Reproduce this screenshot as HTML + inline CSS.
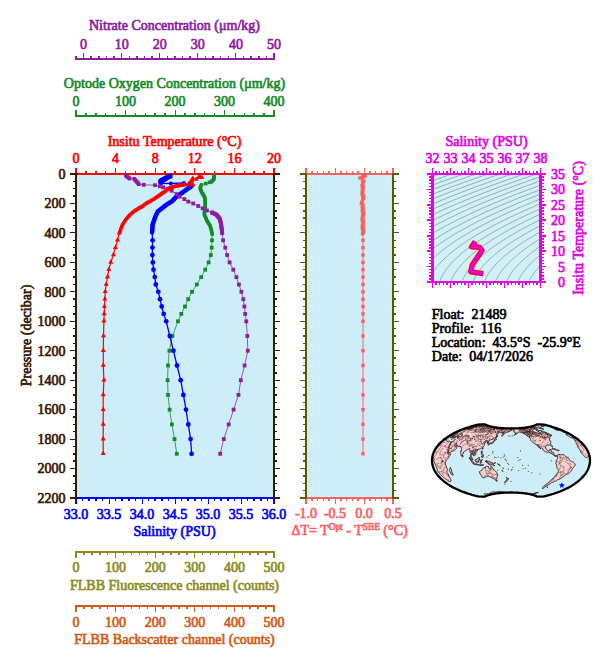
<!DOCTYPE html>
<html><head><meta charset="utf-8"><style>
html,body{margin:0;padding:0;background:#fff;width:609px;height:663px;overflow:hidden}
svg{display:block}
text{font-family:"Liberation Serif",serif;font-size:15px;stroke-width:0.7px}
</style></head><body>
<svg width="609" height="663" viewBox="0 0 609 663">
<g shape-rendering="crispEdges">
<rect x="75.00" y="58.00" width="200.00" height="2.00" fill="#901CA0"/>
<rect x="75.00" y="56.00" width="2.00" height="2.00" fill="#901CA0"/>
<rect x="83.12" y="53.00" width="1.00" height="5.00" fill="#901CA0"/>
<rect x="90.48" y="56.00" width="1.50" height="2.00" fill="#901CA0"/>
<rect x="98.10" y="56.00" width="1.50" height="2.00" fill="#901CA0"/>
<rect x="105.71" y="56.00" width="1.50" height="2.00" fill="#901CA0"/>
<rect x="113.33" y="56.00" width="1.50" height="2.00" fill="#901CA0"/>
<rect x="121.19" y="53.00" width="1.00" height="5.00" fill="#901CA0"/>
<rect x="128.56" y="56.00" width="1.50" height="2.00" fill="#901CA0"/>
<rect x="136.17" y="56.00" width="1.50" height="2.00" fill="#901CA0"/>
<rect x="143.79" y="56.00" width="1.50" height="2.00" fill="#901CA0"/>
<rect x="151.40" y="56.00" width="1.50" height="2.00" fill="#901CA0"/>
<rect x="159.27" y="53.00" width="1.00" height="5.00" fill="#901CA0"/>
<rect x="166.63" y="56.00" width="1.50" height="2.00" fill="#901CA0"/>
<rect x="174.25" y="56.00" width="1.50" height="2.00" fill="#901CA0"/>
<rect x="181.87" y="56.00" width="1.50" height="2.00" fill="#901CA0"/>
<rect x="189.48" y="56.00" width="1.50" height="2.00" fill="#901CA0"/>
<rect x="197.35" y="53.00" width="1.00" height="5.00" fill="#901CA0"/>
<rect x="204.71" y="56.00" width="1.50" height="2.00" fill="#901CA0"/>
<rect x="212.33" y="56.00" width="1.50" height="2.00" fill="#901CA0"/>
<rect x="219.94" y="56.00" width="1.50" height="2.00" fill="#901CA0"/>
<rect x="227.56" y="56.00" width="1.50" height="2.00" fill="#901CA0"/>
<rect x="235.42" y="53.00" width="1.00" height="5.00" fill="#901CA0"/>
<rect x="242.79" y="56.00" width="1.50" height="2.00" fill="#901CA0"/>
<rect x="250.40" y="56.00" width="1.50" height="2.00" fill="#901CA0"/>
<rect x="258.02" y="56.00" width="1.50" height="2.00" fill="#901CA0"/>
<rect x="265.63" y="56.00" width="1.50" height="2.00" fill="#901CA0"/>
<rect x="273.00" y="53.00" width="2.00" height="5.00" fill="#901CA0"/>
<text transform="translate(83.62,48.70) scale(0.935,1)" fill="#901CA0" stroke="#901CA0" text-anchor="middle" >0</text>
<text transform="translate(121.69,48.70) scale(0.935,1)" fill="#901CA0" stroke="#901CA0" text-anchor="middle" >10</text>
<text transform="translate(159.77,48.70) scale(0.935,1)" fill="#901CA0" stroke="#901CA0" text-anchor="middle" >20</text>
<text transform="translate(197.85,48.70) scale(0.935,1)" fill="#901CA0" stroke="#901CA0" text-anchor="middle" >30</text>
<text transform="translate(235.92,48.70) scale(0.935,1)" fill="#901CA0" stroke="#901CA0" text-anchor="middle" >40</text>
<text transform="translate(274.00,48.70) scale(0.935,1)" fill="#901CA0" stroke="#901CA0" text-anchor="middle" >50</text>
<rect x="75.00" y="115.00" width="200.00" height="2.00" fill="#148A28"/>
<rect x="75.00" y="110.00" width="2.00" height="5.00" fill="#148A28"/>
<rect x="85.15" y="113.00" width="1.50" height="2.00" fill="#148A28"/>
<rect x="95.05" y="113.00" width="1.50" height="2.00" fill="#148A28"/>
<rect x="104.95" y="113.00" width="1.50" height="2.00" fill="#148A28"/>
<rect x="114.85" y="113.00" width="1.50" height="2.00" fill="#148A28"/>
<rect x="125.00" y="110.00" width="1.00" height="5.00" fill="#148A28"/>
<rect x="134.65" y="113.00" width="1.50" height="2.00" fill="#148A28"/>
<rect x="144.55" y="113.00" width="1.50" height="2.00" fill="#148A28"/>
<rect x="154.45" y="113.00" width="1.50" height="2.00" fill="#148A28"/>
<rect x="164.35" y="113.00" width="1.50" height="2.00" fill="#148A28"/>
<rect x="174.50" y="110.00" width="1.00" height="5.00" fill="#148A28"/>
<rect x="184.15" y="113.00" width="1.50" height="2.00" fill="#148A28"/>
<rect x="194.05" y="113.00" width="1.50" height="2.00" fill="#148A28"/>
<rect x="203.95" y="113.00" width="1.50" height="2.00" fill="#148A28"/>
<rect x="213.85" y="113.00" width="1.50" height="2.00" fill="#148A28"/>
<rect x="224.00" y="110.00" width="1.00" height="5.00" fill="#148A28"/>
<rect x="233.65" y="113.00" width="1.50" height="2.00" fill="#148A28"/>
<rect x="243.55" y="113.00" width="1.50" height="2.00" fill="#148A28"/>
<rect x="253.45" y="113.00" width="1.50" height="2.00" fill="#148A28"/>
<rect x="263.35" y="113.00" width="1.50" height="2.00" fill="#148A28"/>
<rect x="273.00" y="110.00" width="2.00" height="5.00" fill="#148A28"/>
<text transform="translate(76.00,106.00) scale(0.935,1)" fill="#148A28" stroke="#148A28" text-anchor="middle" >0</text>
<text transform="translate(125.50,106.00) scale(0.935,1)" fill="#148A28" stroke="#148A28" text-anchor="middle" >100</text>
<text transform="translate(175.00,106.00) scale(0.935,1)" fill="#148A28" stroke="#148A28" text-anchor="middle" >200</text>
<text transform="translate(224.50,106.00) scale(0.935,1)" fill="#148A28" stroke="#148A28" text-anchor="middle" >300</text>
<text transform="translate(274.00,106.00) scale(0.935,1)" fill="#148A28" stroke="#148A28" text-anchor="middle" >400</text>
</g>
<text transform="translate(174.50,30.00) scale(0.935,1)" fill="#901CA0" stroke="#901CA0" text-anchor="middle" >Nitrate Concentration (&#956;m/kg)</text>
<text transform="translate(174.50,87.50) scale(0.935,1)" fill="#148A28" stroke="#148A28" text-anchor="middle" >Optode Oxygen Concentration (&#956;m/kg)</text>
<text transform="translate(174.50,146.00) scale(0.935,1)" fill="#FF0000" stroke="#FF0000" text-anchor="middle" >Insitu Temperature (&#176;C)</text>
<rect x="77.00" y="175.00" width="196.00" height="322.00" fill="#CDEEF8"/>
<g shape-rendering="crispEdges">
<rect x="75.00" y="173.00" width="200.00" height="2.00" fill="#FF0000"/>
<rect x="75.00" y="168.00" width="2.00" height="5.00" fill="#FF0000"/>
<rect x="85.15" y="171.00" width="1.50" height="2.00" fill="#FF0000"/>
<rect x="95.05" y="171.00" width="1.50" height="2.00" fill="#FF0000"/>
<rect x="104.95" y="171.00" width="1.50" height="2.00" fill="#FF0000"/>
<rect x="115.10" y="168.00" width="1.00" height="5.00" fill="#FF0000"/>
<rect x="124.75" y="171.00" width="1.50" height="2.00" fill="#FF0000"/>
<rect x="134.65" y="171.00" width="1.50" height="2.00" fill="#FF0000"/>
<rect x="144.55" y="171.00" width="1.50" height="2.00" fill="#FF0000"/>
<rect x="154.70" y="168.00" width="1.00" height="5.00" fill="#FF0000"/>
<rect x="164.35" y="171.00" width="1.50" height="2.00" fill="#FF0000"/>
<rect x="174.25" y="171.00" width="1.50" height="2.00" fill="#FF0000"/>
<rect x="184.15" y="171.00" width="1.50" height="2.00" fill="#FF0000"/>
<rect x="194.30" y="168.00" width="1.00" height="5.00" fill="#FF0000"/>
<rect x="203.95" y="171.00" width="1.50" height="2.00" fill="#FF0000"/>
<rect x="213.85" y="171.00" width="1.50" height="2.00" fill="#FF0000"/>
<rect x="223.75" y="171.00" width="1.50" height="2.00" fill="#FF0000"/>
<rect x="233.90" y="168.00" width="1.00" height="5.00" fill="#FF0000"/>
<rect x="243.55" y="171.00" width="1.50" height="2.00" fill="#FF0000"/>
<rect x="253.45" y="171.00" width="1.50" height="2.00" fill="#FF0000"/>
<rect x="263.35" y="171.00" width="1.50" height="2.00" fill="#FF0000"/>
<rect x="273.00" y="168.00" width="2.00" height="5.00" fill="#FF0000"/>
<text transform="translate(76.00,162.50) scale(0.935,1)" fill="#FF0000" stroke="#FF0000" text-anchor="middle" >0</text>
<text transform="translate(115.60,162.50) scale(0.935,1)" fill="#FF0000" stroke="#FF0000" text-anchor="middle" >4</text>
<text transform="translate(155.20,162.50) scale(0.935,1)" fill="#FF0000" stroke="#FF0000" text-anchor="middle" >8</text>
<text transform="translate(194.80,162.50) scale(0.935,1)" fill="#FF0000" stroke="#FF0000" text-anchor="middle" >12</text>
<text transform="translate(234.40,162.50) scale(0.935,1)" fill="#FF0000" stroke="#FF0000" text-anchor="middle" >16</text>
<text transform="translate(274.00,162.50) scale(0.935,1)" fill="#FF0000" stroke="#FF0000" text-anchor="middle" >20</text>
<rect x="75.00" y="497.00" width="200.00" height="2.00" fill="#0000FF"/>
<rect x="75.00" y="499.00" width="2.00" height="5.00" fill="#0000FF"/>
<rect x="81.85" y="499.00" width="1.50" height="2.00" fill="#0000FF"/>
<rect x="88.45" y="499.00" width="1.50" height="2.00" fill="#0000FF"/>
<rect x="95.05" y="499.00" width="1.50" height="2.00" fill="#0000FF"/>
<rect x="101.65" y="499.00" width="1.50" height="2.00" fill="#0000FF"/>
<rect x="108.50" y="499.00" width="1.00" height="5.00" fill="#0000FF"/>
<rect x="114.85" y="499.00" width="1.50" height="2.00" fill="#0000FF"/>
<rect x="121.45" y="499.00" width="1.50" height="2.00" fill="#0000FF"/>
<rect x="128.05" y="499.00" width="1.50" height="2.00" fill="#0000FF"/>
<rect x="134.65" y="499.00" width="1.50" height="2.00" fill="#0000FF"/>
<rect x="141.50" y="499.00" width="1.00" height="5.00" fill="#0000FF"/>
<rect x="147.85" y="499.00" width="1.50" height="2.00" fill="#0000FF"/>
<rect x="154.45" y="499.00" width="1.50" height="2.00" fill="#0000FF"/>
<rect x="161.05" y="499.00" width="1.50" height="2.00" fill="#0000FF"/>
<rect x="167.65" y="499.00" width="1.50" height="2.00" fill="#0000FF"/>
<rect x="174.50" y="499.00" width="1.00" height="5.00" fill="#0000FF"/>
<rect x="180.85" y="499.00" width="1.50" height="2.00" fill="#0000FF"/>
<rect x="187.45" y="499.00" width="1.50" height="2.00" fill="#0000FF"/>
<rect x="194.05" y="499.00" width="1.50" height="2.00" fill="#0000FF"/>
<rect x="200.65" y="499.00" width="1.50" height="2.00" fill="#0000FF"/>
<rect x="207.50" y="499.00" width="1.00" height="5.00" fill="#0000FF"/>
<rect x="213.85" y="499.00" width="1.50" height="2.00" fill="#0000FF"/>
<rect x="220.45" y="499.00" width="1.50" height="2.00" fill="#0000FF"/>
<rect x="227.05" y="499.00" width="1.50" height="2.00" fill="#0000FF"/>
<rect x="233.65" y="499.00" width="1.50" height="2.00" fill="#0000FF"/>
<rect x="240.50" y="499.00" width="1.00" height="5.00" fill="#0000FF"/>
<rect x="246.85" y="499.00" width="1.50" height="2.00" fill="#0000FF"/>
<rect x="253.45" y="499.00" width="1.50" height="2.00" fill="#0000FF"/>
<rect x="260.05" y="499.00" width="1.50" height="2.00" fill="#0000FF"/>
<rect x="266.65" y="499.00" width="1.50" height="2.00" fill="#0000FF"/>
<rect x="273.00" y="499.00" width="2.00" height="5.00" fill="#0000FF"/>
<text transform="translate(76.00,518.50) scale(0.935,1)" fill="#0000FF" stroke="#0000FF" text-anchor="middle" >33.0</text>
<text transform="translate(109.00,518.50) scale(0.935,1)" fill="#0000FF" stroke="#0000FF" text-anchor="middle" >33.5</text>
<text transform="translate(142.00,518.50) scale(0.935,1)" fill="#0000FF" stroke="#0000FF" text-anchor="middle" >34.0</text>
<text transform="translate(175.00,518.50) scale(0.935,1)" fill="#0000FF" stroke="#0000FF" text-anchor="middle" >34.5</text>
<text transform="translate(208.00,518.50) scale(0.935,1)" fill="#0000FF" stroke="#0000FF" text-anchor="middle" >35.0</text>
<text transform="translate(241.00,518.50) scale(0.935,1)" fill="#0000FF" stroke="#0000FF" text-anchor="middle" >35.5</text>
<text transform="translate(274.00,518.50) scale(0.935,1)" fill="#0000FF" stroke="#0000FF" text-anchor="middle" >36.0</text>
<rect x="75.00" y="173.00" width="2.00" height="326.00" fill="#3A1800"/>
<rect x="273.00" y="173.00" width="2.00" height="326.00" fill="#3A1800"/>
<rect x="70.00" y="173.00" width="5.00" height="2.00" fill="#3A1800"/>
<rect x="275.00" y="173.00" width="5.00" height="2.00" fill="#3A1800"/>
<rect x="73.00" y="180.61" width="2.00" height="1.50" fill="#3A1800"/>
<rect x="275.00" y="180.61" width="2.00" height="1.50" fill="#3A1800"/>
<rect x="73.00" y="187.98" width="2.00" height="1.50" fill="#3A1800"/>
<rect x="275.00" y="187.98" width="2.00" height="1.50" fill="#3A1800"/>
<rect x="73.00" y="195.34" width="2.00" height="1.50" fill="#3A1800"/>
<rect x="275.00" y="195.34" width="2.00" height="1.50" fill="#3A1800"/>
<rect x="70.00" y="202.95" width="5.00" height="1.00" fill="#3A1800"/>
<rect x="275.00" y="202.95" width="5.00" height="1.00" fill="#3A1800"/>
<rect x="73.00" y="210.07" width="2.00" height="1.50" fill="#3A1800"/>
<rect x="275.00" y="210.07" width="2.00" height="1.50" fill="#3A1800"/>
<rect x="73.00" y="217.43" width="2.00" height="1.50" fill="#3A1800"/>
<rect x="275.00" y="217.43" width="2.00" height="1.50" fill="#3A1800"/>
<rect x="73.00" y="224.80" width="2.00" height="1.50" fill="#3A1800"/>
<rect x="275.00" y="224.80" width="2.00" height="1.50" fill="#3A1800"/>
<rect x="70.00" y="232.41" width="5.00" height="1.00" fill="#3A1800"/>
<rect x="275.00" y="232.41" width="5.00" height="1.00" fill="#3A1800"/>
<rect x="73.00" y="239.52" width="2.00" height="1.50" fill="#3A1800"/>
<rect x="275.00" y="239.52" width="2.00" height="1.50" fill="#3A1800"/>
<rect x="73.00" y="246.89" width="2.00" height="1.50" fill="#3A1800"/>
<rect x="275.00" y="246.89" width="2.00" height="1.50" fill="#3A1800"/>
<rect x="73.00" y="254.25" width="2.00" height="1.50" fill="#3A1800"/>
<rect x="275.00" y="254.25" width="2.00" height="1.50" fill="#3A1800"/>
<rect x="70.00" y="261.86" width="5.00" height="1.00" fill="#3A1800"/>
<rect x="275.00" y="261.86" width="5.00" height="1.00" fill="#3A1800"/>
<rect x="73.00" y="268.98" width="2.00" height="1.50" fill="#3A1800"/>
<rect x="275.00" y="268.98" width="2.00" height="1.50" fill="#3A1800"/>
<rect x="73.00" y="276.34" width="2.00" height="1.50" fill="#3A1800"/>
<rect x="275.00" y="276.34" width="2.00" height="1.50" fill="#3A1800"/>
<rect x="73.00" y="283.70" width="2.00" height="1.50" fill="#3A1800"/>
<rect x="275.00" y="283.70" width="2.00" height="1.50" fill="#3A1800"/>
<rect x="70.00" y="291.32" width="5.00" height="1.00" fill="#3A1800"/>
<rect x="275.00" y="291.32" width="5.00" height="1.00" fill="#3A1800"/>
<rect x="73.00" y="298.43" width="2.00" height="1.50" fill="#3A1800"/>
<rect x="275.00" y="298.43" width="2.00" height="1.50" fill="#3A1800"/>
<rect x="73.00" y="305.80" width="2.00" height="1.50" fill="#3A1800"/>
<rect x="275.00" y="305.80" width="2.00" height="1.50" fill="#3A1800"/>
<rect x="73.00" y="313.16" width="2.00" height="1.50" fill="#3A1800"/>
<rect x="275.00" y="313.16" width="2.00" height="1.50" fill="#3A1800"/>
<rect x="70.00" y="320.77" width="5.00" height="1.00" fill="#3A1800"/>
<rect x="275.00" y="320.77" width="5.00" height="1.00" fill="#3A1800"/>
<rect x="73.00" y="327.89" width="2.00" height="1.50" fill="#3A1800"/>
<rect x="275.00" y="327.89" width="2.00" height="1.50" fill="#3A1800"/>
<rect x="73.00" y="335.25" width="2.00" height="1.50" fill="#3A1800"/>
<rect x="275.00" y="335.25" width="2.00" height="1.50" fill="#3A1800"/>
<rect x="73.00" y="342.61" width="2.00" height="1.50" fill="#3A1800"/>
<rect x="275.00" y="342.61" width="2.00" height="1.50" fill="#3A1800"/>
<rect x="70.00" y="350.23" width="5.00" height="1.00" fill="#3A1800"/>
<rect x="275.00" y="350.23" width="5.00" height="1.00" fill="#3A1800"/>
<rect x="73.00" y="357.34" width="2.00" height="1.50" fill="#3A1800"/>
<rect x="275.00" y="357.34" width="2.00" height="1.50" fill="#3A1800"/>
<rect x="73.00" y="364.70" width="2.00" height="1.50" fill="#3A1800"/>
<rect x="275.00" y="364.70" width="2.00" height="1.50" fill="#3A1800"/>
<rect x="73.00" y="372.07" width="2.00" height="1.50" fill="#3A1800"/>
<rect x="275.00" y="372.07" width="2.00" height="1.50" fill="#3A1800"/>
<rect x="70.00" y="379.68" width="5.00" height="1.00" fill="#3A1800"/>
<rect x="275.00" y="379.68" width="5.00" height="1.00" fill="#3A1800"/>
<rect x="73.00" y="386.80" width="2.00" height="1.50" fill="#3A1800"/>
<rect x="275.00" y="386.80" width="2.00" height="1.50" fill="#3A1800"/>
<rect x="73.00" y="394.16" width="2.00" height="1.50" fill="#3A1800"/>
<rect x="275.00" y="394.16" width="2.00" height="1.50" fill="#3A1800"/>
<rect x="73.00" y="401.52" width="2.00" height="1.50" fill="#3A1800"/>
<rect x="275.00" y="401.52" width="2.00" height="1.50" fill="#3A1800"/>
<rect x="70.00" y="409.14" width="5.00" height="1.00" fill="#3A1800"/>
<rect x="275.00" y="409.14" width="5.00" height="1.00" fill="#3A1800"/>
<rect x="73.00" y="416.25" width="2.00" height="1.50" fill="#3A1800"/>
<rect x="275.00" y="416.25" width="2.00" height="1.50" fill="#3A1800"/>
<rect x="73.00" y="423.61" width="2.00" height="1.50" fill="#3A1800"/>
<rect x="275.00" y="423.61" width="2.00" height="1.50" fill="#3A1800"/>
<rect x="73.00" y="430.98" width="2.00" height="1.50" fill="#3A1800"/>
<rect x="275.00" y="430.98" width="2.00" height="1.50" fill="#3A1800"/>
<rect x="70.00" y="438.59" width="5.00" height="1.00" fill="#3A1800"/>
<rect x="275.00" y="438.59" width="5.00" height="1.00" fill="#3A1800"/>
<rect x="73.00" y="445.70" width="2.00" height="1.50" fill="#3A1800"/>
<rect x="275.00" y="445.70" width="2.00" height="1.50" fill="#3A1800"/>
<rect x="73.00" y="453.07" width="2.00" height="1.50" fill="#3A1800"/>
<rect x="275.00" y="453.07" width="2.00" height="1.50" fill="#3A1800"/>
<rect x="73.00" y="460.43" width="2.00" height="1.50" fill="#3A1800"/>
<rect x="275.00" y="460.43" width="2.00" height="1.50" fill="#3A1800"/>
<rect x="70.00" y="468.05" width="5.00" height="1.00" fill="#3A1800"/>
<rect x="275.00" y="468.05" width="5.00" height="1.00" fill="#3A1800"/>
<rect x="73.00" y="475.16" width="2.00" height="1.50" fill="#3A1800"/>
<rect x="275.00" y="475.16" width="2.00" height="1.50" fill="#3A1800"/>
<rect x="73.00" y="482.52" width="2.00" height="1.50" fill="#3A1800"/>
<rect x="275.00" y="482.52" width="2.00" height="1.50" fill="#3A1800"/>
<rect x="73.00" y="489.89" width="2.00" height="1.50" fill="#3A1800"/>
<rect x="275.00" y="489.89" width="2.00" height="1.50" fill="#3A1800"/>
<rect x="70.00" y="497.00" width="5.00" height="2.00" fill="#3A1800"/>
<rect x="275.00" y="497.00" width="5.00" height="2.00" fill="#3A1800"/>
</g>
<text transform="translate(65.50,178.80) scale(0.935,1)" fill="#3A1800" stroke="#3A1800" text-anchor="end" >0</text>
<text transform="translate(65.50,208.25) scale(0.935,1)" fill="#3A1800" stroke="#3A1800" text-anchor="end" >200</text>
<text transform="translate(65.50,237.71) scale(0.935,1)" fill="#3A1800" stroke="#3A1800" text-anchor="end" >400</text>
<text transform="translate(65.50,267.16) scale(0.935,1)" fill="#3A1800" stroke="#3A1800" text-anchor="end" >600</text>
<text transform="translate(65.50,296.62) scale(0.935,1)" fill="#3A1800" stroke="#3A1800" text-anchor="end" >800</text>
<text transform="translate(65.50,326.07) scale(0.935,1)" fill="#3A1800" stroke="#3A1800" text-anchor="end" >1000</text>
<text transform="translate(65.50,355.53) scale(0.935,1)" fill="#3A1800" stroke="#3A1800" text-anchor="end" >1200</text>
<text transform="translate(65.50,384.98) scale(0.935,1)" fill="#3A1800" stroke="#3A1800" text-anchor="end" >1400</text>
<text transform="translate(65.50,414.44) scale(0.935,1)" fill="#3A1800" stroke="#3A1800" text-anchor="end" >1600</text>
<text transform="translate(65.50,443.89) scale(0.935,1)" fill="#3A1800" stroke="#3A1800" text-anchor="end" >1800</text>
<text transform="translate(65.50,473.35) scale(0.935,1)" fill="#3A1800" stroke="#3A1800" text-anchor="end" >2000</text>
<text transform="translate(65.50,502.80) scale(0.935,1)" fill="#3A1800" stroke="#3A1800" text-anchor="end" >2200</text>
<text transform="translate(30.5,335.5) rotate(-90) scale(0.935,1)" fill="#3A1800" stroke="#3A1800" text-anchor="middle">Pressure (decibar)</text>
<text transform="translate(174.50,536.40) scale(0.935,1)" fill="#0000FF" stroke="#0000FF" text-anchor="middle" >Salinity (PSU)</text>
<g shape-rendering="crispEdges">
<rect x="75.00" y="551.00" width="200.00" height="2.00" fill="#8C8C22"/>
<rect x="75.00" y="553.00" width="2.00" height="5.00" fill="#8C8C22"/>
<rect x="83.17" y="553.00" width="1.50" height="2.00" fill="#8C8C22"/>
<rect x="91.09" y="553.00" width="1.50" height="2.00" fill="#8C8C22"/>
<rect x="99.01" y="553.00" width="1.50" height="2.00" fill="#8C8C22"/>
<rect x="106.93" y="553.00" width="1.50" height="2.00" fill="#8C8C22"/>
<rect x="115.10" y="553.00" width="1.00" height="5.00" fill="#8C8C22"/>
<rect x="122.77" y="553.00" width="1.50" height="2.00" fill="#8C8C22"/>
<rect x="130.69" y="553.00" width="1.50" height="2.00" fill="#8C8C22"/>
<rect x="138.61" y="553.00" width="1.50" height="2.00" fill="#8C8C22"/>
<rect x="146.53" y="553.00" width="1.50" height="2.00" fill="#8C8C22"/>
<rect x="154.70" y="553.00" width="1.00" height="5.00" fill="#8C8C22"/>
<rect x="162.37" y="553.00" width="1.50" height="2.00" fill="#8C8C22"/>
<rect x="170.29" y="553.00" width="1.50" height="2.00" fill="#8C8C22"/>
<rect x="178.21" y="553.00" width="1.50" height="2.00" fill="#8C8C22"/>
<rect x="186.13" y="553.00" width="1.50" height="2.00" fill="#8C8C22"/>
<rect x="194.30" y="553.00" width="1.00" height="5.00" fill="#8C8C22"/>
<rect x="201.97" y="553.00" width="1.50" height="2.00" fill="#8C8C22"/>
<rect x="209.89" y="553.00" width="1.50" height="2.00" fill="#8C8C22"/>
<rect x="217.81" y="553.00" width="1.50" height="2.00" fill="#8C8C22"/>
<rect x="225.73" y="553.00" width="1.50" height="2.00" fill="#8C8C22"/>
<rect x="233.90" y="553.00" width="1.00" height="5.00" fill="#8C8C22"/>
<rect x="241.57" y="553.00" width="1.50" height="2.00" fill="#8C8C22"/>
<rect x="249.49" y="553.00" width="1.50" height="2.00" fill="#8C8C22"/>
<rect x="257.41" y="553.00" width="1.50" height="2.00" fill="#8C8C22"/>
<rect x="265.33" y="553.00" width="1.50" height="2.00" fill="#8C8C22"/>
<rect x="273.00" y="553.00" width="2.00" height="5.00" fill="#8C8C22"/>
<text transform="translate(76.00,572.00) scale(0.935,1)" fill="#8C8C22" stroke="#8C8C22" text-anchor="middle" >0</text>
<text transform="translate(115.60,572.00) scale(0.935,1)" fill="#8C8C22" stroke="#8C8C22" text-anchor="middle" >100</text>
<text transform="translate(155.20,572.00) scale(0.935,1)" fill="#8C8C22" stroke="#8C8C22" text-anchor="middle" >200</text>
<text transform="translate(194.80,572.00) scale(0.935,1)" fill="#8C8C22" stroke="#8C8C22" text-anchor="middle" >300</text>
<text transform="translate(234.40,572.00) scale(0.935,1)" fill="#8C8C22" stroke="#8C8C22" text-anchor="middle" >400</text>
<text transform="translate(274.00,572.00) scale(0.935,1)" fill="#8C8C22" stroke="#8C8C22" text-anchor="middle" >500</text>
<rect x="75.00" y="605.00" width="200.00" height="2.00" fill="#D25A14"/>
<rect x="75.00" y="607.00" width="2.00" height="5.00" fill="#D25A14"/>
<rect x="83.17" y="607.00" width="1.50" height="2.00" fill="#D25A14"/>
<rect x="91.09" y="607.00" width="1.50" height="2.00" fill="#D25A14"/>
<rect x="99.01" y="607.00" width="1.50" height="2.00" fill="#D25A14"/>
<rect x="106.93" y="607.00" width="1.50" height="2.00" fill="#D25A14"/>
<rect x="115.10" y="607.00" width="1.00" height="5.00" fill="#D25A14"/>
<rect x="122.77" y="607.00" width="1.50" height="2.00" fill="#D25A14"/>
<rect x="130.69" y="607.00" width="1.50" height="2.00" fill="#D25A14"/>
<rect x="138.61" y="607.00" width="1.50" height="2.00" fill="#D25A14"/>
<rect x="146.53" y="607.00" width="1.50" height="2.00" fill="#D25A14"/>
<rect x="154.70" y="607.00" width="1.00" height="5.00" fill="#D25A14"/>
<rect x="162.37" y="607.00" width="1.50" height="2.00" fill="#D25A14"/>
<rect x="170.29" y="607.00" width="1.50" height="2.00" fill="#D25A14"/>
<rect x="178.21" y="607.00" width="1.50" height="2.00" fill="#D25A14"/>
<rect x="186.13" y="607.00" width="1.50" height="2.00" fill="#D25A14"/>
<rect x="194.30" y="607.00" width="1.00" height="5.00" fill="#D25A14"/>
<rect x="201.97" y="607.00" width="1.50" height="2.00" fill="#D25A14"/>
<rect x="209.89" y="607.00" width="1.50" height="2.00" fill="#D25A14"/>
<rect x="217.81" y="607.00" width="1.50" height="2.00" fill="#D25A14"/>
<rect x="225.73" y="607.00" width="1.50" height="2.00" fill="#D25A14"/>
<rect x="233.90" y="607.00" width="1.00" height="5.00" fill="#D25A14"/>
<rect x="241.57" y="607.00" width="1.50" height="2.00" fill="#D25A14"/>
<rect x="249.49" y="607.00" width="1.50" height="2.00" fill="#D25A14"/>
<rect x="257.41" y="607.00" width="1.50" height="2.00" fill="#D25A14"/>
<rect x="265.33" y="607.00" width="1.50" height="2.00" fill="#D25A14"/>
<rect x="273.00" y="607.00" width="2.00" height="5.00" fill="#D25A14"/>
<text transform="translate(76.00,626.50) scale(0.935,1)" fill="#D25A14" stroke="#D25A14" text-anchor="middle" >0</text>
<text transform="translate(115.60,626.50) scale(0.935,1)" fill="#D25A14" stroke="#D25A14" text-anchor="middle" >100</text>
<text transform="translate(155.20,626.50) scale(0.935,1)" fill="#D25A14" stroke="#D25A14" text-anchor="middle" >200</text>
<text transform="translate(194.80,626.50) scale(0.935,1)" fill="#D25A14" stroke="#D25A14" text-anchor="middle" >300</text>
<text transform="translate(234.40,626.50) scale(0.935,1)" fill="#D25A14" stroke="#D25A14" text-anchor="middle" >400</text>
<text transform="translate(274.00,626.50) scale(0.935,1)" fill="#D25A14" stroke="#D25A14" text-anchor="middle" >500</text>
</g>
<text transform="translate(174.50,590.00) scale(0.935,1)" fill="#8C8C22" stroke="#8C8C22" text-anchor="middle" >FLBB Fluorescence channel (counts)</text>
<text transform="translate(174.50,644.00) scale(0.935,1)" fill="#D25A14" stroke="#D25A14" text-anchor="middle" >FLBB Backscatter channel (counts)</text>
<path d="M214.3,175.2 L213.7,179.4 L211.1,182.0 L206.9,183.1 L201.6,184.7 L200.0,187.8 L201.6,192.1 L204.8,197.3 L205.3,203.7 L204.8,210.0 L204.2,214.2 L206.9,220.5 L210.1,225.8 L211.6,231.1 L212.2,234.3 L212.0,240.3 L211.7,247.6 L210.8,255.0 L208.6,262.4 L205.2,269.7 L201.2,277.1 L196.8,284.5 L192.0,291.8 L188.2,299.2 L185.0,306.5 L181.3,313.9 L178.0,321.3 L172.4,336.0 L169.4,350.7 L168.0,365.5 L167.6,380.2 L168.0,394.9 L169.6,409.6 L171.9,424.4 L174.5,439.1 L176.8,453.8" fill="none" stroke="#40A050" stroke-width="1" />
<rect x="212.6" y="173.5" width="3.4" height="3.4" fill="#148A28"/>
<rect x="212.5" y="174.6" width="3.4" height="3.4" fill="#148A28"/>
<rect x="212.3" y="175.6" width="3.4" height="3.4" fill="#148A28"/>
<rect x="212.2" y="176.7" width="3.4" height="3.4" fill="#148A28"/>
<rect x="212.0" y="177.7" width="3.4" height="3.4" fill="#148A28"/>
<rect x="211.1" y="178.6" width="3.4" height="3.4" fill="#148A28"/>
<rect x="210.3" y="179.4" width="3.4" height="3.4" fill="#148A28"/>
<rect x="209.4" y="180.3" width="3.4" height="3.4" fill="#148A28"/>
<rect x="207.8" y="180.5" width="3.6" height="3.6" fill="#148A28"/>
<rect x="204.0" y="181.8" width="3.6" height="3.6" fill="#148A28"/>
<rect x="200.0" y="183.1" width="3.2" height="3.2" fill="#148A28"/>
<rect x="199.5" y="184.1" width="3.2" height="3.2" fill="#148A28"/>
<rect x="198.9" y="185.2" width="3.2" height="3.2" fill="#148A28"/>
<rect x="198.4" y="186.2" width="3.2" height="3.2" fill="#148A28"/>
<rect x="198.8" y="187.3" width="3.2" height="3.2" fill="#148A28"/>
<rect x="199.2" y="188.3" width="3.2" height="3.2" fill="#148A28"/>
<rect x="199.6" y="189.4" width="3.2" height="3.2" fill="#148A28"/>
<rect x="200.0" y="190.5" width="3.2" height="3.2" fill="#148A28"/>
<rect x="200.5" y="191.4" width="3.2" height="3.2" fill="#148A28"/>
<rect x="201.1" y="192.2" width="3.2" height="3.2" fill="#148A28"/>
<rect x="201.6" y="193.1" width="3.2" height="3.2" fill="#148A28"/>
<rect x="202.1" y="194.0" width="3.2" height="3.2" fill="#148A28"/>
<rect x="202.7" y="194.8" width="3.2" height="3.2" fill="#148A28"/>
<rect x="203.2" y="195.7" width="3.2" height="3.2" fill="#148A28"/>
<rect x="203.3" y="196.8" width="3.2" height="3.2" fill="#148A28"/>
<rect x="203.4" y="197.8" width="3.2" height="3.2" fill="#148A28"/>
<rect x="203.5" y="198.9" width="3.2" height="3.2" fill="#148A28"/>
<rect x="203.5" y="200.0" width="3.2" height="3.2" fill="#148A28"/>
<rect x="203.6" y="201.0" width="3.2" height="3.2" fill="#148A28"/>
<rect x="203.7" y="202.1" width="3.2" height="3.2" fill="#148A28"/>
<rect x="203.6" y="203.2" width="3.2" height="3.2" fill="#148A28"/>
<rect x="203.5" y="204.2" width="3.2" height="3.2" fill="#148A28"/>
<rect x="203.5" y="205.2" width="3.2" height="3.2" fill="#148A28"/>
<rect x="203.4" y="206.3" width="3.2" height="3.2" fill="#148A28"/>
<rect x="203.3" y="207.3" width="3.2" height="3.2" fill="#148A28"/>
<rect x="203.2" y="208.4" width="3.2" height="3.2" fill="#148A28"/>
<rect x="203.1" y="209.5" width="3.2" height="3.2" fill="#148A28"/>
<rect x="202.9" y="210.5" width="3.2" height="3.2" fill="#148A28"/>
<rect x="202.8" y="211.5" width="3.2" height="3.2" fill="#148A28"/>
<rect x="202.6" y="212.6" width="3.2" height="3.2" fill="#148A28"/>
<rect x="203.0" y="213.7" width="3.2" height="3.2" fill="#148A28"/>
<rect x="203.5" y="214.7" width="3.2" height="3.2" fill="#148A28"/>
<rect x="204.0" y="215.8" width="3.2" height="3.2" fill="#148A28"/>
<rect x="204.4" y="216.8" width="3.2" height="3.2" fill="#148A28"/>
<rect x="204.8" y="217.8" width="3.2" height="3.2" fill="#148A28"/>
<rect x="205.3" y="218.9" width="3.2" height="3.2" fill="#148A28"/>
<rect x="205.8" y="219.8" width="3.2" height="3.2" fill="#148A28"/>
<rect x="206.4" y="220.7" width="3.2" height="3.2" fill="#148A28"/>
<rect x="206.9" y="221.6" width="3.2" height="3.2" fill="#148A28"/>
<rect x="207.4" y="222.4" width="3.2" height="3.2" fill="#148A28"/>
<rect x="208.0" y="223.3" width="3.2" height="3.2" fill="#148A28"/>
<rect x="208.5" y="224.2" width="3.2" height="3.2" fill="#148A28"/>
<rect x="208.8" y="225.3" width="3.2" height="3.2" fill="#148A28"/>
<rect x="209.1" y="226.3" width="3.2" height="3.2" fill="#148A28"/>
<rect x="209.4" y="227.4" width="3.2" height="3.2" fill="#148A28"/>
<rect x="209.7" y="228.4" width="3.2" height="3.2" fill="#148A28"/>
<rect x="210.0" y="229.5" width="3.2" height="3.2" fill="#148A28"/>
<rect x="210.2" y="230.6" width="3.2" height="3.2" fill="#148A28"/>
<rect x="210.4" y="231.6" width="3.2" height="3.2" fill="#148A28"/>
<rect x="210.6" y="232.7" width="3.2" height="3.2" fill="#148A28"/>
<rect x="210.1" y="238.4" width="3.8" height="3.8" fill="#148A28"/>
<rect x="209.8" y="245.7" width="3.8" height="3.8" fill="#148A28"/>
<rect x="208.9" y="253.1" width="3.8" height="3.8" fill="#148A28"/>
<rect x="206.7" y="260.5" width="3.8" height="3.8" fill="#148A28"/>
<rect x="203.3" y="267.8" width="3.8" height="3.8" fill="#148A28"/>
<rect x="199.3" y="275.2" width="3.8" height="3.8" fill="#148A28"/>
<rect x="194.9" y="282.6" width="3.8" height="3.8" fill="#148A28"/>
<rect x="190.1" y="289.9" width="3.8" height="3.8" fill="#148A28"/>
<rect x="186.3" y="297.3" width="3.8" height="3.8" fill="#148A28"/>
<rect x="183.1" y="304.6" width="3.8" height="3.8" fill="#148A28"/>
<rect x="179.4" y="312.0" width="3.8" height="3.8" fill="#148A28"/>
<rect x="176.1" y="319.4" width="3.8" height="3.8" fill="#148A28"/>
<rect x="170.5" y="334.1" width="3.8" height="3.8" fill="#148A28"/>
<rect x="167.5" y="348.8" width="3.8" height="3.8" fill="#148A28"/>
<rect x="166.1" y="363.6" width="3.8" height="3.8" fill="#148A28"/>
<rect x="165.7" y="378.3" width="3.8" height="3.8" fill="#148A28"/>
<rect x="166.1" y="393.0" width="3.8" height="3.8" fill="#148A28"/>
<rect x="167.7" y="407.7" width="3.8" height="3.8" fill="#148A28"/>
<rect x="170.0" y="422.5" width="3.8" height="3.8" fill="#148A28"/>
<rect x="172.6" y="437.2" width="3.8" height="3.8" fill="#148A28"/>
<rect x="174.9" y="451.9" width="3.8" height="3.8" fill="#148A28"/>
<path d="M170.1,176.0 L164.2,179.2 L160.9,181.5 L162.0,183.3 L170.8,183.5 L183.9,182.8 L191.3,186.3" fill="none" stroke="#0000FF" stroke-width="1.3" />
<path d="M191.3,186.3 L186.4,189.7 L181.5,193.2 L176.5,196.6 L171.6,201.6 L166.7,204.5 L161.7,208.5 L157.8,211.4 L155.3,216.8 L152.6,224.7 L152.1,232.6 L152.6,240.3 L152.4,247.6 L152.4,255.0 L152.8,262.4 L153.5,269.7 L154.8,277.1 L155.8,284.5 L158.3,291.8 L160.0,299.2 L161.7,306.5 L163.7,313.9 L166.2,321.3 L169.8,336.0 L173.4,350.7 L177.0,365.5 L180.7,380.2 L183.4,394.9 L186.0,409.6 L188.3,424.4 L190.6,439.1 L191.6,453.8" fill="none" stroke="#0000FF" stroke-width="1.3" />
<circle cx="170.1" cy="176.0" r="2.6" fill="#0000FF"/>
<circle cx="169.1" cy="176.5" r="2.6" fill="#0000FF"/>
<circle cx="168.0" cy="177.1" r="2.6" fill="#0000FF"/>
<circle cx="167.0" cy="177.6" r="2.6" fill="#0000FF"/>
<circle cx="166.1" cy="178.1" r="2.6" fill="#0000FF"/>
<circle cx="165.1" cy="178.7" r="2.6" fill="#0000FF"/>
<circle cx="164.2" cy="179.2" r="2.6" fill="#0000FF"/>
<circle cx="163.1" cy="179.7" r="2.6" fill="#0000FF"/>
<circle cx="162.0" cy="180.3" r="2.6" fill="#0000FF"/>
<circle cx="160.9" cy="180.8" r="2.6" fill="#0000FF"/>
<circle cx="160.9" cy="182.6" r="2.6" fill="#0000FF"/>
<circle cx="170.8" cy="183.5" r="2.0" fill="#0000FF"/>
<circle cx="183.9" cy="182.8" r="1.8" fill="#0000FF"/>
<circle cx="191.3" cy="186.3" r="2.2" fill="#0000FF"/>
<circle cx="190.3" cy="187.0" r="2.2" fill="#0000FF"/>
<circle cx="189.3" cy="187.7" r="2.2" fill="#0000FF"/>
<circle cx="188.4" cy="188.3" r="2.2" fill="#0000FF"/>
<circle cx="187.4" cy="189.0" r="2.2" fill="#0000FF"/>
<circle cx="186.4" cy="189.7" r="2.2" fill="#0000FF"/>
<circle cx="185.6" cy="190.3" r="2.2" fill="#0000FF"/>
<circle cx="184.8" cy="190.9" r="2.2" fill="#0000FF"/>
<circle cx="183.9" cy="191.4" r="2.2" fill="#0000FF"/>
<circle cx="183.1" cy="192.0" r="2.2" fill="#0000FF"/>
<circle cx="182.3" cy="192.6" r="2.2" fill="#0000FF"/>
<circle cx="181.5" cy="193.2" r="2.2" fill="#0000FF"/>
<circle cx="180.7" cy="193.8" r="2.2" fill="#0000FF"/>
<circle cx="179.8" cy="194.3" r="2.2" fill="#0000FF"/>
<circle cx="179.0" cy="194.9" r="2.2" fill="#0000FF"/>
<circle cx="178.2" cy="195.5" r="2.2" fill="#0000FF"/>
<circle cx="177.3" cy="196.0" r="2.2" fill="#0000FF"/>
<circle cx="176.5" cy="196.6" r="2.2" fill="#0000FF"/>
<circle cx="175.8" cy="197.3" r="2.2" fill="#0000FF"/>
<circle cx="175.1" cy="198.0" r="2.2" fill="#0000FF"/>
<circle cx="174.4" cy="198.7" r="2.2" fill="#0000FF"/>
<circle cx="173.7" cy="199.5" r="2.2" fill="#0000FF"/>
<circle cx="173.0" cy="200.2" r="2.2" fill="#0000FF"/>
<circle cx="172.3" cy="200.9" r="2.2" fill="#0000FF"/>
<circle cx="171.6" cy="201.6" r="2.2" fill="#0000FF"/>
<circle cx="170.6" cy="202.2" r="2.2" fill="#0000FF"/>
<circle cx="169.6" cy="202.8" r="2.2" fill="#0000FF"/>
<circle cx="168.7" cy="203.3" r="2.2" fill="#0000FF"/>
<circle cx="167.7" cy="203.9" r="2.2" fill="#0000FF"/>
<circle cx="166.7" cy="204.5" r="2.2" fill="#0000FF"/>
<circle cx="165.9" cy="205.2" r="2.2" fill="#0000FF"/>
<circle cx="165.0" cy="205.8" r="2.2" fill="#0000FF"/>
<circle cx="164.2" cy="206.5" r="2.2" fill="#0000FF"/>
<circle cx="163.4" cy="207.2" r="2.2" fill="#0000FF"/>
<circle cx="162.5" cy="207.8" r="2.2" fill="#0000FF"/>
<circle cx="161.7" cy="208.5" r="2.2" fill="#0000FF"/>
<circle cx="160.7" cy="209.2" r="2.2" fill="#0000FF"/>
<circle cx="159.8" cy="209.9" r="2.2" fill="#0000FF"/>
<circle cx="158.8" cy="210.7" r="2.2" fill="#0000FF"/>
<circle cx="157.8" cy="211.4" r="2.2" fill="#0000FF"/>
<circle cx="157.3" cy="212.5" r="2.2" fill="#0000FF"/>
<circle cx="156.8" cy="213.6" r="2.2" fill="#0000FF"/>
<circle cx="156.3" cy="214.6" r="2.2" fill="#0000FF"/>
<circle cx="155.8" cy="215.7" r="2.2" fill="#0000FF"/>
<circle cx="155.3" cy="216.8" r="2.2" fill="#0000FF"/>
<circle cx="155.0" cy="217.8" r="2.2" fill="#0000FF"/>
<circle cx="154.6" cy="218.8" r="2.2" fill="#0000FF"/>
<circle cx="154.3" cy="219.8" r="2.2" fill="#0000FF"/>
<circle cx="153.9" cy="220.8" r="2.2" fill="#0000FF"/>
<circle cx="153.6" cy="221.7" r="2.2" fill="#0000FF"/>
<circle cx="153.3" cy="222.7" r="2.2" fill="#0000FF"/>
<circle cx="152.9" cy="223.7" r="2.2" fill="#0000FF"/>
<circle cx="152.6" cy="224.7" r="2.2" fill="#0000FF"/>
<circle cx="152.5" cy="225.8" r="2.2" fill="#0000FF"/>
<circle cx="152.5" cy="227.0" r="2.2" fill="#0000FF"/>
<circle cx="152.4" cy="228.1" r="2.2" fill="#0000FF"/>
<circle cx="152.3" cy="229.2" r="2.2" fill="#0000FF"/>
<circle cx="152.2" cy="230.3" r="2.2" fill="#0000FF"/>
<circle cx="152.2" cy="231.5" r="2.2" fill="#0000FF"/>
<circle cx="152.1" cy="232.6" r="2.2" fill="#0000FF"/>
<circle cx="152.6" cy="240.3" r="2.4" fill="#0000FF"/>
<circle cx="152.4" cy="247.6" r="2.4" fill="#0000FF"/>
<circle cx="152.4" cy="255.0" r="2.4" fill="#0000FF"/>
<circle cx="152.8" cy="262.4" r="2.4" fill="#0000FF"/>
<circle cx="153.5" cy="269.7" r="2.4" fill="#0000FF"/>
<circle cx="154.8" cy="277.1" r="2.4" fill="#0000FF"/>
<circle cx="155.8" cy="284.5" r="2.4" fill="#0000FF"/>
<circle cx="158.3" cy="291.8" r="2.4" fill="#0000FF"/>
<circle cx="160.0" cy="299.2" r="2.4" fill="#0000FF"/>
<circle cx="161.7" cy="306.5" r="2.4" fill="#0000FF"/>
<circle cx="163.7" cy="313.9" r="2.4" fill="#0000FF"/>
<circle cx="166.2" cy="321.3" r="2.4" fill="#0000FF"/>
<circle cx="169.8" cy="336.0" r="2.4" fill="#0000FF"/>
<circle cx="173.4" cy="350.7" r="2.4" fill="#0000FF"/>
<circle cx="177.0" cy="365.5" r="2.4" fill="#0000FF"/>
<circle cx="180.7" cy="380.2" r="2.4" fill="#0000FF"/>
<circle cx="183.4" cy="394.9" r="2.4" fill="#0000FF"/>
<circle cx="186.0" cy="409.6" r="2.4" fill="#0000FF"/>
<circle cx="188.3" cy="424.4" r="2.4" fill="#0000FF"/>
<circle cx="190.6" cy="439.1" r="2.4" fill="#0000FF"/>
<circle cx="191.6" cy="453.8" r="2.4" fill="#0000FF"/>
<path d="M125.8,175.6 L129.6,178.6 L134.2,178.8 L138.8,184.2 L143.7,184.8 L155.0,185.2 L159.8,186.3 L163.2,187.3 L167.7,188.7 L171.6,190.7 L176.5,194.2 L179.5,196.6 L184.4,199.1 L188.3,201.6 L193.3,203.5 L198.2,206.0 L202.7,208.4 L206.9,210.5 L212.2,212.6 L216.4,214.7 L219.6,218.4 L221.1,223.7 L221.7,229.0 L222.2,233.2 L223.1,240.3 L225.3,247.6 L227.1,255.0 L229.6,262.4 L233.3,269.7 L236.4,277.1 L238.9,284.5 L241.4,291.8 L243.3,299.2 L244.4,306.5 L245.2,313.9 L246.3,321.3 L247.3,336.0 L247.8,350.7 L244.6,365.5 L240.8,380.2 L238.5,394.9 L233.6,409.6 L228.7,424.4 L223.8,439.1 L220.2,453.8" fill="none" stroke="#A050B0" stroke-width="1" />
<rect x="124.0" y="173.8" width="3.6" height="3.6" fill="#901CA0"/>
<rect x="125.0" y="174.5" width="3.6" height="3.6" fill="#901CA0"/>
<rect x="125.9" y="175.3" width="3.6" height="3.6" fill="#901CA0"/>
<rect x="126.9" y="176.0" width="3.6" height="3.6" fill="#901CA0"/>
<rect x="127.8" y="176.8" width="3.6" height="3.6" fill="#901CA0"/>
<rect x="132.4" y="177.0" width="3.6" height="3.6" fill="#901CA0"/>
<rect x="133.3" y="178.1" width="3.6" height="3.6" fill="#901CA0"/>
<rect x="134.2" y="179.2" width="3.6" height="3.6" fill="#901CA0"/>
<rect x="135.2" y="180.2" width="3.6" height="3.6" fill="#901CA0"/>
<rect x="136.1" y="181.3" width="3.6" height="3.6" fill="#901CA0"/>
<rect x="137.0" y="182.4" width="3.6" height="3.6" fill="#901CA0"/>
<rect x="141.8" y="182.9" width="3.8" height="3.8" fill="#901CA0"/>
<rect x="153.1" y="183.3" width="3.8" height="3.8" fill="#901CA0"/>
<rect x="157.9" y="184.4" width="3.8" height="3.8" fill="#901CA0"/>
<rect x="161.3" y="185.4" width="3.8" height="3.8" fill="#901CA0"/>
<rect x="165.8" y="186.8" width="3.8" height="3.8" fill="#901CA0"/>
<rect x="169.7" y="188.8" width="3.8" height="3.8" fill="#901CA0"/>
<rect x="174.6" y="192.3" width="3.8" height="3.8" fill="#901CA0"/>
<rect x="177.6" y="194.7" width="3.8" height="3.8" fill="#901CA0"/>
<rect x="182.5" y="197.2" width="3.8" height="3.8" fill="#901CA0"/>
<rect x="186.4" y="199.7" width="3.8" height="3.8" fill="#901CA0"/>
<rect x="191.4" y="201.6" width="3.8" height="3.8" fill="#901CA0"/>
<rect x="196.3" y="204.1" width="3.8" height="3.8" fill="#901CA0"/>
<rect x="200.8" y="206.5" width="3.8" height="3.8" fill="#901CA0"/>
<rect x="205.0" y="208.6" width="3.8" height="3.8" fill="#901CA0"/>
<rect x="210.3" y="210.7" width="3.8" height="3.8" fill="#901CA0"/>
<rect x="210.3" y="210.7" width="3.8" height="3.8" fill="#901CA0"/>
<rect x="211.7" y="211.4" width="3.8" height="3.8" fill="#901CA0"/>
<rect x="213.1" y="212.1" width="3.8" height="3.8" fill="#901CA0"/>
<rect x="214.5" y="212.8" width="3.8" height="3.8" fill="#901CA0"/>
<rect x="215.3" y="213.7" width="3.8" height="3.8" fill="#901CA0"/>
<rect x="216.1" y="214.7" width="3.8" height="3.8" fill="#901CA0"/>
<rect x="216.9" y="215.6" width="3.8" height="3.8" fill="#901CA0"/>
<rect x="217.7" y="216.5" width="3.8" height="3.8" fill="#901CA0"/>
<rect x="218.1" y="217.8" width="3.8" height="3.8" fill="#901CA0"/>
<rect x="218.4" y="219.2" width="3.8" height="3.8" fill="#901CA0"/>
<rect x="218.8" y="220.5" width="3.8" height="3.8" fill="#901CA0"/>
<rect x="219.2" y="221.8" width="3.8" height="3.8" fill="#901CA0"/>
<rect x="219.3" y="223.1" width="3.8" height="3.8" fill="#901CA0"/>
<rect x="219.5" y="224.4" width="3.8" height="3.8" fill="#901CA0"/>
<rect x="219.6" y="225.8" width="3.8" height="3.8" fill="#901CA0"/>
<rect x="219.8" y="227.1" width="3.8" height="3.8" fill="#901CA0"/>
<rect x="220.0" y="228.5" width="3.8" height="3.8" fill="#901CA0"/>
<rect x="220.1" y="229.9" width="3.8" height="3.8" fill="#901CA0"/>
<rect x="220.3" y="231.3" width="3.8" height="3.8" fill="#901CA0"/>
<rect x="221.2" y="238.4" width="3.8" height="3.8" fill="#901CA0"/>
<rect x="223.4" y="245.7" width="3.8" height="3.8" fill="#901CA0"/>
<rect x="225.2" y="253.1" width="3.8" height="3.8" fill="#901CA0"/>
<rect x="227.7" y="260.5" width="3.8" height="3.8" fill="#901CA0"/>
<rect x="231.4" y="267.8" width="3.8" height="3.8" fill="#901CA0"/>
<rect x="234.5" y="275.2" width="3.8" height="3.8" fill="#901CA0"/>
<rect x="237.0" y="282.6" width="3.8" height="3.8" fill="#901CA0"/>
<rect x="239.5" y="289.9" width="3.8" height="3.8" fill="#901CA0"/>
<rect x="241.4" y="297.3" width="3.8" height="3.8" fill="#901CA0"/>
<rect x="242.5" y="304.6" width="3.8" height="3.8" fill="#901CA0"/>
<rect x="243.3" y="312.0" width="3.8" height="3.8" fill="#901CA0"/>
<rect x="244.4" y="319.4" width="3.8" height="3.8" fill="#901CA0"/>
<rect x="245.4" y="334.1" width="3.8" height="3.8" fill="#901CA0"/>
<rect x="245.9" y="348.8" width="3.8" height="3.8" fill="#901CA0"/>
<rect x="242.7" y="363.6" width="3.8" height="3.8" fill="#901CA0"/>
<rect x="238.9" y="378.3" width="3.8" height="3.8" fill="#901CA0"/>
<rect x="236.6" y="393.0" width="3.8" height="3.8" fill="#901CA0"/>
<rect x="231.7" y="407.7" width="3.8" height="3.8" fill="#901CA0"/>
<rect x="226.8" y="422.5" width="3.8" height="3.8" fill="#901CA0"/>
<rect x="221.9" y="437.2" width="3.8" height="3.8" fill="#901CA0"/>
<rect x="218.3" y="451.9" width="3.8" height="3.8" fill="#901CA0"/>
<path d="M200.8,176.4 L196.3,178.1 L193.2,179.2 L191.2,182.0 L193.5,184.3 L187.4,184.6 L184.4,185.0 L179.5,185.9 L174.6,186.9 L169.6,188.3 L164.7,191.7 L159.8,195.2 L154.9,198.6 L149.9,201.6 L145.0,204.3 L142.8,206.2 L137.6,209.2 L133.0,212.2 L129.0,215.8 L125.1,220.4 L122.2,225.0 L120.5,229.6 L119.2,233.5 L117.5,240.3 L115.4,247.6 L113.4,255.0 L110.8,262.4 L108.8,269.7 L107.5,277.1 L106.2,284.5 L105.2,291.8 L104.9,299.2 L104.5,306.5 L104.2,313.9 L103.9,321.3 L103.5,336.0 L103.3,350.7 L103.3,365.5 L103.9,380.2 L103.2,394.9 L103.2,409.6 L103.2,424.4 L103.2,439.1 L103.2,453.8" fill="none" stroke="#FF0000" stroke-width="1.2" />
<path d="M198.5,174.4 L200.9,178.7 L196.1,178.7Z" fill="#FF0000"/>
<path d="M199.7,174.4 L202.1,178.7 L197.3,178.7Z" fill="#FF0000"/>
<path d="M200.8,174.4 L203.2,178.7 L198.4,178.7Z" fill="#FF0000"/>
<path d="M202.0,174.4 L204.4,178.7 L199.6,178.7Z" fill="#FF0000"/>
<path d="M196.5,176.9 L198.6,180.7 L194.4,180.7Z" fill="#FF0000"/>
<path d="M193.0,175.4 L195.4,179.7 L190.6,179.7Z" fill="#FF0000"/>
<path d="M192.5,176.2 L194.9,180.5 L190.1,180.5Z" fill="#FF0000"/>
<path d="M192.0,177.0 L194.4,181.3 L189.6,181.3Z" fill="#FF0000"/>
<path d="M191.5,177.8 L193.9,182.1 L189.1,182.1Z" fill="#FF0000"/>
<path d="M191.0,178.6 L193.4,182.9 L188.6,182.9Z" fill="#FF0000"/>
<path d="M190.5,179.4 L192.9,183.7 L188.1,183.7Z" fill="#FF0000"/>
<path d="M189.9,180.0 L192.3,184.4 L187.5,184.4Z" fill="#FF0000"/>
<path d="M189.2,180.6 L191.6,185.0 L186.9,185.0Z" fill="#FF0000"/>
<path d="M188.6,181.2 L191.0,185.6 L186.2,185.6Z" fill="#FF0000"/>
<path d="M188.0,181.9 L190.4,186.2 L185.6,186.2Z" fill="#FF0000"/>
<path d="M193.5,182.6 L195.5,186.2 L191.5,186.2Z" fill="#FF0000"/>
<path d="M184.4,182.1 L186.6,186.2 L182.2,186.2Z" fill="#FF0000"/>
<path d="M183.2,182.3 L185.4,186.4 L180.9,186.4Z" fill="#FF0000"/>
<path d="M181.9,182.5 L184.2,186.6 L179.7,186.6Z" fill="#FF0000"/>
<path d="M180.7,182.8 L183.0,186.8 L178.5,186.8Z" fill="#FF0000"/>
<path d="M179.5,183.0 L181.7,187.1 L177.3,187.1Z" fill="#FF0000"/>
<path d="M178.5,183.2 L180.8,187.3 L176.3,187.3Z" fill="#FF0000"/>
<path d="M177.5,183.4 L179.8,187.5 L175.3,187.5Z" fill="#FF0000"/>
<path d="M176.6,183.6 L178.8,187.7 L174.3,187.7Z" fill="#FF0000"/>
<path d="M175.6,183.8 L177.8,187.9 L173.3,187.9Z" fill="#FF0000"/>
<path d="M174.6,184.0 L176.8,188.1 L172.4,188.1Z" fill="#FF0000"/>
<path d="M173.6,184.3 L175.8,188.3 L171.4,188.3Z" fill="#FF0000"/>
<path d="M172.6,184.5 L174.8,188.6 L170.4,188.6Z" fill="#FF0000"/>
<path d="M171.6,184.8 L173.8,188.9 L169.4,188.9Z" fill="#FF0000"/>
<path d="M170.6,185.1 L172.8,189.2 L168.4,189.2Z" fill="#FF0000"/>
<path d="M169.6,185.4 L171.8,189.5 L167.4,189.5Z" fill="#FF0000"/>
<path d="M168.6,186.1 L170.9,190.1 L166.4,190.1Z" fill="#FF0000"/>
<path d="M167.6,186.7 L169.9,190.8 L165.4,190.8Z" fill="#FF0000"/>
<path d="M166.7,187.4 L168.9,191.5 L164.4,191.5Z" fill="#FF0000"/>
<path d="M165.7,188.1 L167.9,192.2 L163.4,192.2Z" fill="#FF0000"/>
<path d="M164.7,188.8 L166.9,192.9 L162.5,192.9Z" fill="#FF0000"/>
<path d="M163.9,189.4 L166.1,193.4 L161.6,193.4Z" fill="#FF0000"/>
<path d="M163.1,189.9 L165.3,194.0 L160.8,194.0Z" fill="#FF0000"/>
<path d="M162.2,190.5 L164.5,194.6 L160.0,194.6Z" fill="#FF0000"/>
<path d="M161.4,191.1 L163.7,195.2 L159.2,195.2Z" fill="#FF0000"/>
<path d="M160.6,191.7 L162.9,195.8 L158.4,195.8Z" fill="#FF0000"/>
<path d="M159.8,192.3 L162.0,196.4 L157.6,196.4Z" fill="#FF0000"/>
<path d="M158.8,193.0 L161.1,197.0 L156.6,197.0Z" fill="#FF0000"/>
<path d="M157.8,193.6 L160.1,197.7 L155.6,197.7Z" fill="#FF0000"/>
<path d="M156.9,194.3 L159.1,198.4 L154.6,198.4Z" fill="#FF0000"/>
<path d="M155.9,195.0 L158.1,199.1 L153.6,199.1Z" fill="#FF0000"/>
<path d="M154.9,195.7 L157.1,199.8 L152.7,199.8Z" fill="#FF0000"/>
<path d="M153.9,196.3 L156.1,200.4 L151.7,200.4Z" fill="#FF0000"/>
<path d="M152.9,196.9 L155.1,201.0 L150.7,201.0Z" fill="#FF0000"/>
<path d="M151.9,197.5 L154.1,201.6 L149.7,201.6Z" fill="#FF0000"/>
<path d="M150.9,198.1 L153.1,202.2 L148.7,202.2Z" fill="#FF0000"/>
<path d="M149.9,198.7 L152.1,202.8 L147.7,202.8Z" fill="#FF0000"/>
<path d="M148.9,199.2 L151.2,203.3 L146.7,203.3Z" fill="#FF0000"/>
<path d="M147.9,199.8 L150.2,203.8 L145.7,203.8Z" fill="#FF0000"/>
<path d="M147.0,200.3 L149.2,204.4 L144.7,204.4Z" fill="#FF0000"/>
<path d="M146.0,200.8 L148.2,204.9 L143.7,204.9Z" fill="#FF0000"/>
<path d="M145.0,201.4 L147.2,205.5 L142.8,205.5Z" fill="#FF0000"/>
<path d="M143.9,202.3 L146.1,206.4 L141.7,206.4Z" fill="#FF0000"/>
<path d="M142.8,203.3 L145.0,207.4 L140.6,207.4Z" fill="#FF0000"/>
<path d="M141.9,203.8 L144.2,207.9 L139.7,207.9Z" fill="#FF0000"/>
<path d="M141.1,204.3 L143.3,208.4 L138.8,208.4Z" fill="#FF0000"/>
<path d="M140.2,204.8 L142.4,208.9 L138.0,208.9Z" fill="#FF0000"/>
<path d="M139.3,205.3 L141.6,209.4 L137.1,209.4Z" fill="#FF0000"/>
<path d="M138.5,205.8 L140.7,209.9 L136.2,209.9Z" fill="#FF0000"/>
<path d="M137.6,206.3 L139.8,210.4 L135.4,210.4Z" fill="#FF0000"/>
<path d="M136.7,206.9 L138.9,211.0 L134.4,211.0Z" fill="#FF0000"/>
<path d="M135.8,207.5 L138.0,211.6 L133.5,211.6Z" fill="#FF0000"/>
<path d="M134.8,208.1 L137.1,212.2 L132.6,212.2Z" fill="#FF0000"/>
<path d="M133.9,208.7 L136.2,212.8 L131.7,212.8Z" fill="#FF0000"/>
<path d="M133.0,209.3 L135.2,213.4 L130.8,213.4Z" fill="#FF0000"/>
<path d="M132.2,210.0 L134.4,214.1 L130.0,214.1Z" fill="#FF0000"/>
<path d="M131.4,210.7 L133.6,214.8 L129.2,214.8Z" fill="#FF0000"/>
<path d="M130.6,211.4 L132.8,215.5 L128.4,215.5Z" fill="#FF0000"/>
<path d="M129.8,212.2 L132.0,216.2 L127.6,216.2Z" fill="#FF0000"/>
<path d="M129.0,212.9 L131.2,217.0 L126.8,217.0Z" fill="#FF0000"/>
<path d="M128.3,213.6 L130.6,217.7 L126.1,217.7Z" fill="#FF0000"/>
<path d="M127.7,214.4 L129.9,218.5 L125.5,218.5Z" fill="#FF0000"/>
<path d="M127.0,215.2 L129.3,219.3 L124.8,219.3Z" fill="#FF0000"/>
<path d="M126.4,215.9 L128.6,220.0 L124.2,220.0Z" fill="#FF0000"/>
<path d="M125.8,216.7 L128.0,220.8 L123.5,220.8Z" fill="#FF0000"/>
<path d="M125.1,217.5 L127.3,221.6 L122.9,221.6Z" fill="#FF0000"/>
<path d="M124.5,218.4 L126.8,222.5 L122.3,222.5Z" fill="#FF0000"/>
<path d="M123.9,219.3 L126.2,223.4 L121.7,223.4Z" fill="#FF0000"/>
<path d="M123.4,220.2 L125.6,224.3 L121.1,224.3Z" fill="#FF0000"/>
<path d="M122.8,221.2 L125.0,225.2 L120.5,225.2Z" fill="#FF0000"/>
<path d="M122.2,222.1 L124.4,226.2 L120.0,226.2Z" fill="#FF0000"/>
<path d="M121.8,223.2 L124.0,227.3 L119.5,227.3Z" fill="#FF0000"/>
<path d="M121.3,224.4 L123.6,228.5 L119.1,228.5Z" fill="#FF0000"/>
<path d="M120.9,225.5 L123.2,229.6 L118.7,229.6Z" fill="#FF0000"/>
<path d="M120.5,226.7 L122.7,230.8 L118.3,230.8Z" fill="#FF0000"/>
<path d="M120.2,227.7 L122.4,231.7 L117.9,231.7Z" fill="#FF0000"/>
<path d="M119.8,228.6 L122.1,232.7 L117.6,232.7Z" fill="#FF0000"/>
<path d="M119.5,229.6 L121.8,233.7 L117.3,233.7Z" fill="#FF0000"/>
<path d="M119.2,230.6 L121.4,234.7 L117.0,234.7Z" fill="#FF0000"/>
<path d="M117.5,237.0 L120.0,241.6 L115.0,241.6Z" fill="#FF0000"/>
<path d="M115.4,244.4 L117.9,248.9 L112.9,248.9Z" fill="#FF0000"/>
<path d="M113.4,251.7 L115.9,256.3 L110.9,256.3Z" fill="#FF0000"/>
<path d="M110.8,259.1 L113.3,263.7 L108.3,263.7Z" fill="#FF0000"/>
<path d="M108.8,266.5 L111.3,271.0 L106.3,271.0Z" fill="#FF0000"/>
<path d="M107.5,273.8 L110.0,278.4 L105.0,278.4Z" fill="#FF0000"/>
<path d="M106.2,281.2 L108.7,285.8 L103.7,285.8Z" fill="#FF0000"/>
<path d="M105.2,288.6 L107.7,293.1 L102.7,293.1Z" fill="#FF0000"/>
<path d="M104.9,295.9 L107.4,300.5 L102.4,300.5Z" fill="#FF0000"/>
<path d="M104.5,303.3 L107.0,307.8 L102.0,307.8Z" fill="#FF0000"/>
<path d="M104.2,310.6 L106.7,315.2 L101.7,315.2Z" fill="#FF0000"/>
<path d="M103.9,318.0 L106.4,322.6 L101.4,322.6Z" fill="#FF0000"/>
<path d="M103.5,332.7 L106.0,337.3 L101.0,337.3Z" fill="#FF0000"/>
<path d="M103.3,347.5 L105.8,352.0 L100.8,352.0Z" fill="#FF0000"/>
<path d="M103.3,362.2 L105.8,366.8 L100.8,366.8Z" fill="#FF0000"/>
<path d="M103.9,376.9 L106.4,381.5 L101.4,381.5Z" fill="#FF0000"/>
<path d="M103.2,391.6 L105.7,396.2 L100.7,396.2Z" fill="#FF0000"/>
<path d="M103.2,406.4 L105.7,410.9 L100.7,410.9Z" fill="#FF0000"/>
<path d="M103.2,421.1 L105.7,425.7 L100.7,425.7Z" fill="#FF0000"/>
<path d="M103.2,435.8 L105.7,440.4 L100.7,440.4Z" fill="#FF0000"/>
<path d="M103.2,450.6 L105.7,455.1 L100.7,455.1Z" fill="#FF0000"/>
<rect x="307.00" y="175.00" width="85.00" height="322.00" fill="#CDEEF8"/>
<rect x="363.7" y="175" width="0.6" height="322" fill="#EAE4EC"/>
<g shape-rendering="crispEdges">
<rect x="305.00" y="173.00" width="89.00" height="2.00" fill="#FF5E5E"/>
<rect x="305.00" y="168.00" width="2.00" height="5.00" fill="#FF5E5E"/>
<rect x="311.05" y="171.00" width="1.50" height="2.00" fill="#FF5E5E"/>
<rect x="316.85" y="171.00" width="1.50" height="2.00" fill="#FF5E5E"/>
<rect x="322.65" y="171.00" width="1.50" height="2.00" fill="#FF5E5E"/>
<rect x="328.45" y="171.00" width="1.50" height="2.00" fill="#FF5E5E"/>
<rect x="334.50" y="168.00" width="1.00" height="5.00" fill="#FF5E5E"/>
<rect x="340.05" y="171.00" width="1.50" height="2.00" fill="#FF5E5E"/>
<rect x="345.85" y="171.00" width="1.50" height="2.00" fill="#FF5E5E"/>
<rect x="351.65" y="171.00" width="1.50" height="2.00" fill="#FF5E5E"/>
<rect x="357.45" y="171.00" width="1.50" height="2.00" fill="#FF5E5E"/>
<rect x="363.50" y="168.00" width="1.00" height="5.00" fill="#FF5E5E"/>
<rect x="369.05" y="171.00" width="1.50" height="2.00" fill="#FF5E5E"/>
<rect x="374.85" y="171.00" width="1.50" height="2.00" fill="#FF5E5E"/>
<rect x="380.65" y="171.00" width="1.50" height="2.00" fill="#FF5E5E"/>
<rect x="386.45" y="171.00" width="1.50" height="2.00" fill="#FF5E5E"/>
<rect x="392.00" y="168.00" width="2.00" height="5.00" fill="#FF5E5E"/>
<rect x="305.00" y="497.00" width="89.00" height="2.00" fill="#FF5E5E"/>
<rect x="305.00" y="499.00" width="2.00" height="5.00" fill="#FF5E5E"/>
<rect x="311.05" y="499.00" width="1.50" height="2.00" fill="#FF5E5E"/>
<rect x="316.85" y="499.00" width="1.50" height="2.00" fill="#FF5E5E"/>
<rect x="322.65" y="499.00" width="1.50" height="2.00" fill="#FF5E5E"/>
<rect x="328.45" y="499.00" width="1.50" height="2.00" fill="#FF5E5E"/>
<rect x="334.50" y="499.00" width="1.00" height="5.00" fill="#FF5E5E"/>
<rect x="340.05" y="499.00" width="1.50" height="2.00" fill="#FF5E5E"/>
<rect x="345.85" y="499.00" width="1.50" height="2.00" fill="#FF5E5E"/>
<rect x="351.65" y="499.00" width="1.50" height="2.00" fill="#FF5E5E"/>
<rect x="357.45" y="499.00" width="1.50" height="2.00" fill="#FF5E5E"/>
<rect x="363.50" y="499.00" width="1.00" height="5.00" fill="#FF5E5E"/>
<rect x="369.05" y="499.00" width="1.50" height="2.00" fill="#FF5E5E"/>
<rect x="374.85" y="499.00" width="1.50" height="2.00" fill="#FF5E5E"/>
<rect x="380.65" y="499.00" width="1.50" height="2.00" fill="#FF5E5E"/>
<rect x="386.45" y="499.00" width="1.50" height="2.00" fill="#FF5E5E"/>
<rect x="392.00" y="499.00" width="2.00" height="5.00" fill="#FF5E5E"/>
<rect x="305.00" y="173.00" width="2.00" height="326.00" fill="#5A5A00"/>
<rect x="392.00" y="173.00" width="2.00" height="326.00" fill="#5A5A00"/>
<rect x="300.00" y="173.00" width="5.00" height="2.00" fill="#5A5A00"/>
<rect x="394.00" y="173.00" width="5.00" height="2.00" fill="#5A5A00"/>
<rect x="303.00" y="180.61" width="2.00" height="1.50" fill="#5A5A00"/>
<rect x="394.00" y="180.61" width="2.00" height="1.50" fill="#5A5A00"/>
<rect x="303.00" y="187.98" width="2.00" height="1.50" fill="#5A5A00"/>
<rect x="394.00" y="187.98" width="2.00" height="1.50" fill="#5A5A00"/>
<rect x="303.00" y="195.34" width="2.00" height="1.50" fill="#5A5A00"/>
<rect x="394.00" y="195.34" width="2.00" height="1.50" fill="#5A5A00"/>
<rect x="300.00" y="202.95" width="5.00" height="1.00" fill="#5A5A00"/>
<rect x="394.00" y="202.95" width="5.00" height="1.00" fill="#5A5A00"/>
<rect x="303.00" y="210.07" width="2.00" height="1.50" fill="#5A5A00"/>
<rect x="394.00" y="210.07" width="2.00" height="1.50" fill="#5A5A00"/>
<rect x="303.00" y="217.43" width="2.00" height="1.50" fill="#5A5A00"/>
<rect x="394.00" y="217.43" width="2.00" height="1.50" fill="#5A5A00"/>
<rect x="303.00" y="224.80" width="2.00" height="1.50" fill="#5A5A00"/>
<rect x="394.00" y="224.80" width="2.00" height="1.50" fill="#5A5A00"/>
<rect x="300.00" y="232.41" width="5.00" height="1.00" fill="#5A5A00"/>
<rect x="394.00" y="232.41" width="5.00" height="1.00" fill="#5A5A00"/>
<rect x="303.00" y="239.52" width="2.00" height="1.50" fill="#5A5A00"/>
<rect x="394.00" y="239.52" width="2.00" height="1.50" fill="#5A5A00"/>
<rect x="303.00" y="246.89" width="2.00" height="1.50" fill="#5A5A00"/>
<rect x="394.00" y="246.89" width="2.00" height="1.50" fill="#5A5A00"/>
<rect x="303.00" y="254.25" width="2.00" height="1.50" fill="#5A5A00"/>
<rect x="394.00" y="254.25" width="2.00" height="1.50" fill="#5A5A00"/>
<rect x="300.00" y="261.86" width="5.00" height="1.00" fill="#5A5A00"/>
<rect x="394.00" y="261.86" width="5.00" height="1.00" fill="#5A5A00"/>
<rect x="303.00" y="268.98" width="2.00" height="1.50" fill="#5A5A00"/>
<rect x="394.00" y="268.98" width="2.00" height="1.50" fill="#5A5A00"/>
<rect x="303.00" y="276.34" width="2.00" height="1.50" fill="#5A5A00"/>
<rect x="394.00" y="276.34" width="2.00" height="1.50" fill="#5A5A00"/>
<rect x="303.00" y="283.70" width="2.00" height="1.50" fill="#5A5A00"/>
<rect x="394.00" y="283.70" width="2.00" height="1.50" fill="#5A5A00"/>
<rect x="300.00" y="291.32" width="5.00" height="1.00" fill="#5A5A00"/>
<rect x="394.00" y="291.32" width="5.00" height="1.00" fill="#5A5A00"/>
<rect x="303.00" y="298.43" width="2.00" height="1.50" fill="#5A5A00"/>
<rect x="394.00" y="298.43" width="2.00" height="1.50" fill="#5A5A00"/>
<rect x="303.00" y="305.80" width="2.00" height="1.50" fill="#5A5A00"/>
<rect x="394.00" y="305.80" width="2.00" height="1.50" fill="#5A5A00"/>
<rect x="303.00" y="313.16" width="2.00" height="1.50" fill="#5A5A00"/>
<rect x="394.00" y="313.16" width="2.00" height="1.50" fill="#5A5A00"/>
<rect x="300.00" y="320.77" width="5.00" height="1.00" fill="#5A5A00"/>
<rect x="394.00" y="320.77" width="5.00" height="1.00" fill="#5A5A00"/>
<rect x="303.00" y="327.89" width="2.00" height="1.50" fill="#5A5A00"/>
<rect x="394.00" y="327.89" width="2.00" height="1.50" fill="#5A5A00"/>
<rect x="303.00" y="335.25" width="2.00" height="1.50" fill="#5A5A00"/>
<rect x="394.00" y="335.25" width="2.00" height="1.50" fill="#5A5A00"/>
<rect x="303.00" y="342.61" width="2.00" height="1.50" fill="#5A5A00"/>
<rect x="394.00" y="342.61" width="2.00" height="1.50" fill="#5A5A00"/>
<rect x="300.00" y="350.23" width="5.00" height="1.00" fill="#5A5A00"/>
<rect x="394.00" y="350.23" width="5.00" height="1.00" fill="#5A5A00"/>
<rect x="303.00" y="357.34" width="2.00" height="1.50" fill="#5A5A00"/>
<rect x="394.00" y="357.34" width="2.00" height="1.50" fill="#5A5A00"/>
<rect x="303.00" y="364.70" width="2.00" height="1.50" fill="#5A5A00"/>
<rect x="394.00" y="364.70" width="2.00" height="1.50" fill="#5A5A00"/>
<rect x="303.00" y="372.07" width="2.00" height="1.50" fill="#5A5A00"/>
<rect x="394.00" y="372.07" width="2.00" height="1.50" fill="#5A5A00"/>
<rect x="300.00" y="379.68" width="5.00" height="1.00" fill="#5A5A00"/>
<rect x="394.00" y="379.68" width="5.00" height="1.00" fill="#5A5A00"/>
<rect x="303.00" y="386.80" width="2.00" height="1.50" fill="#5A5A00"/>
<rect x="394.00" y="386.80" width="2.00" height="1.50" fill="#5A5A00"/>
<rect x="303.00" y="394.16" width="2.00" height="1.50" fill="#5A5A00"/>
<rect x="394.00" y="394.16" width="2.00" height="1.50" fill="#5A5A00"/>
<rect x="303.00" y="401.52" width="2.00" height="1.50" fill="#5A5A00"/>
<rect x="394.00" y="401.52" width="2.00" height="1.50" fill="#5A5A00"/>
<rect x="300.00" y="409.14" width="5.00" height="1.00" fill="#5A5A00"/>
<rect x="394.00" y="409.14" width="5.00" height="1.00" fill="#5A5A00"/>
<rect x="303.00" y="416.25" width="2.00" height="1.50" fill="#5A5A00"/>
<rect x="394.00" y="416.25" width="2.00" height="1.50" fill="#5A5A00"/>
<rect x="303.00" y="423.61" width="2.00" height="1.50" fill="#5A5A00"/>
<rect x="394.00" y="423.61" width="2.00" height="1.50" fill="#5A5A00"/>
<rect x="303.00" y="430.98" width="2.00" height="1.50" fill="#5A5A00"/>
<rect x="394.00" y="430.98" width="2.00" height="1.50" fill="#5A5A00"/>
<rect x="300.00" y="438.59" width="5.00" height="1.00" fill="#5A5A00"/>
<rect x="394.00" y="438.59" width="5.00" height="1.00" fill="#5A5A00"/>
<rect x="303.00" y="445.70" width="2.00" height="1.50" fill="#5A5A00"/>
<rect x="394.00" y="445.70" width="2.00" height="1.50" fill="#5A5A00"/>
<rect x="303.00" y="453.07" width="2.00" height="1.50" fill="#5A5A00"/>
<rect x="394.00" y="453.07" width="2.00" height="1.50" fill="#5A5A00"/>
<rect x="303.00" y="460.43" width="2.00" height="1.50" fill="#5A5A00"/>
<rect x="394.00" y="460.43" width="2.00" height="1.50" fill="#5A5A00"/>
<rect x="300.00" y="468.05" width="5.00" height="1.00" fill="#5A5A00"/>
<rect x="394.00" y="468.05" width="5.00" height="1.00" fill="#5A5A00"/>
<rect x="303.00" y="475.16" width="2.00" height="1.50" fill="#5A5A00"/>
<rect x="394.00" y="475.16" width="2.00" height="1.50" fill="#5A5A00"/>
<rect x="303.00" y="482.52" width="2.00" height="1.50" fill="#5A5A00"/>
<rect x="394.00" y="482.52" width="2.00" height="1.50" fill="#5A5A00"/>
<rect x="303.00" y="489.89" width="2.00" height="1.50" fill="#5A5A00"/>
<rect x="394.00" y="489.89" width="2.00" height="1.50" fill="#5A5A00"/>
<rect x="300.00" y="497.00" width="5.00" height="2.00" fill="#5A5A00"/>
<rect x="394.00" y="497.00" width="5.00" height="2.00" fill="#5A5A00"/>
</g>
<text transform="translate(306.00,518.00) scale(0.935,1)" fill="#FF5E5E" stroke="#FF5E5E" text-anchor="middle" >-1.0</text>
<text transform="translate(335.00,518.00) scale(0.935,1)" fill="#FF5E5E" stroke="#FF5E5E" text-anchor="middle" >-0.5</text>
<text transform="translate(364.00,518.00) scale(0.935,1)" fill="#FF5E5E" stroke="#FF5E5E" text-anchor="middle" >0.0</text>
<text transform="translate(393.00,518.00) scale(0.935,1)" fill="#FF5E5E" stroke="#FF5E5E" text-anchor="middle" >0.5</text>
<text transform="translate(291.4,535) scale(0.935,1)" fill="#FF5E5E" stroke="#FF5E5E">&#916;T= T<tspan font-size="10" dy="-5">Opt</tspan><tspan dy="5"> - T</tspan><tspan font-size="10" dy="-5">SBE</tspan><tspan dy="5"> (&#176;C)</tspan></text>
<path d="M364.9,176.0 L360.5,178.0 L363.0,180.0 L362.5,190.0 L363.0,200.0 L361.8,202.0 L363.0,210.0 L362.7,220.0 L363.0,234.0 L363.0,240.3 L363.0,247.6 L363.0,255.0 L363.0,262.4 L363.0,269.7 L363.0,277.1 L363.0,284.5 L363.0,291.8 L363.0,299.2 L363.0,306.5 L363.0,313.9 L363.0,321.3 L363.0,336.0 L363.0,350.7 L363.0,365.5 L363.0,380.2 L363.0,394.9 L363.0,409.6 L363.0,424.4 L363.0,439.1 L363.0,453.8" fill="none" stroke="#FF5E5E" stroke-width="1" />
<rect x="363.9" y="174.4" width="3.2" height="3.2" fill="#FF5E5E"/>
<rect x="361.3" y="175.1" width="3.2" height="3.2" fill="#FF5E5E"/>
<rect x="360.6" y="175.7" width="3.2" height="3.2" fill="#FF5E5E"/>
<rect x="358.2" y="176.4" width="3.2" height="3.2" fill="#FF5E5E"/>
<rect x="360.9" y="177.4" width="3.2" height="3.2" fill="#FF5E5E"/>
<rect x="361.2" y="178.4" width="3.2" height="3.2" fill="#FF5E5E"/>
<rect x="361.9" y="179.8" width="3.2" height="3.2" fill="#FF5E5E"/>
<rect x="360.8" y="181.3" width="3.2" height="3.2" fill="#FF5E5E"/>
<rect x="361.4" y="182.7" width="3.2" height="3.2" fill="#FF5E5E"/>
<rect x="360.4" y="184.1" width="3.2" height="3.2" fill="#FF5E5E"/>
<rect x="361.8" y="185.5" width="3.2" height="3.2" fill="#FF5E5E"/>
<rect x="360.8" y="187.0" width="3.2" height="3.2" fill="#FF5E5E"/>
<rect x="361.5" y="188.4" width="3.2" height="3.2" fill="#FF5E5E"/>
<rect x="360.5" y="189.8" width="3.2" height="3.2" fill="#FF5E5E"/>
<rect x="361.2" y="191.3" width="3.2" height="3.2" fill="#FF5E5E"/>
<rect x="360.4" y="192.7" width="3.2" height="3.2" fill="#FF5E5E"/>
<rect x="362.0" y="194.1" width="3.2" height="3.2" fill="#FF5E5E"/>
<rect x="361.1" y="195.5" width="3.2" height="3.2" fill="#FF5E5E"/>
<rect x="361.9" y="197.0" width="3.2" height="3.2" fill="#FF5E5E"/>
<rect x="360.9" y="198.4" width="3.2" height="3.2" fill="#FF5E5E"/>
<rect x="360.4" y="200.4" width="3.2" height="3.2" fill="#FF5E5E"/>
<rect x="359.7" y="201.7" width="3.2" height="3.2" fill="#FF5E5E"/>
<rect x="361.4" y="203.1" width="3.2" height="3.2" fill="#FF5E5E"/>
<rect x="360.6" y="204.4" width="3.2" height="3.2" fill="#FF5E5E"/>
<rect x="361.6" y="205.7" width="3.2" height="3.2" fill="#FF5E5E"/>
<rect x="360.7" y="207.1" width="3.2" height="3.2" fill="#FF5E5E"/>
<rect x="361.6" y="208.4" width="3.2" height="3.2" fill="#FF5E5E"/>
<rect x="360.7" y="209.8" width="3.2" height="3.2" fill="#FF5E5E"/>
<rect x="362.1" y="211.3" width="3.2" height="3.2" fill="#FF5E5E"/>
<rect x="361.1" y="212.7" width="3.2" height="3.2" fill="#FF5E5E"/>
<rect x="361.8" y="214.1" width="3.2" height="3.2" fill="#FF5E5E"/>
<rect x="360.7" y="215.5" width="3.2" height="3.2" fill="#FF5E5E"/>
<rect x="361.3" y="217.0" width="3.2" height="3.2" fill="#FF5E5E"/>
<rect x="360.4" y="218.4" width="3.2" height="3.2" fill="#FF5E5E"/>
<rect x="361.9" y="219.8" width="3.2" height="3.2" fill="#FF5E5E"/>
<rect x="361.0" y="221.2" width="3.2" height="3.2" fill="#FF5E5E"/>
<rect x="361.8" y="222.6" width="3.2" height="3.2" fill="#FF5E5E"/>
<rect x="360.7" y="224.0" width="3.2" height="3.2" fill="#FF5E5E"/>
<rect x="361.4" y="225.4" width="3.2" height="3.2" fill="#FF5E5E"/>
<rect x="360.6" y="226.8" width="3.2" height="3.2" fill="#FF5E5E"/>
<rect x="362.1" y="228.2" width="3.2" height="3.2" fill="#FF5E5E"/>
<rect x="361.1" y="229.6" width="3.2" height="3.2" fill="#FF5E5E"/>
<rect x="362.0" y="231.0" width="3.2" height="3.2" fill="#FF5E5E"/>
<rect x="360.9" y="232.4" width="3.2" height="3.2" fill="#FF5E5E"/>
<rect x="361.3" y="238.6" width="3.4" height="3.4" fill="#FF5E5E"/>
<rect x="361.3" y="245.9" width="3.4" height="3.4" fill="#FF5E5E"/>
<rect x="361.3" y="253.3" width="3.4" height="3.4" fill="#FF5E5E"/>
<rect x="361.3" y="260.7" width="3.4" height="3.4" fill="#FF5E5E"/>
<rect x="361.3" y="268.0" width="3.4" height="3.4" fill="#FF5E5E"/>
<rect x="361.3" y="275.4" width="3.4" height="3.4" fill="#FF5E5E"/>
<rect x="361.3" y="282.8" width="3.4" height="3.4" fill="#FF5E5E"/>
<rect x="361.3" y="290.1" width="3.4" height="3.4" fill="#FF5E5E"/>
<rect x="361.3" y="297.5" width="3.4" height="3.4" fill="#FF5E5E"/>
<rect x="361.3" y="304.8" width="3.4" height="3.4" fill="#FF5E5E"/>
<rect x="361.3" y="312.2" width="3.4" height="3.4" fill="#FF5E5E"/>
<rect x="361.3" y="319.6" width="3.4" height="3.4" fill="#FF5E5E"/>
<rect x="361.3" y="334.3" width="3.4" height="3.4" fill="#FF5E5E"/>
<rect x="361.3" y="349.0" width="3.4" height="3.4" fill="#FF5E5E"/>
<rect x="361.3" y="363.8" width="3.4" height="3.4" fill="#FF5E5E"/>
<rect x="361.3" y="378.5" width="3.4" height="3.4" fill="#FF5E5E"/>
<rect x="361.3" y="393.2" width="3.4" height="3.4" fill="#FF5E5E"/>
<rect x="361.3" y="407.9" width="3.4" height="3.4" fill="#FF5E5E"/>
<rect x="361.3" y="422.7" width="3.4" height="3.4" fill="#FF5E5E"/>
<rect x="361.3" y="437.4" width="3.4" height="3.4" fill="#FF5E5E"/>
<rect x="361.3" y="452.1" width="3.4" height="3.4" fill="#FF5E5E"/>
<rect x="434.00" y="175.00" width="105.50" height="106.00" fill="#D2F0F8"/>
<clipPath id="stc"><rect x="433" y="175" width="107" height="106"/></clipPath>
<g clip-path="url(#stc)" fill="none" stroke="#7A9292" stroke-width="0.7">
<path d="M249.6,285.1 L249.6,283.5 L249.7,282.0 L249.9,280.5 L250.1,278.9 L250.5,277.4 L250.9,275.8 L251.4,274.3 L252.0,272.7 L252.6,271.2 L253.4,269.7 L254.2,268.1 L255.1,266.6 L256.0,265.0 L257.1,263.5 L258.2,261.9 L259.4,260.4 L260.7,258.9 L262.0,257.3 L263.5,255.8 L265.0,254.2 L266.5,252.7 L268.2,251.1 L269.9,249.6 L271.6,248.1 L273.5,246.5 L275.4,245.0 L277.4,243.4 L279.4,241.9 L281.5,240.3 L283.7,238.8 L285.9,237.3 L288.2,235.7 L290.6,234.2 L293.0,232.6 L295.5,231.1 L298.1,229.5 L300.7,228.0 L303.4,226.5 L306.1,224.9 L308.9,223.4 L311.8,221.8 L314.7,220.3 L317.7,218.7 L320.7,217.2 L323.8,215.7 L327.0,214.1 L330.2,212.6 L333.4,211.0 L336.8,209.5 L340.1,207.9 L343.6,206.4 L347.0,204.9 L350.6,203.3 L354.2,201.8 L357.8,200.2 L361.5,198.7 L365.3,197.1 L369.1,195.6 L372.9,194.1 L376.8,192.5 L380.8,191.0 L384.8,189.4 L388.9,187.9 L393.0,186.3 L397.1,184.8 L401.3,183.3 L405.6,181.7 L409.9,180.2 L414.3,178.6 L418.7,177.1 L423.1,175.5 L427.6,174.0 L432.1,172.5 L436.7,170.9"/>
<path d="M260.8,285.1 L260.8,283.5 L260.9,282.0 L261.1,280.5 L261.4,278.9 L261.7,277.4 L262.1,275.8 L262.7,274.3 L263.3,272.7 L263.9,271.2 L264.7,269.7 L265.5,268.1 L266.5,266.6 L267.5,265.0 L268.5,263.5 L269.7,261.9 L270.9,260.4 L272.2,258.9 L273.5,257.3 L275.0,255.8 L276.5,254.2 L278.1,252.7 L279.7,251.1 L281.4,249.6 L283.2,248.1 L285.1,246.5 L287.0,245.0 L289.0,243.4 L291.1,241.9 L293.2,240.3 L295.4,238.8 L297.6,237.3 L300.0,235.7 L302.3,234.2 L304.8,232.6 L307.3,231.1 L309.9,229.5 L312.5,228.0 L315.2,226.5 L317.9,224.9 L320.8,223.4 L323.6,221.8 L326.6,220.3 L329.5,218.7 L332.6,217.2 L335.7,215.7 L338.9,214.1 L342.1,212.6 L345.3,211.0 L348.7,209.5 L352.1,207.9 L355.5,206.4 L359.0,204.9 L362.5,203.3 L366.1,201.8 L369.8,200.2 L373.5,198.7 L377.3,197.1 L381.1,195.6 L385.0,194.1 L388.9,192.5 L392.8,191.0 L396.9,189.4 L400.9,187.9 L405.0,186.3 L409.2,184.8 L413.4,183.3 L417.7,181.7 L422.0,180.2 L426.4,178.6 L430.8,177.1 L435.2,175.5 L439.7,174.0 L444.3,172.5 L448.8,170.9"/>
<path d="M271.9,285.1 L271.9,283.5 L272.1,282.0 L272.3,280.5 L272.6,278.9 L272.9,277.4 L273.4,275.8 L273.9,274.3 L274.6,272.7 L275.3,271.2 L276.1,269.7 L276.9,268.1 L277.8,266.6 L278.9,265.0 L279.9,263.5 L281.1,261.9 L282.3,260.4 L283.7,258.9 L285.0,257.3 L286.5,255.8 L288.0,254.2 L289.6,252.7 L291.3,251.1 L293.0,249.6 L294.8,248.1 L296.7,246.5 L298.7,245.0 L300.7,243.4 L302.7,241.9 L304.9,240.3 L307.1,238.8 L309.3,237.3 L311.7,235.7 L314.1,234.2 L316.5,232.6 L319.1,231.1 L321.6,229.5 L324.3,228.0 L327.0,226.5 L329.8,224.9 L332.6,223.4 L335.5,221.8 L338.4,220.3 L341.4,218.7 L344.5,217.2 L347.6,215.7 L350.7,214.1 L354.0,212.6 L357.3,211.0 L360.6,209.5 L364.0,207.9 L367.4,206.4 L370.9,204.9 L374.5,203.3 L378.1,201.8 L381.8,200.2 L385.5,198.7 L389.3,197.1 L393.1,195.6 L397.0,194.1 L400.9,192.5 L404.9,191.0 L408.9,189.4 L413.0,187.9 L417.1,186.3 L421.3,184.8 L425.5,183.3 L429.8,181.7 L434.1,180.2 L438.4,178.6 L442.9,177.1 L447.3,175.5 L451.8,174.0 L456.4,172.5 L461.0,170.9"/>
<path d="M283.0,285.1 L283.1,283.5 L283.2,282.0 L283.5,280.5 L283.8,278.9 L284.2,277.4 L284.7,275.8 L285.2,274.3 L285.9,272.7 L286.6,271.2 L287.4,269.7 L288.3,268.1 L289.2,266.6 L290.3,265.0 L291.4,263.5 L292.6,261.9 L293.8,260.4 L295.1,258.9 L296.5,257.3 L298.0,255.8 L299.6,254.2 L301.2,252.7 L302.9,251.1 L304.6,249.6 L306.4,248.1 L308.3,246.5 L310.3,245.0 L312.3,243.4 L314.4,241.9 L316.6,240.3 L318.8,238.8 L321.1,237.3 L323.4,235.7 L325.8,234.2 L328.3,232.6 L330.8,231.1 L333.4,229.5 L336.1,228.0 L338.8,226.5 L341.6,224.9 L344.4,223.4 L347.3,221.8 L350.2,220.3 L353.3,218.7 L356.3,217.2 L359.5,215.7 L362.6,214.1 L365.9,212.6 L369.2,211.0 L372.5,209.5 L375.9,207.9 L379.4,206.4 L382.9,204.9 L386.5,203.3 L390.1,201.8 L393.8,200.2 L397.5,198.7 L401.3,197.1 L405.1,195.6 L409.0,194.1 L412.9,192.5 L416.9,191.0 L420.9,189.4 L425.0,187.9 L429.1,186.3 L433.3,184.8 L437.5,183.3 L441.8,181.7 L446.1,180.2 L450.5,178.6 L454.9,177.1 L459.4,175.5 L463.9,174.0 L468.5,172.5 L473.1,170.9"/>
<path d="M294.1,285.1 L294.2,283.5 L294.4,282.0 L294.7,280.5 L295.0,278.9 L295.4,277.4 L295.9,275.8 L296.5,274.3 L297.2,272.7 L297.9,271.2 L298.7,269.7 L299.6,268.1 L300.6,266.6 L301.7,265.0 L302.8,263.5 L304.0,261.9 L305.3,260.4 L306.6,258.9 L308.0,257.3 L309.5,255.8 L311.1,254.2 L312.7,252.7 L314.4,251.1 L316.2,249.6 L318.0,248.1 L319.9,246.5 L321.9,245.0 L324.0,243.4 L326.1,241.9 L328.2,240.3 L330.5,238.8 L332.8,237.3 L335.1,235.7 L337.5,234.2 L340.0,232.6 L342.6,231.1 L345.2,229.5 L347.9,228.0 L350.6,226.5 L353.4,224.9 L356.2,223.4 L359.1,221.8 L362.1,220.3 L365.1,218.7 L368.2,217.2 L371.3,215.7 L374.5,214.1 L377.8,212.6 L381.1,211.0 L384.4,209.5 L387.8,207.9 L391.3,206.4 L394.8,204.9 L398.4,203.3 L402.0,201.8 L405.7,200.2 L409.5,198.7 L413.2,197.1 L417.1,195.6 L421.0,194.1 L424.9,192.5 L428.9,191.0 L432.9,189.4 L437.0,187.9 L441.2,186.3 L445.4,184.8 L449.6,183.3 L453.9,181.7 L458.2,180.2 L462.6,178.6 L467.0,177.1 L471.5,175.5 L476.0,174.0 L480.6,172.5 L485.2,170.9"/>
<path d="M305.3,285.1 L305.4,283.5 L305.6,282.0 L305.9,280.5 L306.2,278.9 L306.7,277.4 L307.2,275.8 L307.8,274.3 L308.5,272.7 L309.2,271.2 L310.1,269.7 L311.0,268.1 L312.0,266.6 L313.1,265.0 L314.2,263.5 L315.4,261.9 L316.7,260.4 L318.1,258.9 L319.5,257.3 L321.0,255.8 L322.6,254.2 L324.3,252.7 L326.0,251.1 L327.8,249.6 L329.6,248.1 L331.6,246.5 L333.5,245.0 L335.6,243.4 L337.7,241.9 L339.9,240.3 L342.1,238.8 L344.5,237.3 L346.8,235.7 L349.3,234.2 L351.8,232.6 L354.3,231.1 L356.9,229.5 L359.6,228.0 L362.4,226.5 L365.2,224.9 L368.0,223.4 L371.0,221.8 L373.9,220.3 L377.0,218.7 L380.1,217.2 L383.2,215.7 L386.4,214.1 L389.7,212.6 L393.0,211.0 L396.3,209.5 L399.8,207.9 L403.2,206.4 L406.8,204.9 L410.4,203.3 L414.0,201.8 L417.7,200.2 L421.4,198.7 L425.2,197.1 L429.1,195.6 L433.0,194.1 L436.9,192.5 L440.9,191.0 L445.0,189.4 L449.1,187.9 L453.2,186.3 L457.4,184.8 L461.7,183.3 L465.9,181.7 L470.3,180.2 L474.7,178.6 L479.1,177.1 L483.6,175.5 L488.1,174.0 L492.7,172.5 L497.3,170.9"/>
<path d="M316.4,285.1 L316.5,283.5 L316.7,282.0 L317.1,280.5 L317.4,278.9 L317.9,277.4 L318.5,275.8 L319.1,274.3 L319.8,272.7 L320.6,271.2 L321.4,269.7 L322.4,268.1 L323.4,266.6 L324.5,265.0 L325.6,263.5 L326.9,261.9 L328.2,260.4 L329.6,258.9 L331.0,257.3 L332.6,255.8 L334.2,254.2 L335.8,252.7 L337.6,251.1 L339.4,249.6 L341.2,248.1 L343.2,246.5 L345.2,245.0 L347.2,243.4 L349.4,241.9 L351.6,240.3 L353.8,238.8 L356.2,237.3 L358.5,235.7 L361.0,234.2 L363.5,232.6 L366.1,231.1 L368.7,229.5 L371.4,228.0 L374.2,226.5 L377.0,224.9 L379.8,223.4 L382.8,221.8 L385.8,220.3 L388.8,218.7 L391.9,217.2 L395.1,215.7 L398.3,214.1 L401.5,212.6 L404.9,211.0 L408.3,209.5 L411.7,207.9 L415.2,206.4 L418.7,204.9 L422.3,203.3 L426.0,201.8 L429.7,200.2 L433.4,198.7 L437.2,197.1 L441.1,195.6 L445.0,194.1 L448.9,192.5 L452.9,191.0 L457.0,189.4 L461.1,187.9 L465.2,186.3 L469.4,184.8 L473.7,183.3 L478.0,181.7 L482.3,180.2 L486.7,178.6 L491.2,177.1 L495.7,175.5 L500.2,174.0 L504.8,172.5 L509.4,170.9"/>
<path d="M327.5,285.1 L327.7,283.5 L327.9,282.0 L328.2,280.5 L328.6,278.9 L329.1,277.4 L329.7,275.8 L330.4,274.3 L331.1,272.7 L331.9,271.2 L332.8,269.7 L333.7,268.1 L334.8,266.6 L335.9,265.0 L337.1,263.5 L338.3,261.9 L339.6,260.4 L341.0,258.9 L342.5,257.3 L344.1,255.8 L345.7,254.2 L347.4,252.7 L349.1,251.1 L350.9,249.6 L352.8,248.1 L354.8,246.5 L356.8,245.0 L358.9,243.4 L361.0,241.9 L363.2,240.3 L365.5,238.8 L367.8,237.3 L370.2,235.7 L372.7,234.2 L375.2,232.6 L377.8,231.1 L380.5,229.5 L383.2,228.0 L385.9,226.5 L388.8,224.9 L391.7,223.4 L394.6,221.8 L397.6,220.3 L400.6,218.7 L403.8,217.2 L406.9,215.7 L410.2,214.1 L413.4,212.6 L416.8,211.0 L420.2,209.5 L423.6,207.9 L427.1,206.4 L430.6,204.9 L434.3,203.3 L437.9,201.8 L441.6,200.2 L445.4,198.7 L449.2,197.1 L453.0,195.6 L457.0,194.1 L460.9,192.5 L464.9,191.0 L469.0,189.4 L473.1,187.9 L477.3,186.3 L481.5,184.8 L485.7,183.3 L490.0,181.7 L494.4,180.2 L498.8,178.6 L503.2,177.1 L507.7,175.5 L512.3,174.0 L516.8,172.5 L521.5,170.9"/>
<path d="M338.6,285.1 L338.8,283.5 L339.1,282.0 L339.4,280.5 L339.9,278.9 L340.4,277.4 L341.0,275.8 L341.6,274.3 L342.4,272.7 L343.2,271.2 L344.1,269.7 L345.1,268.1 L346.1,266.6 L347.3,265.0 L348.5,263.5 L349.8,261.9 L351.1,260.4 L352.5,258.9 L354.0,257.3 L355.6,255.8 L357.2,254.2 L358.9,252.7 L360.7,251.1 L362.5,249.6 L364.4,248.1 L366.4,246.5 L368.4,245.0 L370.5,243.4 L372.7,241.9 L374.9,240.3 L377.2,238.8 L379.5,237.3 L382.0,235.7 L384.4,234.2 L387.0,232.6 L389.6,231.1 L392.2,229.5 L394.9,228.0 L397.7,226.5 L400.6,224.9 L403.5,223.4 L406.4,221.8 L409.4,220.3 L412.5,218.7 L415.6,217.2 L418.8,215.7 L422.0,214.1 L425.3,212.6 L428.7,211.0 L432.1,209.5 L435.5,207.9 L439.0,206.4 L442.6,204.9 L446.2,203.3 L449.9,201.8 L453.6,200.2 L457.3,198.7 L461.2,197.1 L465.0,195.6 L468.9,194.1 L472.9,192.5 L476.9,191.0 L481.0,189.4 L485.1,187.9 L489.3,186.3 L493.5,184.8 L497.8,183.3 L502.1,181.7 L506.4,180.2 L510.9,178.6 L515.3,177.1 L519.8,175.5 L524.3,174.0 L528.9,172.5 L533.6,170.9"/>
<path d="M349.8,285.1 L350.0,283.5 L350.3,282.0 L350.6,280.5 L351.1,278.9 L351.6,277.4 L352.2,275.8 L352.9,274.3 L353.7,272.7 L354.5,271.2 L355.4,269.7 L356.4,268.1 L357.5,266.6 L358.7,265.0 L359.9,263.5 L361.2,261.9 L362.6,260.4 L364.0,258.9 L365.5,257.3 L367.1,255.8 L368.7,254.2 L370.4,252.7 L372.2,251.1 L374.1,249.6 L376.0,248.1 L378.0,246.5 L380.0,245.0 L382.1,243.4 L384.3,241.9 L386.6,240.3 L388.9,238.8 L391.2,237.3 L393.7,235.7 L396.1,234.2 L398.7,232.6 L401.3,231.1 L404.0,229.5 L406.7,228.0 L409.5,226.5 L412.3,224.9 L415.3,223.4 L418.2,221.8 L421.2,220.3 L424.3,218.7 L427.5,217.2 L430.6,215.7 L433.9,214.1 L437.2,212.6 L440.5,211.0 L443.9,209.5 L447.4,207.9 L450.9,206.4 L454.5,204.9 L458.1,203.3 L461.8,201.8 L465.5,200.2 L469.3,198.7 L473.1,197.1 L477.0,195.6 L480.9,194.1 L484.9,192.5 L488.9,191.0 L493.0,189.4 L497.1,187.9 L501.3,186.3 L505.5,184.8 L509.8,183.3 L514.1,181.7 L518.5,180.2 L522.9,178.6 L527.4,177.1 L531.9,175.5 L536.4,174.0 L541.0,172.5 L545.6,170.9"/>
<path d="M360.9,285.1 L361.1,283.5 L361.4,282.0 L361.8,280.5 L362.3,278.9 L362.8,277.4 L363.5,275.8 L364.2,274.3 L365.0,272.7 L365.8,271.2 L366.8,269.7 L367.8,268.1 L368.9,266.6 L370.1,265.0 L371.3,263.5 L372.6,261.9 L374.0,260.4 L375.5,258.9 L377.0,257.3 L378.6,255.8 L380.2,254.2 L382.0,252.7 L383.8,251.1 L385.6,249.6 L387.6,248.1 L389.6,246.5 L391.6,245.0 L393.8,243.4 L396.0,241.9 L398.2,240.3 L400.5,238.8 L402.9,237.3 L405.4,235.7 L407.9,234.2 L410.4,232.6 L413.0,231.1 L415.7,229.5 L418.5,228.0 L421.3,226.5 L424.1,224.9 L427.1,223.4 L430.0,221.8 L433.1,220.3 L436.1,218.7 L439.3,217.2 L442.5,215.7 L445.7,214.1 L449.1,212.6 L452.4,211.0 L455.8,209.5 L459.3,207.9 L462.8,206.4 L466.4,204.9 L470.0,203.3 L473.7,201.8 L477.5,200.2 L481.2,198.7 L485.1,197.1 L489.0,195.6 L492.9,194.1 L496.9,192.5 L500.9,191.0 L505.0,189.4 L509.1,187.9 L513.3,186.3 L517.6,184.8 L521.8,183.3 L526.2,181.7 L530.5,180.2 L535.0,178.6 L539.4,177.1 L543.9,175.5 L548.5,174.0 L553.1,172.5 L557.7,170.9"/>
<path d="M372.0,285.1 L372.2,283.5 L372.6,282.0 L373.0,280.5 L373.5,278.9 L374.1,277.4 L374.7,275.8 L375.5,274.3 L376.3,272.7 L377.2,271.2 L378.1,269.7 L379.2,268.1 L380.3,266.6 L381.5,265.0 L382.7,263.5 L384.0,261.9 L385.4,260.4 L386.9,258.9 L388.5,257.3 L390.1,255.8 L391.8,254.2 L393.5,252.7 L395.3,251.1 L397.2,249.6 L399.2,248.1 L401.2,246.5 L403.2,245.0 L405.4,243.4 L407.6,241.9 L409.9,240.3 L412.2,238.8 L414.6,237.3 L417.0,235.7 L419.6,234.2 L422.1,232.6 L424.8,231.1 L427.5,229.5 L430.2,228.0 L433.0,226.5 L435.9,224.9 L438.8,223.4 L441.8,221.8 L444.9,220.3 L448.0,218.7 L451.1,217.2 L454.3,215.7 L457.6,214.1 L460.9,212.6 L464.3,211.0 L467.7,209.5 L471.2,207.9 L474.7,206.4 L478.3,204.9 L482.0,203.3 L485.7,201.8 L489.4,200.2 L493.2,198.7 L497.0,197.1 L500.9,195.6 L504.9,194.1 L508.9,192.5 L512.9,191.0 L517.0,189.4 L521.1,187.9 L525.3,186.3 L529.6,184.8 L533.9,183.3 L538.2,181.7 L542.6,180.2 L547.0,178.6 L551.5,177.1 L556.0,175.5 L560.5,174.0 L565.1,172.5 L569.8,170.9"/>
<path d="M383.1,285.1 L383.4,283.5 L383.7,282.0 L384.2,280.5 L384.7,278.9 L385.3,277.4 L386.0,275.8 L386.7,274.3 L387.6,272.7 L388.5,271.2 L389.4,269.7 L390.5,268.1 L391.6,266.6 L392.8,265.0 L394.1,263.5 L395.5,261.9 L396.9,260.4 L398.4,258.9 L399.9,257.3 L401.6,255.8 L403.3,254.2 L405.0,252.7 L406.9,251.1 L408.8,249.6 L410.7,248.1 L412.8,246.5 L414.9,245.0 L417.0,243.4 L419.2,241.9 L421.5,240.3 L423.9,238.8 L426.3,237.3 L428.7,235.7 L431.3,234.2 L433.9,232.6 L436.5,231.1 L439.2,229.5 L442.0,228.0 L444.8,226.5 L447.7,224.9 L450.6,223.4 L453.6,221.8 L456.7,220.3 L459.8,218.7 L463.0,217.2 L466.2,215.7 L469.5,214.1 L472.8,212.6 L476.2,211.0 L479.6,209.5 L483.1,207.9 L486.6,206.4 L490.2,204.9 L493.9,203.3 L497.6,201.8 L501.3,200.2 L505.1,198.7 L509.0,197.1 L512.9,195.6 L516.8,194.1 L520.8,192.5 L524.9,191.0 L529.0,189.4 L533.1,187.9 L537.3,186.3 L541.6,184.8 L545.9,183.3 L550.2,181.7 L554.6,180.2 L559.0,178.6 L563.5,177.1 L568.0,175.5 L572.6,174.0 L577.2,172.5 L581.9,170.9"/>
<path d="M394.2,285.1 L394.5,283.5 L394.9,282.0 L395.4,280.5 L395.9,278.9 L396.5,277.4 L397.2,275.8 L398.0,274.3 L398.8,272.7 L399.8,271.2 L400.8,269.7 L401.9,268.1 L403.0,266.6 L404.2,265.0 L405.5,263.5 L406.9,261.9 L408.3,260.4 L409.8,258.9 L411.4,257.3 L413.1,255.8 L414.8,254.2 L416.6,252.7 L418.4,251.1 L420.3,249.6 L422.3,248.1 L424.3,246.5 L426.5,245.0 L428.6,243.4 L430.9,241.9 L433.2,240.3 L435.5,238.8 L437.9,237.3 L440.4,235.7 L443.0,234.2 L445.6,232.6 L448.2,231.1 L451.0,229.5 L453.7,228.0 L456.6,226.5 L459.5,224.9 L462.4,223.4 L465.4,221.8 L468.5,220.3 L471.6,218.7 L474.8,217.2 L478.0,215.7 L481.3,214.1 L484.6,212.6 L488.0,211.0 L491.5,209.5 L495.0,207.9 L498.5,206.4 L502.1,204.9 L505.8,203.3 L509.5,201.8 L513.3,200.2 L517.1,198.7 L520.9,197.1 L524.8,195.6 L528.8,194.1 L532.8,192.5 L536.9,191.0 L541.0,189.4 L545.1,187.9 L549.3,186.3 L553.6,184.8 L557.9,183.3 L562.2,181.7 L566.6,180.2 L571.1,178.6 L575.5,177.1 L580.1,175.5 L584.6,174.0 L589.3,172.5 L593.9,170.9"/>
<path d="M405.3,285.1 L405.7,283.5 L406.1,282.0 L406.5,280.5 L407.1,278.9 L407.7,277.4 L408.5,275.8 L409.3,274.3 L410.1,272.7 L411.1,271.2 L412.1,269.7 L413.2,268.1 L414.4,266.6 L415.6,265.0 L416.9,263.5 L418.3,261.9 L419.8,260.4 L421.3,258.9 L422.9,257.3 L424.6,255.8 L426.3,254.2 L428.1,252.7 L429.9,251.1 L431.9,249.6 L433.9,248.1 L435.9,246.5 L438.1,245.0 L440.2,243.4 L442.5,241.9 L444.8,240.3 L447.2,238.8 L449.6,237.3 L452.1,235.7 L454.7,234.2 L457.3,232.6 L460.0,231.1 L462.7,229.5 L465.5,228.0 L468.3,226.5 L471.2,224.9 L474.2,223.4 L477.2,221.8 L480.3,220.3 L483.4,218.7 L486.6,217.2 L489.9,215.7 L493.1,214.1 L496.5,212.6 L499.9,211.0 L503.4,209.5 L506.9,207.9 L510.4,206.4 L514.0,204.9 L517.7,203.3 L521.4,201.8 L525.2,200.2 L529.0,198.7 L532.9,197.1 L536.8,195.6 L540.8,194.1 L544.8,192.5 L548.8,191.0 L553.0,189.4 L557.1,187.9 L561.3,186.3 L565.6,184.8 L569.9,183.3 L574.3,181.7 L578.6,180.2 L583.1,178.6 L587.6,177.1 L592.1,175.5 L596.7,174.0 L601.3,172.5 L606.0,170.9"/>
<path d="M416.5,285.1 L416.8,283.5 L417.2,282.0 L417.7,280.5 L418.3,278.9 L419.0,277.4 L419.7,275.8 L420.5,274.3 L421.4,272.7 L422.4,271.2 L423.4,269.7 L424.5,268.1 L425.7,266.6 L427.0,265.0 L428.3,263.5 L429.7,261.9 L431.2,260.4 L432.8,258.9 L434.4,257.3 L436.0,255.8 L437.8,254.2 L439.6,252.7 L441.5,251.1 L443.4,249.6 L445.4,248.1 L447.5,246.5 L449.7,245.0 L451.9,243.4 L454.1,241.9 L456.4,240.3 L458.8,238.8 L461.3,237.3 L463.8,235.7 L466.4,234.2 L469.0,232.6 L471.7,231.1 L474.4,229.5 L477.2,228.0 L480.1,226.5 L483.0,224.9 L486.0,223.4 L489.0,221.8 L492.1,220.3 L495.2,218.7 L498.4,217.2 L501.7,215.7 L505.0,214.1 L508.3,212.6 L511.8,211.0 L515.2,209.5 L518.7,207.9 L522.3,206.4 L525.9,204.9 L529.6,203.3 L533.3,201.8 L537.1,200.2 L540.9,198.7 L544.8,197.1 L548.7,195.6 L552.7,194.1 L556.7,192.5 L560.8,191.0 L564.9,189.4 L569.1,187.9 L573.3,186.3 L577.6,184.8 L581.9,183.3 L586.3,181.7 L590.7,180.2 L595.1,178.6 L599.6,177.1 L604.1,175.5 L608.7,174.0 L613.4,172.5 L618.0,170.9"/>
<path d="M427.6,285.1 L427.9,283.5 L428.4,282.0 L428.9,280.5 L429.5,278.9 L430.2,277.4 L431.0,275.8 L431.8,274.3 L432.7,272.7 L433.7,271.2 L434.8,269.7 L435.9,268.1 L437.1,266.6 L438.4,265.0 L439.7,263.5 L441.2,261.9 L442.6,260.4 L444.2,258.9 L445.8,257.3 L447.5,255.8 L449.3,254.2 L451.1,252.7 L453.0,251.1 L455.0,249.6 L457.0,248.1 L459.1,246.5 L461.2,245.0 L463.5,243.4 L465.7,241.9 L468.1,240.3 L470.5,238.8 L472.9,237.3 L475.5,235.7 L478.0,234.2 L480.7,232.6 L483.4,231.1 L486.1,229.5 L489.0,228.0 L491.8,226.5 L494.8,224.9 L497.7,223.4 L500.8,221.8 L503.9,220.3 L507.0,218.7 L510.2,217.2 L513.5,215.7 L516.8,214.1 L520.2,212.6 L523.6,211.0 L527.1,209.5 L530.6,207.9 L534.2,206.4 L537.8,204.9 L541.5,203.3 L545.2,201.8 L549.0,200.2 L552.9,198.7 L556.7,197.1 L560.7,195.6 L564.7,194.1 L568.7,192.5 L572.8,191.0 L576.9,189.4 L581.1,187.9 L585.3,186.3 L589.6,184.8 L593.9,183.3 L598.3,181.7 L602.7,180.2 L607.1,178.6 L611.6,177.1 L616.2,175.5 L620.8,174.0 L625.4,172.5 L630.1,170.9"/>
<path d="M438.7,285.1 L439.1,283.5 L439.5,282.0 L440.1,280.5 L440.7,278.9 L441.4,277.4 L442.2,275.8 L443.1,274.3 L444.0,272.7 L445.0,271.2 L446.1,269.7 L447.2,268.1 L448.5,266.6 L449.8,265.0 L451.1,263.5 L452.6,261.9 L454.1,260.4 L455.6,258.9 L457.3,257.3 L459.0,255.8 L460.8,254.2 L462.6,252.7 L464.5,251.1 L466.5,249.6 L468.6,248.1 L470.7,246.5 L472.8,245.0 L475.1,243.4 L477.4,241.9 L479.7,240.3 L482.1,238.8 L484.6,237.3 L487.1,235.7 L489.7,234.2 L492.4,232.6 L495.1,231.1 L497.9,229.5 L500.7,228.0 L503.6,226.5 L506.5,224.9 L509.5,223.4 L512.6,221.8 L515.7,220.3 L518.8,218.7 L522.1,217.2 L525.3,215.7 L528.7,214.1 L532.0,212.6 L535.5,211.0 L538.9,209.5 L542.5,207.9 L546.1,206.4 L549.7,204.9 L553.4,203.3 L557.1,201.8 L560.9,200.2 L564.8,198.7 L568.7,197.1 L572.6,195.6 L576.6,194.1 L580.7,192.5 L584.7,191.0 L588.9,189.4 L593.1,187.9 L597.3,186.3 L601.6,184.8 L605.9,183.3 L610.3,181.7 L614.7,180.2 L619.1,178.6 L623.7,177.1 L628.2,175.5 L632.8,174.0 L637.4,172.5 L642.1,170.9"/>
<path d="M449.8,285.1 L450.2,283.5 L450.7,282.0 L451.3,280.5 L451.9,278.9 L452.6,277.4 L453.4,275.8 L454.3,274.3 L455.3,272.7 L456.3,271.2 L457.4,269.7 L458.6,268.1 L459.8,266.6 L461.1,265.0 L462.5,263.5 L464.0,261.9 L465.5,260.4 L467.1,258.9 L468.8,257.3 L470.5,255.8 L472.3,254.2 L474.1,252.7 L476.1,251.1 L478.1,249.6 L480.1,248.1 L482.2,246.5 L484.4,245.0 L486.7,243.4 L489.0,241.9 L491.3,240.3 L493.8,238.8 L496.3,237.3 L498.8,235.7 L501.4,234.2 L504.1,232.6 L506.8,231.1 L509.6,229.5 L512.4,228.0 L515.3,226.5 L518.3,224.9 L521.3,223.4 L524.3,221.8 L527.5,220.3 L530.6,218.7 L533.9,217.2 L537.1,215.7 L540.5,214.1 L543.9,212.6 L547.3,211.0 L550.8,209.5 L554.3,207.9 L557.9,206.4 L561.6,204.9 L565.3,203.3 L569.0,201.8 L572.8,200.2 L576.7,198.7 L580.6,197.1 L584.5,195.6 L588.5,194.1 L592.6,192.5 L596.7,191.0 L600.8,189.4 L605.0,187.9 L609.3,186.3 L613.5,184.8 L617.9,183.3 L622.3,181.7 L626.7,180.2 L631.2,178.6 L635.7,177.1 L640.2,175.5 L644.8,174.0 L649.5,172.5 L654.2,170.9"/>
<path d="M460.9,285.1 L461.3,283.5 L461.8,282.0 L462.4,280.5 L463.1,278.9 L463.8,277.4 L464.7,275.8 L465.6,274.3 L466.5,272.7 L467.6,271.2 L468.7,269.7 L469.9,268.1 L471.2,266.6 L472.5,265.0 L473.9,263.5 L475.4,261.9 L476.9,260.4 L478.5,258.9 L480.2,257.3 L482.0,255.8 L483.8,254.2 L485.7,252.7 L487.6,251.1 L489.6,249.6 L491.7,248.1 L493.8,246.5 L496.0,245.0 L498.3,243.4 L500.6,241.9 L503.0,240.3 L505.4,238.8 L507.9,237.3 L510.5,235.7 L513.1,234.2 L515.8,232.6 L518.5,231.1 L521.3,229.5 L524.1,228.0 L527.1,226.5 L530.0,224.9 L533.0,223.4 L536.1,221.8 L539.2,220.3 L542.4,218.7 L545.7,217.2 L549.0,215.7 L552.3,214.1 L555.7,212.6 L559.2,211.0 L562.7,209.5 L566.2,207.9 L569.8,206.4 L573.5,204.9 L577.2,203.3 L580.9,201.8 L584.7,200.2 L588.6,198.7 L592.5,197.1 L596.5,195.6 L600.5,194.1 L604.5,192.5 L608.6,191.0 L612.8,189.4 L617.0,187.9 L621.2,186.3 L625.5,184.8 L629.9,183.3 L634.2,181.7 L638.7,180.2 L643.2,178.6 L647.7,177.1 L652.2,175.5 L656.8,174.0 L661.5,172.5 L666.2,170.9"/>
<path d="M472.0,285.1 L472.4,283.5 L473.0,282.0 L473.6,280.5 L474.3,278.9 L475.1,277.4 L475.9,275.8 L476.8,274.3 L477.8,272.7 L478.9,271.2 L480.0,269.7 L481.2,268.1 L482.5,266.6 L483.9,265.0 L485.3,263.5 L486.8,261.9 L488.3,260.4 L490.0,258.9 L491.7,257.3 L493.4,255.8 L495.3,254.2 L497.2,252.7 L499.1,251.1 L501.1,249.6 L503.2,248.1 L505.4,246.5 L507.6,245.0 L509.9,243.4 L512.2,241.9 L514.6,240.3 L517.0,238.8 L519.6,237.3 L522.1,235.7 L524.8,234.2 L527.5,232.6 L530.2,231.1 L533.0,229.5 L535.9,228.0 L538.8,226.5 L541.8,224.9 L544.8,223.4 L547.9,221.8 L551.0,220.3 L554.2,218.7 L557.5,217.2 L560.8,215.7 L564.1,214.1 L567.5,212.6 L571.0,211.0 L574.5,209.5 L578.1,207.9 L581.7,206.4 L585.3,204.9 L589.1,203.3 L592.8,201.8 L596.6,200.2 L600.5,198.7 L604.4,197.1 L608.4,195.6 L612.4,194.1 L616.5,192.5 L620.6,191.0 L624.7,189.4 L628.9,187.9 L633.2,186.3 L637.5,184.8 L641.8,183.3 L646.2,181.7 L650.7,180.2 L655.1,178.6 L659.7,177.1 L664.2,175.5"/>
<path d="M483.1,285.1 L483.6,283.5 L484.1,282.0 L484.8,280.5 L485.5,278.9 L486.3,277.4 L487.1,275.8 L488.1,274.3 L489.1,272.7 L490.2,271.2 L491.3,269.7 L492.6,268.1 L493.9,266.6 L495.2,265.0 L496.7,263.5 L498.2,261.9 L499.8,260.4 L501.4,258.9 L503.1,257.3 L504.9,255.8 L506.8,254.2 L508.7,252.7 L510.6,251.1 L512.7,249.6 L514.8,248.1 L516.9,246.5 L519.2,245.0 L521.4,243.4 L523.8,241.9 L526.2,240.3 L528.7,238.8 L531.2,237.3 L533.8,235.7 L536.4,234.2 L539.1,232.6 L541.9,231.1 L544.7,229.5 L547.6,228.0 L550.5,226.5 L553.5,224.9 L556.5,223.4 L559.6,221.8 L562.8,220.3 L566.0,218.7 L569.3,217.2 L572.6,215.7 L575.9,214.1 L579.3,212.6 L582.8,211.0 L586.3,209.5 L589.9,207.9 L593.5,206.4 L597.2,204.9 L600.9,203.3 L604.7,201.8 L608.5,200.2 L612.4,198.7 L616.3,197.1 L620.3,195.6 L624.3,194.1 L628.4,192.5 L632.5,191.0 L636.7,189.4 L640.9,187.9 L645.2,186.3 L649.5,184.8 L653.8,183.3 L658.2,181.7 L662.7,180.2"/>
<path d="M494.2,285.1 L494.7,283.5 L495.3,282.0 L495.9,280.5 L496.7,278.9 L497.5,277.4 L498.4,275.8 L499.3,274.3 L500.4,272.7 L501.5,271.2 L502.6,269.7 L503.9,268.1 L505.2,266.6 L506.6,265.0 L508.1,263.5 L509.6,261.9 L511.2,260.4 L512.8,258.9 L514.6,257.3 L516.4,255.8 L518.2,254.2 L520.2,252.7 L522.1,251.1 L524.2,249.6 L526.3,248.1 L528.5,246.5 L530.7,245.0 L533.0,243.4 L535.4,241.9 L537.8,240.3 L540.3,238.8 L542.8,237.3 L545.4,235.7 L548.1,234.2 L550.8,232.6 L553.6,231.1 L556.4,229.5 L559.3,228.0 L562.2,226.5 L565.2,224.9 L568.3,223.4 L571.4,221.8 L574.6,220.3 L577.8,218.7 L581.0,217.2 L584.4,215.7 L587.7,214.1 L591.2,212.6 L594.6,211.0 L598.2,209.5 L601.8,207.9 L605.4,206.4 L609.1,204.9 L612.8,203.3 L616.6,201.8 L620.4,200.2 L624.3,198.7 L628.2,197.1 L632.2,195.6 L636.3,194.1 L640.3,192.5 L644.5,191.0 L648.6,189.4 L652.8,187.9 L657.1,186.3 L661.4,184.8 L665.8,183.3"/>
<path d="M505.3,285.1 L505.8,283.5 L506.4,282.0 L507.1,280.5 L507.9,278.9 L508.7,277.4 L509.6,275.8 L510.6,274.3 L511.6,272.7 L512.7,271.2 L513.9,269.7 L515.2,268.1 L516.6,266.6 L518.0,265.0 L519.4,263.5 L521.0,261.9 L522.6,260.4 L524.3,258.9 L526.0,257.3 L527.8,255.8 L529.7,254.2 L531.7,252.7 L533.7,251.1 L535.7,249.6 L537.9,248.1 L540.0,246.5 L542.3,245.0 L544.6,243.4 L547.0,241.9 L549.4,240.3 L551.9,238.8 L554.5,237.3 L557.1,235.7 L559.8,234.2 L562.5,232.6 L565.3,231.1 L568.1,229.5 L571.0,228.0 L574.0,226.5 L577.0,224.9 L580.0,223.4 L583.1,221.8 L586.3,220.3 L589.5,218.7 L592.8,217.2 L596.2,215.7 L599.5,214.1 L603.0,212.6 L606.5,211.0 L610.0,209.5 L613.6,207.9 L617.2,206.4 L620.9,204.9 L624.7,203.3 L628.5,201.8 L632.3,200.2 L636.2,198.7 L640.1,197.1 L644.1,195.6 L648.2,194.1 L652.2,192.5 L656.4,191.0 L660.6,189.4 L664.8,187.9"/>
<path d="M516.4,285.1 L516.9,283.5 L517.6,282.0 L518.3,280.5 L519.0,278.9 L519.9,277.4 L520.8,275.8 L521.8,274.3 L522.9,272.7 L524.0,271.2 L525.2,269.7 L526.5,268.1 L527.9,266.6 L529.3,265.0 L530.8,263.5 L532.4,261.9 L534.0,260.4 L535.7,258.9 L537.5,257.3 L539.3,255.8 L541.2,254.2 L543.1,252.7 L545.2,251.1 L547.2,249.6 L549.4,248.1 L551.6,246.5 L553.9,245.0 L556.2,243.4 L558.6,241.9 L561.0,240.3 L563.5,238.8 L566.1,237.3 L568.7,235.7 L571.4,234.2 L574.2,232.6 L577.0,231.1 L579.8,229.5 L582.7,228.0 L585.7,226.5 L588.7,224.9 L591.8,223.4 L594.9,221.8 L598.1,220.3 L601.3,218.7 L604.6,217.2 L607.9,215.7 L611.3,214.1 L614.8,212.6 L618.3,211.0 L621.8,209.5 L625.4,207.9 L629.1,206.4 L632.8,204.9 L636.5,203.3 L640.3,201.8 L644.2,200.2 L648.1,198.7 L652.0,197.1 L656.0,195.6 L660.1,194.1 L664.2,192.5"/>
<path d="M527.5,285.1 L528.0,283.5 L528.7,282.0 L529.4,280.5 L530.2,278.9 L531.1,277.4 L532.0,275.8 L533.1,274.3 L534.1,272.7 L535.3,271.2 L536.5,269.7 L537.9,268.1 L539.2,266.6 L540.7,265.0 L542.2,263.5 L543.8,261.9 L545.4,260.4 L547.1,258.9 L548.9,257.3 L550.8,255.8 L552.7,254.2 L554.6,252.7 L556.7,251.1 L558.8,249.6 L560.9,248.1 L563.1,246.5 L565.4,245.0 L567.8,243.4 L570.2,241.9 L572.6,240.3 L575.2,238.8 L577.7,237.3 L580.4,235.7 L583.1,234.2 L585.8,232.6 L588.6,231.1 L591.5,229.5 L594.4,228.0 L597.4,226.5 L600.4,224.9 L603.5,223.4 L606.6,221.8 L609.8,220.3 L613.1,218.7 L616.4,217.2 L619.7,215.7 L623.1,214.1 L626.6,212.6 L630.1,211.0 L633.7,209.5 L637.3,207.9 L640.9,206.4 L644.6,204.9 L648.4,203.3 L652.2,201.8 L656.1,200.2 L660.0,198.7 L663.9,197.1"/>
<path d="M538.6,285.1 L539.2,283.5 L539.8,282.0 L540.6,280.5 L541.4,278.9 L542.3,277.4 L543.3,275.8 L544.3,274.3 L545.4,272.7 L546.6,271.2 L547.8,269.7 L549.2,268.1 L550.6,266.6 L552.0,265.0 L553.6,263.5 L555.2,261.9 L556.8,260.4 L558.5,258.9 L560.3,257.3 L562.2,255.8 L564.1,254.2 L566.1,252.7 L568.2,251.1 L570.3,249.6 L572.5,248.1 L574.7,246.5 L577.0,245.0 L579.3,243.4 L581.8,241.9 L584.2,240.3 L586.8,238.8 L589.4,237.3 L592.0,235.7 L594.7,234.2 L597.5,232.6 L600.3,231.1 L603.2,229.5 L606.1,228.0 L609.1,226.5 L612.1,224.9 L615.2,223.4 L618.4,221.8 L621.6,220.3 L624.8,218.7 L628.1,217.2 L631.5,215.7 L634.9,214.1 L638.4,212.6 L641.9,211.0 L645.5,209.5 L649.1,207.9 L652.8,206.4 L656.5,204.9 L660.2,203.3 L664.1,201.8"/>
</g>
<g shape-rendering="crispEdges">
<rect x="431.00" y="173.00" width="3.00" height="110.00" fill="#E600E6"/>
<rect x="539.00" y="173.00" width="3.00" height="110.00" fill="#E600E6"/>
<rect x="427.50" y="173.00" width="118.00" height="2.00" fill="#E600E6"/>
<rect x="427.50" y="281.00" width="118.00" height="2.00" fill="#E600E6"/>
<rect x="431.70" y="168.00" width="1.60" height="5.00" fill="#E600E6"/>
<rect x="431.70" y="283.00" width="1.60" height="5.00" fill="#E600E6"/>
<rect x="435.40" y="171.00" width="1.40" height="2.00" fill="#E600E6"/>
<rect x="435.40" y="283.00" width="1.40" height="2.00" fill="#E600E6"/>
<rect x="439.00" y="171.00" width="1.40" height="2.00" fill="#E600E6"/>
<rect x="439.00" y="283.00" width="1.40" height="2.00" fill="#E600E6"/>
<rect x="442.60" y="171.00" width="1.40" height="2.00" fill="#E600E6"/>
<rect x="442.60" y="283.00" width="1.40" height="2.00" fill="#E600E6"/>
<rect x="446.20" y="171.00" width="1.40" height="2.00" fill="#E600E6"/>
<rect x="446.20" y="283.00" width="1.40" height="2.00" fill="#E600E6"/>
<rect x="449.70" y="168.00" width="1.60" height="5.00" fill="#E600E6"/>
<rect x="449.70" y="283.00" width="1.60" height="5.00" fill="#E600E6"/>
<rect x="453.40" y="171.00" width="1.40" height="2.00" fill="#E600E6"/>
<rect x="453.40" y="283.00" width="1.40" height="2.00" fill="#E600E6"/>
<rect x="457.00" y="171.00" width="1.40" height="2.00" fill="#E600E6"/>
<rect x="457.00" y="283.00" width="1.40" height="2.00" fill="#E600E6"/>
<rect x="460.60" y="171.00" width="1.40" height="2.00" fill="#E600E6"/>
<rect x="460.60" y="283.00" width="1.40" height="2.00" fill="#E600E6"/>
<rect x="464.20" y="171.00" width="1.40" height="2.00" fill="#E600E6"/>
<rect x="464.20" y="283.00" width="1.40" height="2.00" fill="#E600E6"/>
<rect x="467.70" y="168.00" width="1.60" height="5.00" fill="#E600E6"/>
<rect x="467.70" y="283.00" width="1.60" height="5.00" fill="#E600E6"/>
<rect x="471.40" y="171.00" width="1.40" height="2.00" fill="#E600E6"/>
<rect x="471.40" y="283.00" width="1.40" height="2.00" fill="#E600E6"/>
<rect x="475.00" y="171.00" width="1.40" height="2.00" fill="#E600E6"/>
<rect x="475.00" y="283.00" width="1.40" height="2.00" fill="#E600E6"/>
<rect x="478.60" y="171.00" width="1.40" height="2.00" fill="#E600E6"/>
<rect x="478.60" y="283.00" width="1.40" height="2.00" fill="#E600E6"/>
<rect x="482.20" y="171.00" width="1.40" height="2.00" fill="#E600E6"/>
<rect x="482.20" y="283.00" width="1.40" height="2.00" fill="#E600E6"/>
<rect x="485.70" y="168.00" width="1.60" height="5.00" fill="#E600E6"/>
<rect x="485.70" y="283.00" width="1.60" height="5.00" fill="#E600E6"/>
<rect x="489.40" y="171.00" width="1.40" height="2.00" fill="#E600E6"/>
<rect x="489.40" y="283.00" width="1.40" height="2.00" fill="#E600E6"/>
<rect x="493.00" y="171.00" width="1.40" height="2.00" fill="#E600E6"/>
<rect x="493.00" y="283.00" width="1.40" height="2.00" fill="#E600E6"/>
<rect x="496.60" y="171.00" width="1.40" height="2.00" fill="#E600E6"/>
<rect x="496.60" y="283.00" width="1.40" height="2.00" fill="#E600E6"/>
<rect x="500.20" y="171.00" width="1.40" height="2.00" fill="#E600E6"/>
<rect x="500.20" y="283.00" width="1.40" height="2.00" fill="#E600E6"/>
<rect x="503.70" y="168.00" width="1.60" height="5.00" fill="#E600E6"/>
<rect x="503.70" y="283.00" width="1.60" height="5.00" fill="#E600E6"/>
<rect x="507.40" y="171.00" width="1.40" height="2.00" fill="#E600E6"/>
<rect x="507.40" y="283.00" width="1.40" height="2.00" fill="#E600E6"/>
<rect x="511.00" y="171.00" width="1.40" height="2.00" fill="#E600E6"/>
<rect x="511.00" y="283.00" width="1.40" height="2.00" fill="#E600E6"/>
<rect x="514.60" y="171.00" width="1.40" height="2.00" fill="#E600E6"/>
<rect x="514.60" y="283.00" width="1.40" height="2.00" fill="#E600E6"/>
<rect x="518.20" y="171.00" width="1.40" height="2.00" fill="#E600E6"/>
<rect x="518.20" y="283.00" width="1.40" height="2.00" fill="#E600E6"/>
<rect x="521.70" y="168.00" width="1.60" height="5.00" fill="#E600E6"/>
<rect x="521.70" y="283.00" width="1.60" height="5.00" fill="#E600E6"/>
<rect x="525.40" y="171.00" width="1.40" height="2.00" fill="#E600E6"/>
<rect x="525.40" y="283.00" width="1.40" height="2.00" fill="#E600E6"/>
<rect x="529.00" y="171.00" width="1.40" height="2.00" fill="#E600E6"/>
<rect x="529.00" y="283.00" width="1.40" height="2.00" fill="#E600E6"/>
<rect x="532.60" y="171.00" width="1.40" height="2.00" fill="#E600E6"/>
<rect x="532.60" y="283.00" width="1.40" height="2.00" fill="#E600E6"/>
<rect x="536.20" y="171.00" width="1.40" height="2.00" fill="#E600E6"/>
<rect x="536.20" y="283.00" width="1.40" height="2.00" fill="#E600E6"/>
<rect x="539.70" y="168.00" width="1.60" height="5.00" fill="#E600E6"/>
<rect x="539.70" y="283.00" width="1.60" height="5.00" fill="#E600E6"/>
<rect x="427.00" y="281.20" width="4.00" height="1.60" fill="#E600E6"/>
<rect x="542.00" y="281.20" width="4.00" height="1.60" fill="#E600E6"/>
<rect x="429.00" y="278.21" width="2.00" height="1.40" fill="#E600E6"/>
<rect x="542.00" y="278.21" width="2.00" height="1.40" fill="#E600E6"/>
<rect x="429.00" y="275.13" width="2.00" height="1.40" fill="#E600E6"/>
<rect x="542.00" y="275.13" width="2.00" height="1.40" fill="#E600E6"/>
<rect x="429.00" y="272.04" width="2.00" height="1.40" fill="#E600E6"/>
<rect x="542.00" y="272.04" width="2.00" height="1.40" fill="#E600E6"/>
<rect x="429.00" y="268.96" width="2.00" height="1.40" fill="#E600E6"/>
<rect x="542.00" y="268.96" width="2.00" height="1.40" fill="#E600E6"/>
<rect x="427.00" y="265.77" width="4.00" height="1.60" fill="#E600E6"/>
<rect x="542.00" y="265.77" width="4.00" height="1.60" fill="#E600E6"/>
<rect x="429.00" y="262.79" width="2.00" height="1.40" fill="#E600E6"/>
<rect x="542.00" y="262.79" width="2.00" height="1.40" fill="#E600E6"/>
<rect x="429.00" y="259.70" width="2.00" height="1.40" fill="#E600E6"/>
<rect x="542.00" y="259.70" width="2.00" height="1.40" fill="#E600E6"/>
<rect x="429.00" y="256.61" width="2.00" height="1.40" fill="#E600E6"/>
<rect x="542.00" y="256.61" width="2.00" height="1.40" fill="#E600E6"/>
<rect x="429.00" y="253.53" width="2.00" height="1.40" fill="#E600E6"/>
<rect x="542.00" y="253.53" width="2.00" height="1.40" fill="#E600E6"/>
<rect x="427.00" y="250.34" width="4.00" height="1.60" fill="#E600E6"/>
<rect x="542.00" y="250.34" width="4.00" height="1.60" fill="#E600E6"/>
<rect x="429.00" y="247.36" width="2.00" height="1.40" fill="#E600E6"/>
<rect x="542.00" y="247.36" width="2.00" height="1.40" fill="#E600E6"/>
<rect x="429.00" y="244.27" width="2.00" height="1.40" fill="#E600E6"/>
<rect x="542.00" y="244.27" width="2.00" height="1.40" fill="#E600E6"/>
<rect x="429.00" y="241.19" width="2.00" height="1.40" fill="#E600E6"/>
<rect x="542.00" y="241.19" width="2.00" height="1.40" fill="#E600E6"/>
<rect x="429.00" y="238.10" width="2.00" height="1.40" fill="#E600E6"/>
<rect x="542.00" y="238.10" width="2.00" height="1.40" fill="#E600E6"/>
<rect x="427.00" y="234.91" width="4.00" height="1.60" fill="#E600E6"/>
<rect x="542.00" y="234.91" width="4.00" height="1.60" fill="#E600E6"/>
<rect x="429.00" y="231.93" width="2.00" height="1.40" fill="#E600E6"/>
<rect x="542.00" y="231.93" width="2.00" height="1.40" fill="#E600E6"/>
<rect x="429.00" y="228.84" width="2.00" height="1.40" fill="#E600E6"/>
<rect x="542.00" y="228.84" width="2.00" height="1.40" fill="#E600E6"/>
<rect x="429.00" y="225.76" width="2.00" height="1.40" fill="#E600E6"/>
<rect x="542.00" y="225.76" width="2.00" height="1.40" fill="#E600E6"/>
<rect x="429.00" y="222.67" width="2.00" height="1.40" fill="#E600E6"/>
<rect x="542.00" y="222.67" width="2.00" height="1.40" fill="#E600E6"/>
<rect x="427.00" y="219.49" width="4.00" height="1.60" fill="#E600E6"/>
<rect x="542.00" y="219.49" width="4.00" height="1.60" fill="#E600E6"/>
<rect x="429.00" y="216.50" width="2.00" height="1.40" fill="#E600E6"/>
<rect x="542.00" y="216.50" width="2.00" height="1.40" fill="#E600E6"/>
<rect x="429.00" y="213.41" width="2.00" height="1.40" fill="#E600E6"/>
<rect x="542.00" y="213.41" width="2.00" height="1.40" fill="#E600E6"/>
<rect x="429.00" y="210.33" width="2.00" height="1.40" fill="#E600E6"/>
<rect x="542.00" y="210.33" width="2.00" height="1.40" fill="#E600E6"/>
<rect x="429.00" y="207.24" width="2.00" height="1.40" fill="#E600E6"/>
<rect x="542.00" y="207.24" width="2.00" height="1.40" fill="#E600E6"/>
<rect x="427.00" y="204.06" width="4.00" height="1.60" fill="#E600E6"/>
<rect x="542.00" y="204.06" width="4.00" height="1.60" fill="#E600E6"/>
<rect x="429.00" y="201.07" width="2.00" height="1.40" fill="#E600E6"/>
<rect x="542.00" y="201.07" width="2.00" height="1.40" fill="#E600E6"/>
<rect x="429.00" y="197.99" width="2.00" height="1.40" fill="#E600E6"/>
<rect x="542.00" y="197.99" width="2.00" height="1.40" fill="#E600E6"/>
<rect x="429.00" y="194.90" width="2.00" height="1.40" fill="#E600E6"/>
<rect x="542.00" y="194.90" width="2.00" height="1.40" fill="#E600E6"/>
<rect x="429.00" y="191.81" width="2.00" height="1.40" fill="#E600E6"/>
<rect x="542.00" y="191.81" width="2.00" height="1.40" fill="#E600E6"/>
<rect x="427.00" y="188.63" width="4.00" height="1.60" fill="#E600E6"/>
<rect x="542.00" y="188.63" width="4.00" height="1.60" fill="#E600E6"/>
<rect x="429.00" y="185.64" width="2.00" height="1.40" fill="#E600E6"/>
<rect x="542.00" y="185.64" width="2.00" height="1.40" fill="#E600E6"/>
<rect x="429.00" y="182.56" width="2.00" height="1.40" fill="#E600E6"/>
<rect x="542.00" y="182.56" width="2.00" height="1.40" fill="#E600E6"/>
<rect x="429.00" y="179.47" width="2.00" height="1.40" fill="#E600E6"/>
<rect x="542.00" y="179.47" width="2.00" height="1.40" fill="#E600E6"/>
<rect x="429.00" y="176.39" width="2.00" height="1.40" fill="#E600E6"/>
<rect x="542.00" y="176.39" width="2.00" height="1.40" fill="#E600E6"/>
<rect x="427.00" y="173.20" width="4.00" height="1.60" fill="#E600E6"/>
<rect x="542.00" y="173.20" width="4.00" height="1.60" fill="#E600E6"/>
</g>
<text transform="translate(432.50,163.30) scale(0.935,1)" fill="#E600E6" stroke="#E600E6" text-anchor="middle" >32</text>
<text transform="translate(450.50,163.30) scale(0.935,1)" fill="#E600E6" stroke="#E600E6" text-anchor="middle" >33</text>
<text transform="translate(468.50,163.30) scale(0.935,1)" fill="#E600E6" stroke="#E600E6" text-anchor="middle" >34</text>
<text transform="translate(486.50,163.30) scale(0.935,1)" fill="#E600E6" stroke="#E600E6" text-anchor="middle" >35</text>
<text transform="translate(504.50,163.30) scale(0.935,1)" fill="#E600E6" stroke="#E600E6" text-anchor="middle" >36</text>
<text transform="translate(522.50,163.30) scale(0.935,1)" fill="#E600E6" stroke="#E600E6" text-anchor="middle" >37</text>
<text transform="translate(540.50,163.30) scale(0.935,1)" fill="#E600E6" stroke="#E600E6" text-anchor="middle" >38</text>
<text transform="translate(486.50,145.50) scale(0.935,1)" fill="#E600E6" stroke="#E600E6" text-anchor="middle" >Salinity (PSU)</text>
<text transform="translate(565.00,287.00) scale(0.935,1)" fill="#E600E6" stroke="#E600E6" text-anchor="end" >0</text>
<text transform="translate(565.00,271.57) scale(0.935,1)" fill="#E600E6" stroke="#E600E6" text-anchor="end" >5</text>
<text transform="translate(565.00,256.14) scale(0.935,1)" fill="#E600E6" stroke="#E600E6" text-anchor="end" >10</text>
<text transform="translate(565.00,240.71) scale(0.935,1)" fill="#E600E6" stroke="#E600E6" text-anchor="end" >15</text>
<text transform="translate(565.00,225.29) scale(0.935,1)" fill="#E600E6" stroke="#E600E6" text-anchor="end" >20</text>
<text transform="translate(565.00,209.86) scale(0.935,1)" fill="#E600E6" stroke="#E600E6" text-anchor="end" >25</text>
<text transform="translate(565.00,194.43) scale(0.935,1)" fill="#E600E6" stroke="#E600E6" text-anchor="end" >30</text>
<text transform="translate(565.00,179.00) scale(0.935,1)" fill="#E600E6" stroke="#E600E6" text-anchor="end" >35</text>
<text transform="translate(582.5,228) rotate(-90) scale(0.935,1)" fill="#E600E6" stroke="#E600E6" text-anchor="middle">Insitu Temperature (&#176;C)</text>
<path d="M475.3,241.5 L471.6,246.8 L479.6,247.3 L482.0,250.5 L472.2,265.0 L470.8,271.8 L483.3,273.6" fill="none" stroke="#FF0000" stroke-width="5.4" stroke-linejoin="round"/>
<path d="M475.3,241.5 L471.6,246.8 L479.6,247.3 L482.0,250.5 L472.2,265.0 L470.8,271.8 L483.3,273.6" fill="none" stroke="#E600E6" stroke-width="3" stroke-linejoin="round"/>
<text transform="translate(431.80,318.60) scale(0.935,1)" fill="#000000" stroke="#000000" text-anchor="start" >Float:&#160; 21489</text>
<text transform="translate(431.80,332.70) scale(0.935,1)" fill="#000000" stroke="#000000" text-anchor="start" >Profile:&#160; 116</text>
<text transform="translate(431.80,346.80) scale(0.935,1)" fill="#000000" stroke="#000000" text-anchor="start" >Location:&#160; 43.5&#176;S&#160; -25.9&#176;E</text>
<text transform="translate(431.80,360.90) scale(0.935,1)" fill="#000000" stroke="#000000" text-anchor="start" >Date:&#160; 04/17/2026</text>
<path d="M484.0,424.4 L484.1,424.4 L484.3,424.4 L484.4,424.4 L484.6,424.4 L484.8,424.4 L485.0,424.4 L485.2,424.5 L485.5,424.6 L485.7,424.8 L486.0,424.9 L486.3,425.1 L486.6,425.2 L486.9,425.3 L487.2,425.5 L487.5,425.6 L487.9,425.7 L488.2,425.8 L488.6,426.0 L489.0,426.1 L489.4,426.2 L489.8,426.3 L490.2,426.4 L490.6,426.5 L491.1,426.6 L491.5,426.7 L492.0,426.8 L492.4,426.9 L492.9,427.0 L493.4,427.1 L493.9,427.2 L494.4,427.3 L494.9,427.4 L495.4,427.4 L495.9,427.5 L496.4,427.6 L496.9,427.7 L497.5,427.7 L498.0,427.8 L498.6,427.8 L499.1,427.9 L499.7,428.0 L500.3,428.0 L500.8,428.1 L501.4,428.1 L502.0,428.1 L502.6,428.2 L503.2,428.2 L503.7,428.3 L504.3,428.3 L504.9,428.3 L505.5,428.3 L506.1,428.4 L506.7,428.4 L507.3,428.4 L508.0,428.4 L508.6,428.4 L509.2,428.4 L509.8,428.5 L510.4,428.5 L511.0,428.5 L511.6,428.5 L512.2,428.5 L512.8,428.4 L513.4,428.4 L514.0,428.4 L514.7,428.4 L515.3,428.4 L515.9,428.4 L516.5,428.3 L517.1,428.3 L517.7,428.3 L518.3,428.3 L518.8,428.2 L519.4,428.2 L520.0,428.1 L520.6,428.1 L521.2,428.1 L521.7,428.0 L522.3,428.0 L522.9,427.9 L523.4,427.8 L524.0,427.8 L524.5,427.7 L525.1,427.7 L525.6,427.6 L526.1,427.5 L526.6,427.4 L527.1,427.4 L527.6,427.3 L528.1,427.2 L528.6,427.1 L529.1,427.0 L529.6,426.9 L530.0,426.8 L530.5,426.7 L530.9,426.6 L531.4,426.5 L531.8,426.4 L532.2,426.3 L532.6,426.2 L533.0,426.1 L533.4,426.0 L533.8,425.8 L534.1,425.7 L534.5,425.6 L534.8,425.5 L535.1,425.3 L535.4,425.2 L535.7,425.1 L536.0,424.9 L536.3,424.8 L536.5,424.6 L536.8,424.5 L537.0,424.4 L537.2,424.4 L537.4,424.4 L537.6,424.4 L537.7,424.4 L537.9,424.4 L538.0,424.4 L538.0,424.4 L541.1,424.4 L544.1,424.6 L547.0,425.3 L549.9,426.1 L552.7,427.0 L555.4,427.8 L558.1,428.8 L560.7,429.8 L563.2,430.9 L565.6,432.0 L567.9,433.1 L570.1,434.3 L572.3,435.6 L574.3,436.9 L576.2,438.2 L578.0,439.5 L579.6,441.0 L581.2,442.4 L582.6,443.9 L584.0,445.4 L585.2,446.9 L586.2,448.4 L587.2,450.0 L588.0,451.6 L588.6,453.2 L589.2,454.8 L589.6,456.4 L589.8,458.0 L590.0,459.7 L590.0,461.3 L589.8,463.0 L589.6,464.6 L589.2,466.2 L588.6,467.8 L588.0,469.4 L587.2,471.0 L586.2,472.6 L585.2,474.1 L584.0,475.6 L582.6,477.1 L581.2,478.6 L579.6,480.0 L578.0,481.5 L576.2,482.8 L574.3,484.1 L572.3,485.4 L570.1,486.7 L567.9,487.9 L565.6,489.0 L563.2,490.1 L560.7,491.2 L558.1,492.2 L555.4,493.2 L552.7,494.0 L549.9,494.9 L547.0,495.7 L544.1,496.4 L541.1,496.6 L538.0,496.6 L538.0,496.6 L537.9,496.6 L537.7,496.6 L537.6,496.6 L537.4,496.6 L537.2,496.6 L537.0,496.6 L536.8,496.5 L536.5,496.4 L536.3,496.2 L536.0,496.1 L535.7,495.9 L535.4,495.8 L535.1,495.7 L534.8,495.5 L534.5,495.4 L534.1,495.3 L533.8,495.2 L533.4,495.0 L533.0,494.9 L532.6,494.8 L532.2,494.7 L531.8,494.6 L531.4,494.5 L530.9,494.4 L530.5,494.3 L530.0,494.2 L529.6,494.1 L529.1,494.0 L528.6,493.9 L528.1,493.8 L527.6,493.7 L527.1,493.6 L526.6,493.6 L526.1,493.5 L525.6,493.4 L525.1,493.3 L524.5,493.3 L524.0,493.2 L523.4,493.2 L522.9,493.1 L522.3,493.0 L521.7,493.0 L521.2,492.9 L520.6,492.9 L520.0,492.9 L519.4,492.8 L518.8,492.8 L518.3,492.7 L517.7,492.7 L517.1,492.7 L516.5,492.7 L515.9,492.6 L515.3,492.6 L514.7,492.6 L514.0,492.6 L513.4,492.6 L512.8,492.6 L512.2,492.5 L511.6,492.5 L511.0,492.5 L510.4,492.5 L509.8,492.5 L509.2,492.6 L508.6,492.6 L508.0,492.6 L507.3,492.6 L506.7,492.6 L506.1,492.6 L505.5,492.7 L504.9,492.7 L504.3,492.7 L503.7,492.7 L503.2,492.8 L502.6,492.8 L502.0,492.9 L501.4,492.9 L500.8,492.9 L500.3,493.0 L499.7,493.0 L499.1,493.1 L498.6,493.2 L498.0,493.2 L497.5,493.3 L496.9,493.3 L496.4,493.4 L495.9,493.5 L495.4,493.6 L494.9,493.6 L494.4,493.7 L493.9,493.8 L493.4,493.9 L492.9,494.0 L492.4,494.1 L492.0,494.2 L491.5,494.3 L491.1,494.4 L490.6,494.5 L490.2,494.6 L489.8,494.7 L489.4,494.8 L489.0,494.9 L488.6,495.0 L488.2,495.2 L487.9,495.3 L487.5,495.4 L487.2,495.5 L486.9,495.7 L486.6,495.8 L486.3,495.9 L486.0,496.1 L485.7,496.2 L485.5,496.4 L485.2,496.5 L485.0,496.6 L484.8,496.6 L484.6,496.6 L484.4,496.6 L484.3,496.6 L484.1,496.6 L484.0,496.6 L484.0,496.6 L480.9,496.6 L477.9,496.4 L475.0,495.7 L472.1,494.9 L469.3,494.0 L466.6,493.2 L463.9,492.2 L461.3,491.2 L458.8,490.1 L456.4,489.0 L454.1,487.9 L451.9,486.7 L449.7,485.4 L447.7,484.1 L445.8,482.8 L444.0,481.5 L442.4,480.0 L440.8,478.6 L439.4,477.1 L438.0,475.6 L436.8,474.1 L435.8,472.6 L434.8,471.0 L434.0,469.4 L433.4,467.8 L432.8,466.2 L432.4,464.6 L432.2,463.0 L432.0,461.3 L432.0,459.7 L432.2,458.0 L432.4,456.4 L432.8,454.8 L433.4,453.2 L434.0,451.6 L434.8,450.0 L435.8,448.4 L436.8,446.9 L438.0,445.4 L439.4,443.9 L440.8,442.4 L442.4,441.0 L444.0,439.5 L445.8,438.2 L447.7,436.9 L449.7,435.6 L451.9,434.3 L454.1,433.1 L456.4,432.0 L458.8,430.9 L461.3,429.8 L463.9,428.8 L466.6,427.8 L469.3,427.0 L472.1,426.1 L475.0,425.3 L477.9,424.6 L480.9,424.4 L484.0,424.4Z" fill="#CDEEF8"/>
<path d="M448.8,437.1 L449.3,437.2 L448.1,438.1 L447.3,438.8 L446.5,439.5 L446.5,439.9 L446.6,440.3 L446.7,440.7 L446.8,441.0 L446.9,441.3 L447.0,441.6 L447.5,441.4 L448.2,441.3 L448.8,441.3 L449.5,441.2 L449.8,441.4 L450.0,441.6 L450.3,441.8 L450.9,441.8 L451.4,441.8 L450.8,442.6 L450.2,443.4 L449.7,444.3 L449.2,445.2 L448.8,446.1 L448.8,446.6 L448.7,447.0 L448.4,447.8 L448.1,448.5 L448.0,449.1 L447.8,449.7 L447.9,450.4 L448.0,451.0 L448.0,451.6 L448.0,452.2 L447.9,452.8 L447.9,453.4 L448.1,454.3 L448.8,454.1 L449.6,453.9 L450.2,453.9 L450.8,453.8 L450.3,454.7 L449.8,455.5 L449.3,456.4 L448.9,457.1 L448.4,457.8 L448.0,458.4 L447.5,459.0 L446.9,459.6 L446.5,460.2 L446.1,460.8 L445.8,461.4 L445.6,462.0 L445.4,462.8 L445.2,463.5 L445.4,464.1 L445.6,464.7 L446.0,465.8 L446.4,466.8 L446.7,467.7 L447.1,468.6 L447.5,469.5 L447.3,470.1 L447.1,470.7 L446.9,471.3 L447.0,472.0 L447.0,472.6 L447.6,473.4 L448.2,474.1 L448.8,474.9 L448.7,475.4 L448.7,475.9 L449.3,476.9 L450.1,477.9 L450.3,478.5 L450.6,479.1 L450.9,479.7 L451.1,480.4 L451.3,481.0 L450.8,481.1 L450.4,481.2 L450.3,481.5 L450.1,481.9 L449.3,481.4 L448.4,481.0 L447.4,480.2 L446.5,479.5 L445.5,478.8 L444.7,478.2 L443.8,477.7 L443.0,476.9 L442.2,476.1 L441.5,475.3 L440.5,474.4 L439.6,473.5 L438.8,472.6 L438.0,471.7 L437.6,470.6 L437.2,469.5 L436.9,468.4 L436.5,467.4 L436.1,466.5 L435.7,465.5 L435.4,464.5 L435.1,463.8 L434.8,463.2 L434.3,462.2 L433.8,461.2 L433.9,460.2 L434.1,459.2 L434.0,458.5 L433.9,457.8 L433.6,457.6 L433.3,457.4 L433.0,456.9 L432.8,456.4 L432.4,456.3 L432.8,455.0 L433.2,453.7 L433.7,452.4 L434.3,451.1 L434.9,449.8 L435.7,448.6 L436.5,447.3 L437.5,446.1 L438.5,444.8 L439.6,443.6 L440.8,442.4 L442.0,441.3 L443.3,440.1 L444.7,439.0 L446.2,437.9 L447.8,436.8 L448.1,436.9 L448.5,437.0 L448.8,437.1Z M577.4,445.5 L577.0,444.8 L576.6,444.1 L576.2,443.4 L576.2,442.8 L576.2,442.3 L575.7,441.7 L575.1,440.9 L574.5,440.0 L573.9,439.2 L573.4,438.7 L572.8,438.1 L573.3,438.1 L573.7,438.0 L574.1,438.0 L574.1,437.6 L574.1,437.3 L574.0,436.9 L574.2,436.8 L575.8,437.9 L577.3,439.0 L578.7,440.1 L580.0,441.3 L581.2,442.4 L582.4,443.6 L583.5,444.8 L584.5,446.1 L585.5,447.3 L586.3,448.6 L587.1,449.8 L587.7,451.1 L588.3,452.4 L588.8,453.7 L589.2,455.0 L589.6,456.3 L589.2,456.3 L588.9,456.3 L588.4,456.6 L588.0,456.9 L587.6,457.1 L587.0,457.3 L586.4,457.4 L585.7,457.5 L585.2,457.1 L584.7,456.7 L584.2,456.3 L583.7,455.5 L583.1,454.7 L582.4,454.1 L581.7,453.5 L581.0,452.9 L580.8,452.0 L580.5,451.0 L580.0,450.1 L579.4,449.2 L578.7,448.3 L578.0,447.4 L577.7,446.5 L577.4,445.5Z M463.6,429.0 L464.1,429.1 L464.6,429.1 L465.9,428.6 L467.3,428.1 L468.4,427.9 L469.5,427.6 L468.0,428.1 L466.5,428.7 L465.9,429.1 L465.9,429.2 L465.9,429.3 L466.3,429.3 L466.8,429.4 L467.3,429.4 L467.9,429.3 L468.5,429.2 L470.1,428.6 L471.4,428.3 L472.8,428.0 L473.1,428.0 L473.4,428.1 L473.7,428.1 L473.6,428.0 L473.6,427.8 L473.6,427.6 L474.5,427.2 L475.7,426.8 L476.9,426.4 L477.7,426.3 L478.6,426.1 L479.4,426.0 L480.2,425.7 L479.9,425.7 L479.6,425.7 L478.4,425.9 L477.1,426.2 L475.8,426.4 L473.6,427.0 L472.8,427.4 L471.1,427.9 L469.4,428.3 L468.4,428.6 L468.1,428.5 L467.9,428.4 L469.3,427.8 L470.8,427.2 L470.2,427.3 L469.5,427.3 L469.7,427.1 L469.9,426.9 L471.3,426.5 L472.8,426.0 L474.1,425.8 L475.4,425.5 L476.5,425.4 L477.7,425.2 L478.8,425.1 L480.1,424.8 L481.4,424.6 L482.1,424.5 L482.7,424.4 L483.8,424.3 L484.8,424.2 L484.9,424.3 L485.1,424.4 L485.2,424.5 L485.4,424.6 L485.5,424.7 L485.6,424.7 L485.8,424.8 L485.3,425.0 L485.0,425.2 L484.7,425.4 L484.4,425.6 L484.2,425.8 L483.9,426.0 L482.2,426.5 L482.2,426.3 L482.2,426.2 L482.1,426.1 L481.0,426.4 L479.8,426.7 L479.7,426.9 L479.5,427.1 L480.7,426.8 L481.4,426.8 L482.1,426.7 L482.7,426.7 L484.0,426.3 L485.3,425.8 L485.5,425.9 L485.7,426.0 L485.8,426.1 L486.0,426.2 L486.3,426.3 L486.6,426.4 L486.9,426.4 L487.2,426.4 L487.9,426.3 L488.7,426.1 L488.7,426.2 L488.8,426.3 L488.8,426.5 L488.9,426.6 L489.0,426.7 L489.3,426.5 L489.6,426.3 L489.9,426.3 L490.1,426.4 L490.4,426.5 L490.6,426.5 L490.9,426.6 L491.2,426.7 L491.4,426.7 L491.6,426.8 L492.0,426.8 L492.3,426.9 L492.6,427.0 L492.9,427.0 L493.2,427.1 L493.5,427.1 L493.9,427.2 L494.2,427.2 L494.5,427.3 L494.9,427.4 L495.2,427.4 L495.5,427.5 L495.9,427.5 L496.2,427.6 L496.6,427.6 L496.9,427.7 L497.3,427.7 L497.7,427.7 L498.0,427.8 L498.4,427.8 L498.8,427.9 L499.1,427.9 L499.5,427.9 L499.9,428.0 L500.3,428.0 L500.6,428.0 L501.0,428.1 L501.4,428.1 L501.8,428.1 L502.2,428.2 L502.6,428.2 L503.0,428.2 L503.4,428.2 L503.7,428.3 L504.1,428.3 L504.5,428.3 L504.9,428.3 L505.3,428.3 L505.7,428.4 L506.1,428.4 L506.5,428.4 L506.9,428.4 L507.3,428.4 L507.8,428.4 L508.2,428.4 L508.5,428.5 L508.8,428.6 L509.1,428.6 L509.5,428.7 L509.8,428.8 L510.2,428.9 L510.5,429.1 L510.9,429.4 L511.2,429.7 L511.6,429.9 L511.9,430.1 L511.6,430.4 L511.2,430.7 L510.9,430.6 L510.5,430.5 L510.1,431.0 L509.7,431.5 L509.2,431.6 L508.8,431.7 L508.3,431.8 L507.9,432.0 L507.5,432.3 L507.1,432.5 L506.6,432.5 L506.2,432.6 L505.8,432.6 L505.4,432.6 L505.1,433.0 L504.8,433.4 L504.5,433.8 L504.2,434.2 L503.8,434.6 L503.3,435.0 L502.8,435.5 L502.3,435.9 L501.7,436.3 L501.9,435.7 L502.1,435.0 L502.3,434.4 L502.6,433.7 L503.2,433.1 L503.7,432.4 L504.3,431.8 L503.7,432.1 L503.1,432.4 L502.5,432.7 L501.9,432.7 L501.3,432.7 L500.8,432.6 L500.3,432.6 L499.9,432.7 L499.5,432.7 L499.0,432.7 L498.3,433.1 L497.5,433.6 L496.7,434.0 L495.9,434.5 L496.2,434.6 L496.5,434.8 L496.7,435.2 L496.8,435.7 L496.3,436.4 L495.7,437.2 L495.0,437.8 L494.3,438.3 L493.4,438.9 L492.6,439.4 L491.9,439.5 L491.3,439.6 L490.9,439.7 L490.4,439.9 L489.6,440.6 L488.8,441.4 L488.7,442.1 L488.6,442.8 L487.9,443.1 L487.1,443.5 L487.4,442.9 L487.6,442.3 L487.7,441.7 L487.8,441.1 L487.1,441.2 L486.5,441.2 L486.8,440.4 L485.9,440.7 L485.0,441.1 L484.9,441.6 L484.8,442.1 L485.5,442.2 L486.2,442.2 L485.3,442.6 L484.5,443.1 L484.4,443.7 L484.4,444.3 L484.4,444.9 L484.3,445.5 L483.8,446.1 L483.3,446.7 L482.8,447.2 L482.1,447.7 L481.5,448.2 L480.9,448.6 L480.2,448.8 L479.6,449.0 L478.9,449.2 L478.2,449.4 L477.5,449.6 L477.0,449.6 L476.6,449.5 L476.1,450.0 L475.6,450.5 L475.7,451.2 L475.9,451.9 L476.0,452.6 L475.9,453.2 L475.8,453.9 L475.7,454.6 L475.0,455.2 L474.3,455.9 L473.6,455.9 L473.3,455.5 L472.9,455.1 L472.5,454.5 L472.2,454.0 L471.8,453.5 L471.4,454.5 L471.0,455.5 L471.2,456.2 L471.4,456.9 L471.8,457.4 L472.2,457.9 L472.6,458.4 L472.8,459.1 L472.9,459.8 L472.3,459.7 L471.8,459.1 L471.3,458.5 L471.0,457.8 L470.8,457.1 L470.6,456.3 L470.7,455.6 L470.8,454.9 L470.9,454.2 L471.0,453.5 L471.0,452.7 L471.1,452.0 L470.6,452.1 L470.0,452.2 L470.0,451.5 L470.1,450.8 L469.9,450.2 L469.7,449.6 L469.8,448.7 L469.2,448.8 L468.6,449.0 L468.1,449.2 L467.5,449.4 L467.0,449.7 L466.4,450.1 L465.5,450.7 L464.6,451.4 L463.7,452.0 L463.3,453.0 L462.9,454.0 L462.4,454.7 L461.8,455.4 L461.3,456.1 L461.0,455.3 L460.9,454.5 L460.8,453.7 L460.8,452.8 L460.7,452.0 L461.0,451.1 L461.2,450.1 L461.5,449.5 L461.8,448.9 L461.4,448.5 L461.1,448.2 L460.9,447.6 L460.8,447.1 L460.7,446.6 L460.0,446.5 L459.4,446.5 L458.7,446.5 L458.2,446.3 L457.8,446.1 L457.3,446.0 L457.5,445.3 L456.9,445.1 L456.3,444.9 L456.4,444.2 L456.6,443.4 L455.9,443.3 L455.6,444.0 L455.3,444.7 L455.1,445.3 L454.9,445.9 L454.7,446.5 L455.1,446.6 L455.5,446.7 L456.2,446.3 L456.9,445.8 L456.5,446.8 L456.8,447.3 L457.1,447.9 L456.5,448.5 L455.8,449.1 L455.2,449.7 L454.4,450.3 L453.6,450.8 L452.9,451.0 L452.2,451.3 L451.5,451.6 L450.8,452.0 L450.1,452.3 L449.5,452.5 L448.8,452.7 L448.1,453.0 L448.2,452.3 L448.3,451.6 L448.5,450.7 L448.8,449.8 L449.0,448.9 L449.1,448.2 L449.1,447.5 L449.4,446.8 L449.6,446.1 L449.9,445.4 L450.2,444.6 L450.5,443.8 L450.4,443.8 L450.5,443.3 L450.7,442.8 L451.4,442.4 L452.1,441.9 L453.0,441.3 L453.9,440.7 L454.6,440.1 L455.4,439.5 L455.3,439.3 L455.2,439.1 L454.7,439.0 L454.2,438.9 L454.0,438.8 L453.7,438.6 L454.4,437.9 L455.1,437.2 L456.0,436.6 L456.6,436.5 L457.2,436.4 L457.5,436.4 L457.7,436.5 L458.5,436.4 L459.3,436.4 L459.4,436.6 L459.5,436.9 L459.7,437.1 L460.2,437.1 L460.7,437.0 L461.2,436.5 L461.7,435.9 L461.9,435.6 L462.0,435.2 L461.8,435.0 L461.6,434.9 L460.9,435.0 L461.4,434.5 L462.2,433.8 L460.9,434.3 L459.3,435.0 L458.4,435.4 L457.6,435.9 L456.9,436.0 L456.3,436.1 L455.6,436.2 L454.7,436.8 L453.7,437.4 L452.9,437.8 L452.0,438.2 L453.0,437.2 L454.2,436.3 L455.4,435.3 L455.8,434.9 L456.2,434.4 L456.6,433.9 L457.0,433.5 L457.5,433.1 L456.9,433.1 L455.8,433.8 L455.0,434.5 L454.2,435.3 L454.0,435.7 L453.9,436.1 L452.9,436.5 L452.0,436.9 L451.6,437.0 L453.0,436.0 L453.2,435.6 L453.5,435.2 L453.7,434.8 L454.3,434.4 L454.8,433.9 L455.4,433.3 L454.6,433.5 L453.8,433.7 L453.6,433.6 L453.5,433.4 L455.0,432.6 L456.6,431.8 L458.3,431.1 L460.0,430.3 L461.7,429.6 L463.6,429.0Z M569.5,436.7 L568.4,436.0 L567.2,435.3 L566.1,434.6 L565.8,434.2 L566.2,434.1 L566.6,434.1 L567.0,434.0 L567.4,433.9 L566.2,433.2 L565.0,432.5 L563.7,432.2 L562.5,431.8 L562.3,431.5 L562.2,431.2 L561.7,430.8 L561.2,430.4 L560.8,430.0 L560.3,429.6 L562.0,430.3 L563.7,431.1 L565.4,431.8 L567.0,432.6 L568.5,433.4 L568.4,433.5 L569.6,434.1 L569.9,434.6 L570.1,435.0 L571.3,435.9 L571.8,436.1 L572.4,436.7 L572.9,437.3 L572.8,437.7 L572.7,438.0 L572.0,437.8 L571.3,437.5 L571.1,437.6 L570.9,437.8 L570.2,437.2 L569.5,436.7Z M513.2,429.0 L513.4,428.7 L513.6,428.4 L514.0,428.4 L514.5,428.4 L514.9,428.4 L515.3,428.4 L515.7,428.4 L516.1,428.4 L516.5,428.3 L516.9,428.3 L517.3,428.3 L517.7,428.3 L518.0,428.4 L518.4,428.5 L518.8,428.5 L519.2,428.6 L519.4,428.5 L519.7,428.4 L520.0,428.3 L520.2,428.1 L520.6,428.1 L521.0,428.1 L521.4,428.0 L521.8,428.1 L522.3,428.2 L522.8,428.3 L523.3,428.4 L523.8,428.5 L524.2,428.5 L524.6,428.5 L525.0,428.5 L525.5,428.5 L525.8,428.5 L526.2,428.4 L526.6,428.4 L527.0,428.3 L527.4,428.3 L527.2,428.0 L527.0,427.7 L526.8,427.4 L527.1,427.4 L527.5,427.3 L527.8,427.2 L528.2,427.3 L528.5,427.3 L528.8,427.3 L529.2,427.3 L530.3,427.8 L531.4,428.4 L531.4,428.6 L531.4,428.7 L531.4,428.9 L532.2,429.5 L532.3,429.8 L532.3,430.2 L532.4,430.5 L533.0,431.1 L533.5,431.8 L534.4,432.2 L535.3,432.6 L536.0,432.7 L536.7,432.8 L537.4,432.9 L538.1,433.0 L539.2,433.5 L540.3,433.9 L541.1,434.2 L541.8,434.5 L541.0,433.8 L540.2,433.2 L539.5,432.5 L538.8,431.8 L537.5,431.1 L536.2,430.4 L536.3,430.2 L536.4,430.0 L536.5,429.8 L537.1,429.9 L537.6,430.0 L538.1,430.1 L538.8,430.5 L539.4,430.9 L539.5,430.7 L539.6,430.5 L539.7,430.3 L541.0,430.7 L542.3,431.2 L543.5,431.7 L544.8,432.1 L545.7,432.4 L546.6,432.8 L547.5,433.1 L547.8,433.5 L548.1,433.9 L548.3,434.3 L547.8,434.4 L547.3,434.5 L546.8,434.6 L546.8,434.8 L546.7,435.0 L547.5,435.2 L548.2,435.5 L548.7,436.0 L549.3,435.9 L549.9,435.8 L550.9,436.3 L550.7,436.5 L550.4,436.7 L550.2,436.9 L550.0,437.0 L549.7,437.2 L549.4,437.4 L549.3,437.6 L549.2,437.8 L549.9,438.6 L549.7,439.0 L549.4,439.4 L549.7,440.0 L550.0,440.7 L550.5,441.3 L550.9,441.9 L550.9,442.3 L550.8,442.7 L550.6,443.3 L550.5,443.9 L551.1,444.7 L551.8,445.5 L552.4,446.3 L552.7,447.2 L551.8,446.6 L551.3,446.0 L550.7,445.4 L550.1,445.2 L549.6,445.0 L548.9,445.0 L548.3,445.0 L547.6,444.9 L547.4,445.2 L547.1,445.4 L546.6,445.4 L546.0,445.3 L545.7,445.8 L545.3,446.3 L545.6,447.3 L545.8,448.2 L546.2,448.8 L546.5,449.4 L547.2,450.1 L547.8,450.8 L548.6,450.9 L549.4,450.9 L549.5,450.2 L549.6,449.6 L550.3,449.4 L550.9,449.3 L551.0,450.1 L551.1,450.8 L551.3,451.5 L551.4,452.1 L552.1,452.1 L552.7,452.2 L553.3,452.2 L553.8,452.8 L554.0,453.8 L554.1,454.7 L554.8,455.5 L555.5,455.4 L556.2,455.4 L556.6,455.7 L557.1,455.9 L557.1,456.6 L556.8,456.2 L556.4,455.7 L556.2,456.2 L555.9,456.7 L555.4,456.4 L555.0,456.2 L554.2,455.7 L553.4,455.2 L552.8,454.5 L552.2,453.8 L551.6,453.6 L551.0,453.4 L550.3,453.2 L549.5,452.7 L548.7,452.2 L548.2,452.3 L547.6,452.4 L546.9,452.1 L546.1,451.8 L545.4,451.5 L544.6,451.2 L543.9,450.6 L543.1,450.1 L543.0,449.5 L542.8,448.8 L542.0,448.3 L541.2,447.8 L540.4,447.1 L539.7,446.4 L538.9,445.7 L538.1,445.0 L537.6,444.9 L537.0,444.8 L537.6,445.4 L538.2,445.9 L538.7,446.5 L539.4,447.3 L540.1,448.1 L540.8,448.9 L540.1,448.4 L539.5,447.9 L538.8,447.2 L538.1,446.5 L537.4,445.8 L536.6,445.1 L535.8,444.4 L535.0,443.7 L534.5,443.6 L534.0,443.4 L533.3,442.8 L532.6,442.1 L532.0,441.5 L531.3,440.8 L530.9,440.2 L530.5,439.6 L530.2,438.9 L529.9,438.2 L529.4,437.7 L529.0,437.1 L529.4,436.8 L528.7,436.6 L528.1,436.3 L527.4,436.0 L526.8,435.5 L526.1,435.0 L525.5,434.5 L524.9,434.1 L524.3,433.7 L523.7,433.3 L523.2,433.1 L522.7,432.9 L522.1,432.7 L521.7,432.6 L521.2,432.5 L520.8,432.4 L520.2,432.2 L519.7,432.1 L519.2,432.0 L518.6,432.0 L518.1,432.0 L518.0,432.5 L517.9,432.9 L517.7,433.2 L517.6,433.5 L517.2,433.7 L516.8,433.9 L516.5,434.0 L516.1,434.2 L515.8,434.4 L515.4,434.7 L515.0,434.8 L514.7,434.9 L514.9,434.4 L515.2,433.9 L515.4,433.4 L515.8,433.3 L516.2,433.2 L516.5,433.1 L516.0,433.0 L515.5,432.9 L515.0,432.7 L514.5,432.4 L514.0,432.1 L513.9,431.4 L514.2,431.1 L514.4,430.9 L514.7,430.7 L514.3,430.6 L513.9,430.6 L513.5,430.6 L513.2,430.5 L512.9,430.3 L513.1,429.7 L513.2,429.0Z M557.7,455.4 L557.9,454.6 L558.5,454.3 L559.1,454.0 L559.6,454.8 L560.3,454.8 L561.0,454.7 L561.9,454.7 L562.7,454.7 L563.4,454.7 L564.0,454.7 L564.6,455.4 L565.1,456.0 L565.7,456.6 L566.2,457.1 L566.8,457.2 L567.3,457.3 L567.9,457.4 L568.4,457.8 L568.8,458.2 L569.1,458.8 L569.3,459.5 L569.6,460.0 L569.8,460.5 L570.4,460.8 L571.0,461.2 L571.6,461.5 L572.2,461.7 L572.8,461.9 L573.4,462.1 L574.0,462.7 L574.5,463.3 L574.8,463.7 L575.2,464.1 L575.0,465.0 L574.8,465.9 L574.2,466.6 L573.6,467.3 L572.9,468.0 L572.3,468.7 L571.8,469.7 L571.3,470.7 L570.6,471.6 L569.8,472.4 L569.1,473.1 L568.4,473.7 L567.7,473.9 L567.0,474.1 L566.3,474.4 L565.6,474.8 L564.9,475.1 L564.3,475.8 L563.8,476.5 L562.8,477.1 L561.8,477.7 L560.9,478.4 L559.9,479.0 L559.2,479.3 L558.5,479.6 L558.1,479.6 L557.7,479.5 L557.0,480.4 L556.4,480.8 L555.7,481.3 L555.2,481.3 L554.7,481.3 L554.2,481.3 L553.6,481.8 L553.0,482.3 L552.6,482.2 L552.1,482.2 L551.5,482.9 L550.6,483.5 L549.7,484.1 L549.1,484.3 L548.4,484.6 L548.2,485.0 L548.0,485.4 L546.9,485.9 L545.8,486.4 L545.1,486.8 L544.4,487.3 L543.8,487.9 L543.2,488.6 L542.7,488.5 L542.2,488.4 L542.4,488.0 L542.5,487.6 L542.7,487.2 L543.4,486.6 L544.1,485.9 L544.7,485.3 L545.7,484.6 L546.7,483.9 L547.6,483.3 L548.4,482.6 L549.1,482.0 L549.8,481.4 L550.5,480.6 L551.2,479.9 L552.1,479.1 L553.1,478.3 L554.0,477.5 L554.7,476.5 L555.4,475.4 L556.0,474.8 L556.6,474.1 L557.1,473.4 L557.7,472.4 L558.2,471.5 L558.7,470.5 L558.4,470.1 L558.2,469.7 L557.8,469.2 L557.4,468.7 L557.0,468.2 L556.9,467.5 L556.8,466.8 L556.7,466.1 L556.5,465.2 L556.3,464.2 L556.0,463.8 L555.7,463.4 L556.0,462.9 L556.2,462.4 L556.2,461.7 L556.2,461.0 L556.3,460.5 L556.4,460.0 L557.0,459.5 L557.2,459.1 L557.5,458.6 L557.5,458.0 L557.5,457.3 L557.3,456.6 L557.1,455.9 L557.7,455.4Z M480.4,471.0 L481.0,470.7 L481.5,470.5 L482.0,470.3 L482.2,469.8 L482.4,469.3 L482.9,468.7 L483.3,468.0 L483.8,467.8 L484.4,467.5 L484.9,467.8 L485.4,468.0 L485.4,467.4 L485.4,466.8 L486.1,466.5 L486.7,466.2 L487.6,466.4 L488.5,466.6 L488.5,467.3 L488.4,468.0 L489.2,468.4 L489.9,468.9 L490.7,469.1 L491.0,468.4 L490.9,467.7 L490.8,466.9 L491.0,466.4 L491.1,465.8 L491.5,466.5 L491.8,467.2 L492.3,467.5 L492.8,467.9 L493.0,468.5 L493.2,469.2 L493.4,469.8 L494.1,470.2 L494.8,470.6 L495.3,471.0 L495.7,471.5 L496.4,472.1 L497.0,472.7 L497.3,473.4 L497.5,474.1 L497.6,474.8 L497.6,475.6 L497.4,476.0 L497.2,476.5 L497.1,477.1 L497.0,477.7 L497.0,478.2 L497.0,478.6 L496.5,479.0 L496.0,479.4 L495.5,479.3 L494.9,479.2 L494.3,479.1 L493.6,479.0 L493.1,478.5 L492.7,478.1 L492.2,478.0 L491.8,477.8 L491.6,477.3 L491.5,476.7 L491.3,477.1 L491.1,477.5 L490.5,477.1 L489.9,476.6 L489.1,476.3 L488.4,476.0 L487.9,476.2 L487.4,476.3 L486.9,476.5 L486.3,476.7 L485.8,476.9 L485.3,477.1 L484.8,477.4 L484.3,477.7 L483.9,477.9 L483.1,477.7 L482.4,477.5 L481.9,476.6 L481.4,475.6 L480.9,474.9 L480.4,474.3 L479.9,473.6 L479.7,473.0 L479.5,472.3 L479.3,471.7 L479.9,471.3 L480.4,471.0Z M536.4,424.7 L536.5,424.9 L536.7,425.0 L536.9,425.2 L537.2,425.4 L537.4,425.6 L537.6,425.8 L538.2,426.2 L538.8,426.5 L539.3,426.8 L539.5,427.0 L539.7,427.3 L541.1,427.8 L542.4,428.4 L543.2,428.9 L543.9,429.3 L543.3,429.3 L542.8,429.2 L542.3,429.1 L541.6,429.0 L541.0,428.8 L539.8,428.4 L538.6,428.0 L537.4,427.6 L536.1,427.2 L534.8,426.8 L533.8,426.5 L532.8,426.2 L533.0,426.1 L533.3,426.0 L533.5,425.9 L533.7,425.9 L534.0,425.8 L534.2,425.7 L534.4,425.6 L534.6,425.5 L534.9,425.4 L535.1,425.4 L535.3,425.3 L535.5,425.2 L535.7,425.1 L535.8,425.0 L536.0,424.9 L536.2,424.8 L536.4,424.7Z M485.5,495.5 L485.2,495.3 L485.1,495.1 L484.9,494.9 L484.7,494.7 L484.6,494.4 L484.5,494.2 L484.3,494.0 L484.2,493.8 L484.8,493.8 L485.3,493.8 L485.8,493.8 L486.3,493.8 L486.8,493.8 L487.4,493.8 L487.9,493.9 L488.4,493.9 L489.1,494.0 L489.8,494.1 L490.5,494.2 L490.4,494.0 L490.3,493.8 L490.2,493.6 L490.2,493.4 L490.2,493.1 L490.2,492.9 L490.2,492.7 L490.4,492.6 L490.6,492.5 L490.9,492.4 L491.1,492.2 L491.3,492.1 L491.6,492.0 L491.8,491.9 L492.3,491.9 L492.8,491.9 L493.2,491.9 L493.7,491.9 L494.1,491.9 L494.6,491.9 L495.1,491.9 L495.5,491.9 L495.9,491.9 L496.2,491.8 L496.6,491.7 L497.0,491.7 L497.4,491.6 L497.7,491.5 L498.1,491.5 L498.5,491.4 L498.9,491.4 L499.3,491.4 L499.7,491.4 L500.1,491.4 L500.5,491.4 L500.9,491.5 L501.4,491.6 L501.9,491.7 L502.3,491.8 L502.8,491.9 L503.3,492.0 L503.7,492.1 L504.1,492.2 L504.5,492.2 L504.9,492.2 L505.3,492.3 L505.7,492.3 L506.1,492.4 L506.4,492.4 L506.8,492.5 L507.1,492.6 L506.7,492.6 L506.3,492.6 L505.9,492.6 L505.5,492.7 L505.1,492.7 L504.7,492.7 L504.3,492.7 L503.9,492.7 L503.6,492.8 L503.2,492.8 L502.8,492.8 L502.4,492.8 L502.0,492.9 L501.6,492.9 L501.2,492.9 L500.8,492.9 L500.5,493.0 L500.1,493.0 L499.7,493.0 L499.3,493.1 L498.9,493.1 L498.6,493.2 L498.2,493.2 L497.8,493.2 L497.5,493.3 L497.1,493.3 L496.8,493.4 L496.4,493.4 L496.1,493.5 L495.7,493.5 L495.4,493.6 L495.0,493.6 L494.7,493.7 L494.4,493.7 L494.0,493.8 L493.7,493.8 L493.4,493.9 L493.0,494.0 L492.7,494.0 L492.4,494.1 L492.1,494.1 L491.8,494.2 L491.5,494.3 L491.2,494.3 L490.9,494.4 L490.6,494.5 L490.3,494.5 L490.1,494.6 L489.8,494.7 L489.5,494.8 L489.2,494.8 L489.0,494.9 L488.7,495.0 L488.5,495.1 L488.2,495.2 L488.0,495.2 L487.8,495.3 L487.5,495.4 L487.3,495.5 L487.1,495.6 L486.9,495.7 L486.7,495.8 L486.5,495.8 L486.3,495.9 L486.1,496.0 L485.9,496.1 L485.7,496.2 L485.5,496.3 L485.4,496.4 L485.2,496.5 L485.2,496.4 L485.2,496.3 L485.2,496.1 L485.3,496.0 L485.3,495.9 L485.3,495.7 L485.4,495.6 L485.5,495.5Z M534.3,493.2 L535.1,493.0 L535.9,492.8 L536.7,492.6 L537.3,492.5 L537.8,492.5 L538.4,492.4 L537.2,492.8 L536.0,493.2 L534.8,493.6 L533.4,494.1 L531.9,494.6 L531.6,494.5 L531.4,494.5 L531.2,494.4 L530.9,494.4 L532.1,494.0 L533.2,493.6 L534.3,493.2Z M488.1,444.2 L488.9,443.6 L489.5,443.4 L490.0,443.1 L490.6,443.0 L491.3,442.9 L491.9,442.4 L492.6,442.1 L493.3,441.8 L493.5,441.3 L493.8,440.9 L494.5,440.5 L494.4,441.2 L494.0,441.6 L493.7,442.0 L493.4,442.5 L493.2,443.1 L492.3,443.4 L491.7,443.6 L491.1,443.8 L490.7,443.7 L490.4,443.6 L489.8,443.8 L489.2,444.0 L488.9,444.5 L488.6,445.0 L487.9,445.2 L488.0,444.7 L488.1,444.2Z M494.2,439.9 L495.0,439.5 L495.3,439.0 L495.6,438.6 L496.0,438.8 L496.5,439.1 L496.4,439.6 L495.9,439.9 L495.4,440.2 L495.1,440.1 L494.7,440.0 L494.0,440.4 L494.2,439.9Z M497.0,435.7 L497.4,435.2 L497.8,434.7 L497.6,435.2 L497.4,435.7 L497.3,436.4 L497.2,437.1 L496.9,437.0 L496.3,437.7 L495.7,438.4 L496.0,437.7 L496.3,437.0 L496.7,436.4 L497.0,435.7Z M559.3,430.2 L558.4,430.1 L557.8,429.8 L557.2,429.4 L555.7,428.8 L555.4,428.8 L555.2,428.8 L553.3,428.3 L552.3,427.9 L551.2,427.5 L551.4,427.3 L552.8,427.6 L554.0,428.0 L555.1,428.4 L556.4,428.7 L557.6,429.1 L558.6,429.3 L560.1,429.9 L560.2,430.2 L560.2,430.5 L560.3,430.7 L560.3,431.0 L559.8,430.6 L559.3,430.2Z M555.5,429.6 L554.5,429.0 L554.7,428.9 L554.9,428.8 L556.1,429.3 L558.0,430.1 L557.9,430.3 L557.8,430.4 L557.8,430.6 L556.6,430.1 L555.5,429.6Z M541.3,426.2 L540.6,425.9 L540.8,425.8 L541.0,425.7 L541.2,425.7 L541.4,425.6 L541.7,425.5 L543.5,426.0 L543.8,426.2 L544.1,426.4 L544.3,426.6 L544.0,426.6 L543.7,426.7 L543.4,426.7 L543.2,426.7 L543.0,426.7 L541.3,426.2Z M450.7,473.1 L450.2,472.2 L449.7,471.2 L449.3,470.2 L449.7,469.6 L450.1,469.0 L450.1,468.2 L450.2,467.5 L450.8,468.5 L451.4,469.5 L451.5,470.4 L451.7,471.3 L452.1,472.2 L452.4,473.1 L452.8,474.1 L453.3,475.0 L452.7,475.0 L452.2,475.1 L451.4,474.1 L450.7,473.1Z M462.3,456.2 L462.7,455.2 L462.9,455.9 L463.1,456.6 L462.5,457.3 L462.2,457.0 L462.3,456.2Z M470.0,457.8 L470.5,458.5 L471.0,459.2 L471.6,459.9 L472.2,460.6 L472.8,461.3 L473.3,461.8 L473.8,462.3 L473.8,462.9 L473.8,463.5 L473.2,463.5 L472.6,463.0 L471.9,462.6 L471.6,461.8 L471.2,461.0 L470.7,460.3 L470.3,459.6 L469.8,458.9 L469.4,458.3 L469.0,457.6 L469.5,457.7 L470.0,457.8Z M474.1,463.6 L474.6,463.8 L475.1,463.9 L475.6,463.9 L476.2,463.8 L477.0,464.1 L477.9,464.5 L477.9,464.9 L477.1,464.8 L476.3,464.7 L475.6,464.6 L474.9,464.5 L474.2,464.3 L473.5,464.0 L474.1,463.6Z M480.0,464.9 L480.7,464.9 L481.4,464.8 L482.2,464.8 L482.9,464.7 L483.7,464.7 L483.1,465.2 L482.4,465.6 L481.6,465.5 L480.9,465.4 L480.1,465.3 L479.4,465.2 L478.8,465.0 L478.2,464.8 L478.8,464.9 L479.4,464.9 L480.0,464.9Z M475.8,459.7 L476.3,459.1 L477.0,458.9 L477.6,458.4 L478.2,457.8 L478.6,457.4 L479.0,457.0 L479.4,457.4 L479.8,457.9 L479.3,458.3 L479.5,459.2 L479.6,460.0 L479.0,460.2 L478.8,461.0 L478.6,461.8 L478.4,462.4 L477.7,462.3 L477.0,462.1 L476.5,462.1 L476.1,462.0 L475.6,461.4 L475.3,461.0 L475.1,460.5 L475.1,459.6 L475.8,459.7Z M480.5,461.8 L480.6,460.9 L480.7,460.0 L481.3,459.9 L481.9,459.8 L482.6,459.7 L482.0,460.2 L481.5,460.6 L480.9,461.0 L481.3,461.8 L481.7,462.5 L481.2,463.0 L480.5,463.3 L480.1,463.3 L480.3,462.5 L480.5,461.8Z M486.8,461.0 L487.5,461.1 L488.3,461.2 L488.9,461.4 L489.5,461.6 L490.2,461.7 L490.8,462.1 L491.5,462.4 L492.1,462.7 L492.7,463.1 L493.4,463.6 L493.2,464.4 L493.9,465.1 L494.7,465.7 L494.0,465.5 L493.2,465.4 L492.5,464.9 L491.7,464.5 L491.0,464.7 L490.4,465.0 L489.6,464.8 L488.9,464.6 L488.7,463.9 L488.6,463.2 L488.0,463.0 L487.3,462.7 L486.6,462.3 L485.9,462.0 L485.4,461.1 L486.1,461.1 L486.8,461.0Z M482.5,451.2 L482.3,451.8 L482.0,452.4 L482.3,453.2 L482.7,454.0 L483.0,454.5 L483.4,455.0 L483.4,455.8 L483.4,456.7 L482.9,457.6 L482.2,457.2 L481.8,457.1 L481.3,457.0 L481.7,456.2 L482.2,455.5 L481.9,454.9 L481.6,454.3 L481.3,453.7 L481.2,452.9 L481.3,452.0 L481.4,451.2 L482.0,451.2 L482.5,451.2Z M483.2,447.8 L483.3,448.0 L482.9,448.7 L482.4,449.4 L482.2,448.9 L482.7,448.4 L483.2,447.8Z M477.0,450.3 L477.6,450.4 L477.2,451.2 L476.5,450.8 L477.0,450.3Z M507.1,477.8 L507.4,478.1 L507.7,478.5 L508.2,478.5 L508.8,478.6 L508.5,479.0 L508.2,479.4 L508.0,479.8 L507.9,480.2 L507.4,480.2 L507.2,479.8 L506.9,479.3 L507.1,478.5 L506.7,477.8 L506.2,477.1 L506.7,477.4 L507.1,477.8Z M507.1,480.3 L506.9,480.8 L506.7,481.2 L506.5,481.7 L506.2,482.1 L505.9,482.4 L505.5,482.6 L505.1,482.5 L504.6,482.4 L504.8,481.9 L505.0,481.5 L505.4,481.0 L506.0,480.5 L506.3,480.2 L506.6,479.9 L507.1,480.3Z M497.0,480.2 L497.2,480.8 L497.3,481.3 L496.9,481.5 L496.5,481.2 L496.1,480.9 L495.6,480.2 L496.3,480.2 L497.0,480.2Z M552.7,448.4 L553.4,448.5 L554.2,448.7 L555.0,448.8 L555.8,449.2 L556.6,449.7 L556.0,449.8 L555.3,449.9 L554.4,449.5 L553.5,449.2 L552.9,449.1 L552.3,449.1 L551.7,449.1 L552.2,448.7 L552.7,448.4Z M557.6,449.8 L558.4,450.1 L559.3,450.4 L558.9,450.6 L558.4,450.8 L557.7,450.7 L556.9,450.6 L557.3,450.2 L557.6,449.8Z M548.2,433.5 L549.0,433.9 L549.7,434.4 L550.8,434.8 L551.8,435.2 L551.7,435.4 L551.6,435.7 L550.8,435.6 L550.0,435.4 L549.4,434.8 L548.8,434.1 L548.2,433.5Z M533.5,428.8 L532.9,428.3 L532.3,427.9 L531.9,427.5 L531.3,427.1 L531.8,427.1 L532.3,427.2 L532.8,427.2 L533.5,427.4 L534.2,427.5 L534.9,427.7 L535.8,428.1 L536.7,428.6 L537.5,429.1 L537.2,429.2 L537.0,429.3 L536.7,429.3 L536.0,429.2 L535.2,429.0 L534.4,428.9 L534.3,429.0 L534.2,429.2 L534.1,429.3 L534.0,429.5 L533.7,429.1 L533.5,428.8Z M522.5,427.9 L522.8,427.9 L523.2,427.9 L523.5,427.8 L523.9,427.8 L524.2,427.8 L524.6,427.7 L524.9,427.7 L525.3,427.6 L525.6,427.6 L525.6,427.7 L525.5,427.9 L525.5,428.1 L525.1,428.1 L524.8,428.1 L524.4,428.2 L524.1,428.2 L523.7,428.3 L523.3,428.3 L523.0,428.3 L522.5,427.9Z M452.1,435.0 L453.7,434.2 L454.3,434.0 L453.4,434.5 L452.5,435.1 L451.0,436.0 L450.6,436.0 L452.1,435.0Z M451.6,437.0 L450.3,437.8 L450.4,437.3 L450.6,436.9 L451.1,436.9 L451.6,437.0Z M452.2,439.3 L451.6,439.4 L451.4,439.1 L451.8,439.2 L452.2,439.3Z M520.5,450.7 L520.8,451.0 L520.3,451.2 L520.5,450.7Z M508.4,468.9 L508.3,469.3 L507.9,469.0 L508.4,468.9Z M503.2,471.3 L503.0,471.4 L502.3,470.9 L501.7,470.4 L502.5,470.9 L503.2,471.3Z M499.4,464.7 L499.8,465.0 L500.2,465.4 L499.6,465.2 L499.0,464.9 L498.2,464.4 L497.5,463.8 L498.1,464.1 L498.8,464.4 L499.4,464.7Z M495.5,462.6 L495.3,463.2 L494.5,463.3 L493.8,463.5 L493.8,463.2 L494.7,462.9 L495.5,462.6Z M547.9,487.3 L547.2,487.6 L547.1,487.4 L546.9,487.3 L547.4,487.3 L547.9,487.3Z M488.4,425.9 L487.5,426.1 L486.6,426.3 L487.2,426.0 L487.9,425.7 L488.1,425.8 L488.4,425.9Z" fill="#F7CDCD" stroke="#2A1010" stroke-width="0.85" fill-rule="nonzero"/>
<path d="M466.3,435.0 L466.7,435.0 L467.1,435.1 L467.6,435.1 L466.3,435.9 L465.5,436.1 L464.6,436.7 L463.7,437.3 L463.7,437.6 L463.7,437.9 L462.9,438.7 L462.1,439.4 L461.2,439.9 L460.9,439.7 L460.5,439.6 L460.7,439.1 L461.6,438.5 L462.4,438.0 L462.8,437.4 L463.0,437.0 L463.3,436.6 L464.7,435.6 L465.5,435.3 L466.3,435.0Z M459.4,435.0 L460.4,434.3 L461.2,434.1 L462.0,433.9 L462.0,434.1 L462.1,434.3 L461.8,434.8 L462.2,434.8 L462.6,434.8 L461.6,435.6 L461.3,436.0 L461.0,436.5 L460.8,437.0 L460.4,436.8 L460.0,436.7 L459.7,436.5 L459.3,436.4 L458.8,436.4 L458.2,436.5 L457.7,436.5 L457.6,436.2 L457.4,435.9 L458.4,435.4 L459.4,435.0Z M541.9,436.1 L542.4,436.5 L543.0,437.0 L542.7,437.1 L542.5,437.3 L541.8,436.8 L541.2,436.4 L541.5,436.2 L541.9,436.1Z M543.4,437.7 L543.9,438.4 L544.3,439.1 L543.6,438.5 L542.9,437.9 L542.1,437.3 L542.8,437.5 L543.4,437.7Z M545.3,437.6 L545.4,438.0 L545.5,438.5 L544.7,437.9 L543.8,437.2 L544.6,437.4 L545.3,437.6Z M527.4,430.8 L527.5,431.1 L527.6,431.5 L527.2,431.4 L526.8,431.4 L526.4,431.3 L526.6,431.2 L526.9,431.1 L527.1,430.9 L527.4,430.8Z M523.9,429.1 L524.2,429.5 L524.4,430.0 L523.9,429.8 L523.3,429.7 L522.8,429.6 L523.1,429.5 L523.4,429.4 L523.7,429.2 L523.9,429.1Z M443.0,461.1 L443.1,462.3 L442.6,462.2 L442.2,462.0 L442.0,461.1 L442.5,461.1 L443.0,461.1Z M469.2,435.9 L468.4,436.3 L467.6,436.8 L467.5,436.6 L467.4,436.4 L468.1,435.7 L468.6,435.8 L469.2,435.9Z M523.7,429.1 L524.6,429.7 L524.2,429.7 L523.9,429.8 L523.5,429.8 L522.8,429.4 L523.1,429.3 L523.4,429.2 L523.7,429.1Z M527.9,430.8 L528.3,431.4 L527.8,431.3 L527.4,431.3 L526.9,431.2 L526.4,431.1 L526.8,431.0 L527.1,430.9 L527.5,430.8 L527.9,430.8Z M535.9,434.2 L536.5,434.9 L537.2,435.5 L536.4,435.0 L535.7,434.5 L534.9,434.1 L535.4,434.1 L535.9,434.2Z M530.2,432.0 L530.1,432.2 L530.0,432.4 L529.4,432.2 L528.8,432.0 L529.2,432.0 L529.7,432.0 L530.2,432.0Z M488.7,433.5 L487.9,434.0 L487.2,434.5 L486.5,434.6 L485.9,434.7 L485.2,434.8 L486.1,434.5 L487.0,434.2 L487.8,433.8 L488.7,433.5Z M474.8,436.4 L473.9,436.7 L473.0,437.0 L473.0,436.6 L473.0,436.2 L473.6,436.3 L474.2,436.4 L474.8,436.4Z M530.0,429.6 L530.3,430.0 L529.9,430.0 L529.4,429.9 L529.6,429.8 L529.8,429.7 L530.0,429.6Z M442.8,461.7 L442.2,461.1 L442.4,460.5 L442.6,459.9 L442.7,460.8 L442.8,461.7Z" fill="#CDEEF8" stroke="#3A1A1A" stroke-width="0.6"/>
<path d="M529.4,436.8 L530.0,436.8 L530.7,436.8 L531.4,436.7 L532.0,436.7 L532.7,436.6 L533.3,436.6 L534.0,436.5 L534.7,436.5 L535.3,436.4 L535.9,436.4 L536.6,436.3 L537.2,436.3 L537.9,436.2 L538.5,436.2 L539.1,436.2 L539.7,436.3 L540.3,436.4 L540.9,436.4 L541.6,436.6 L542.4,436.8 L543.2,436.9 L544.1,437.6 L544.9,438.3 L545.8,439.0 L546.2,438.7 L546.5,438.4 L546.6,438.0 L546.7,437.7 L546.8,437.3 L547.4,437.2 L548.1,437.1 L547.7,436.5 L547.2,435.9 L548.2,436.5 L549.1,437.0 M535.9,444.4 L536.6,444.5 L537.3,444.6 L538.0,444.7 L538.6,444.9 L539.3,444.8 L539.9,444.8 L540.4,444.5 L541.1,445.0 L541.8,445.4 L542.5,445.8 L543.1,446.1 L543.8,446.4 L544.4,446.7 L545.0,447.0 L545.6,447.2 M520.8,432.4 L520.3,431.5 L519.7,430.7 L519.2,429.9 L518.6,429.1 L518.1,428.3 M530.4,436.8 L529.8,436.0 L529.2,435.2 L528.5,434.4 L527.8,433.6 L527.2,432.8 L526.4,432.0 M533.7,436.6 L533.0,435.7 L532.2,434.9 L531.5,434.1 L530.7,433.3 L529.9,432.6 L529.1,431.8 M536.3,436.4 L535.5,435.5 L534.7,434.7 L533.8,433.9 L532.9,433.1 L532.0,432.4 L531.1,431.6 M521.3,432.3 L521.9,432.3 L522.4,432.3 L523.0,432.2 L523.5,432.2 L524.0,432.2 L524.6,432.1 L525.1,432.1 L525.6,432.1 L526.2,432.0 L526.7,432.0 L527.2,431.9 L527.8,431.9 L528.3,431.9 L528.8,431.8 L529.3,431.8 L529.8,431.7 L530.3,431.7 L530.8,431.6 L531.3,431.6 L531.8,431.5 L532.3,431.4 L532.8,431.4 M532.8,431.4 L533.6,431.6 L534.4,431.9 L535.3,432.2 L536.1,432.5 M538.5,436.2 L537.6,435.3 L536.7,434.5 L536.6,434.0 L536.4,433.5 L536.3,433.0 L536.1,432.5 M541.8,434.5 L542.9,435.3 L544.0,436.1 L545.0,437.0 L545.7,437.1 L546.3,437.2 L547.0,437.3 M529.1,431.8 L528.1,431.0 L527.1,430.1 L526.1,429.3 L525.1,428.6 L524.0,427.8 M531.1,431.6 L530.0,430.8 L528.9,429.9 L527.8,429.2 L526.6,428.4 L525.4,427.6 M470.8,432.6 L471.5,432.5 L472.2,432.5 L472.9,432.4 L473.6,432.4 L474.3,432.3 L474.9,432.3 L475.5,432.3 L476.0,432.2 L476.5,432.2 L477.1,432.2 L477.6,432.2 L477.8,432.4 L478.1,432.6 L478.3,432.8 L478.6,433.0 L478.5,433.3 L478.5,433.7 L478.5,434.1 L478.5,434.5 L478.5,434.8 L478.5,435.2 L478.6,435.6 L479.4,435.5 L480.2,435.3 L481.0,435.1 L481.9,435.0 L482.7,434.8 L483.5,434.7 L483.8,434.9 L484.1,435.1 L484.4,435.3 L484.8,435.5 L485.2,435.7 L485.5,435.8 L486.0,435.9 L486.5,436.0 L486.9,436.1 L487.4,436.2 L487.9,436.3 L488.8,435.8 L489.6,435.3 L490.5,434.8 L490.7,435.2 L491.0,435.6 L491.3,435.9 L491.6,436.3 L492.0,436.5 L492.4,436.7 L492.9,436.9 L493.3,437.2 L493.7,437.4 L493.0,437.9 L492.3,438.5 L491.7,439.0 L491.0,439.6 M478.6,435.6 L478.5,436.1 L478.4,436.6 L478.4,437.1 L478.4,437.7 L478.5,438.2 L478.5,438.7 L479.0,438.9 L479.5,439.1 L480.0,439.3 L480.5,439.5 L481.0,439.7 L481.8,439.5 L482.6,439.4 L483.3,439.3 L484.1,439.1 L484.8,438.8 L485.6,438.4 L486.3,438.0 L487.1,437.7 L487.7,437.6 L488.3,437.5 M468.2,440.8 L468.2,441.4 L468.2,441.9 L468.2,442.5 L468.2,443.0 L468.0,443.8 L467.8,444.6 L468.3,444.9 L468.8,445.2 L469.4,445.5 L469.9,445.8 L470.6,445.8 L471.3,445.9 L472.1,445.9 L472.8,446.0 L473.5,446.0 L473.3,446.7 L473.1,447.4 L472.9,448.1 L473.2,448.7 L473.6,449.4 L474.4,449.2 L475.2,449.0 L476.0,448.8 L476.3,449.2 L476.6,449.5 M468.2,440.8 L467.4,441.6 L466.7,442.5 L466.0,443.3 L465.1,444.0 L464.2,444.6 L463.3,445.3 L462.6,446.0 L461.9,446.7 L461.2,447.3 L460.8,447.6 M463.8,440.3 L462.8,441.3 L461.8,442.3 L460.9,443.4 L460.3,444.2 L459.7,445.0 L459.1,445.8 L458.6,446.6 M468.2,440.8 L467.7,440.7 L467.2,440.6 L466.7,440.5 L466.2,440.4 L465.7,440.2 L464.9,440.4 L464.1,440.6 L463.3,440.8 M465.5,435.8 L466.0,435.9 L466.6,436.0 L467.1,436.1 L467.7,436.1 L468.3,436.0 L468.1,436.6 L467.9,437.1 L468.0,437.5 L468.2,437.9 L468.4,438.3 L468.6,438.6 L469.4,438.6 L470.1,438.5 L470.9,438.4 L471.7,438.3 L472.4,438.2 L473.2,438.1 M460.2,438.2 L459.3,439.0 L458.4,439.7 L457.6,440.5 L457.1,441.3 L456.6,442.0 L456.2,442.8 L455.9,443.3 M451.8,443.1 L452.9,442.4 L454.0,441.8 L454.1,442.2 L454.3,442.6 L454.6,443.0 L454.8,443.4 L455.1,443.8 L455.0,444.5 L454.9,445.2 L454.9,445.9 L455.0,446.6 L455.0,447.3 L455.1,448.0 L454.2,448.9 L453.3,449.8 L452.4,450.7 M567.3,433.8 L567.9,433.9 L568.5,433.9 L569.1,433.9 M461.6,430.0 L460.7,430.5 L459.8,431.0 L458.2,431.7 M465.9,429.3 L464.4,430.0 L462.9,430.7 M467.4,430.0 L465.7,430.8 L464.0,431.6 L463.2,431.9 L462.3,432.1 M466.5,433.1 L466.9,432.6 L467.4,432.1 L467.9,431.6 L467.6,431.5 L467.2,431.5 L466.9,431.4 M474.8,427.8 L476.0,427.5 L477.2,427.2 L479.1,426.5 L481.0,425.9 L482.9,425.4 L485.0,424.8 M471.1,427.2 L473.0,426.7 L475.0,426.3 L476.9,425.8 L478.9,425.4 L480.9,424.9 L482.9,424.5 L483.3,424.6 L483.7,424.6 M470.1,429.5 L471.9,428.8 L473.7,428.1 M458.6,431.9 L459.0,432.0 L459.5,432.0 L459.9,432.1 L460.4,432.2 L460.9,432.3 L461.4,432.3 L461.9,432.4 M456.5,432.4 L457.1,432.4 L457.7,432.4 L458.0,432.5 L458.3,432.6 M458.9,433.3 L458.6,433.7 L458.4,434.1 L458.1,434.4 L458.4,434.6 L458.6,434.9 L458.9,435.1 M461.3,432.6 L461.8,432.6 L462.2,432.7 L462.6,432.8 L461.5,433.5 L460.4,434.2 M449.4,441.3 L448.3,442.4 L447.2,443.5 L446.2,444.6 L445.3,445.7 L444.4,446.8 M444.4,446.8 L445.1,446.9 L445.7,447.0 L446.4,447.1 L447.1,447.2 L447.8,447.3 L448.5,447.3 M446.2,439.4 L445.1,440.5 L444.0,441.6 L442.9,442.7 L441.9,443.8 L441.0,444.9 L441.1,445.3 L441.1,445.6 M436.5,447.3 L437.4,446.9 L438.3,446.5 L439.1,446.0 L440.0,445.6 L440.9,445.2 M580.0,444.4 L580.9,444.8 L581.8,445.3 L582.8,445.8 L583.7,446.3 L584.6,446.8 L585.5,447.3 M577.3,443.0 L577.2,442.2 L577.0,441.5 L576.8,440.8 L576.5,440.0 L575.4,439.1 L574.4,438.3 M577.9,447.2 L578.6,447.1 L579.2,447.0 L578.5,446.0 L578.3,445.3 L578.1,444.6 L577.9,443.9 L577.6,443.2 M582.1,451.2 L582.5,450.8 L582.9,450.5 L583.3,450.1 L583.7,449.7 L583.0,448.6 L582.2,447.6 L581.4,446.5 L580.6,445.5 L579.7,444.4 M434.9,449.9 L435.6,448.8 L436.3,447.6 M587.1,449.9 L586.4,448.8 L585.7,447.6 M442.0,445.4 L441.2,446.4 L440.4,447.5 L439.7,448.5 L439.0,449.6 L438.4,450.6 L437.9,451.7 M433.6,452.6 L434.3,452.4 L434.9,452.2 L435.6,452.1 L436.2,451.9 L436.9,451.8 L437.5,451.6 L436.9,452.8 L436.3,453.9 L435.6,454.8 L435.0,455.7 L434.4,456.6 L433.8,457.5 M589.1,456.0 L588.9,454.9 L588.6,453.8 L588.2,452.6 L588.4,452.6 M443.2,448.0 L442.4,449.0 L441.6,450.1 L440.9,451.1 L440.2,452.2 L440.0,453.1 L439.9,453.9 L439.8,454.8 M440.0,454.8 L440.7,454.8 L441.5,454.9 L442.2,454.9 L443.0,454.9 L443.7,455.0 M443.7,455.0 L444.3,454.0 L444.9,453.0 L445.6,452.0 L446.1,452.3 L446.7,452.5 L447.3,452.8 L447.9,453.1 L448.1,453.8 L448.4,454.4 L448.7,455.1 L449.1,455.8 L448.3,456.4 L447.6,456.9 L446.9,457.5 L446.3,458.1 L445.6,458.0 L444.9,457.9 L444.2,457.8 L443.6,457.7 L443.6,456.8 L443.6,455.9 L443.7,455.0 M436.3,459.2 L437.0,458.9 L437.7,458.6 L438.4,458.3 L439.1,457.9 L439.8,457.7 L440.6,457.4 L441.0,457.7 L441.5,458.0 L442.0,458.3 M435.1,463.8 L435.7,464.5 L436.3,465.1 L436.9,465.7 L437.6,466.2 L438.3,466.6 L439.0,467.1 L439.7,467.5 L440.2,468.8 L440.5,468.1 L440.8,467.4 L441.2,466.8 L441.6,466.1 L442.1,465.5 L441.8,464.4 L441.6,463.3 L441.4,462.4 L441.3,461.4 L441.5,460.5 L441.7,459.6 L441.9,458.6 M443.0,461.1 L443.6,461.7 L444.1,462.2 L444.7,462.8 L445.3,463.3 M438.0,471.9 L438.6,471.9 L439.2,471.9 L439.8,471.9 L440.4,471.9 L441.0,471.8 L441.4,471.7 L441.8,471.6 L442.3,471.5 M444.1,476.1 L443.4,475.3 L442.7,474.4 L442.7,473.7 L442.7,473.0 L442.7,472.3 L442.7,471.6 L443.6,472.2 L444.4,472.7 L445.2,473.2 L446.1,473.7 L447.0,474.2 L447.7,475.0 L448.4,475.8 L449.2,476.6 M442.7,471.6 L443.1,471.1 L443.5,470.6 L443.9,470.1 L444.0,469.2 L444.1,468.4 L444.2,467.5 L444.8,467.3 L445.3,467.2 L445.9,467.0 L446.5,466.8 M559.4,462.7 L559.7,463.4 L559.9,464.2 L560.1,464.9 L560.3,465.7 L560.9,465.8 L561.5,465.9 L562.2,466.0 L562.6,466.5 L563.1,467.0 L563.5,467.5 L563.9,468.0 L564.0,468.8 L564.1,469.7 L563.7,470.6 L563.2,471.6 L563.5,472.3 L563.7,473.0 L563.3,473.9 L562.8,474.7 L561.8,475.4 L560.8,476.2 L559.8,476.9 L559.8,477.6 L559.8,478.3 L559.8,478.9 M559.1,454.0 L559.3,454.9 L559.4,455.8 L559.5,456.7 L560.2,456.9 L561.0,457.0 L561.7,457.2 L561.9,457.9 L562.0,458.7 L562.1,459.4 L561.8,460.3 L561.5,461.1 L561.1,461.9 L560.7,462.8 M562.1,459.4 L562.9,459.0 L563.6,458.6 L564.3,458.1 L565.0,457.7 L565.7,457.8 L566.4,457.9 L567.2,458.0 L567.9,458.0 L568.6,458.1 M556.2,462.4 L557.1,461.9 L557.9,461.5 L558.7,461.0 L559.4,461.6 L560.1,462.2 L560.7,462.8 L560.1,462.7 L559.4,462.7 M558.6,470.4 L559.3,469.5 L559.9,468.6 L560.2,467.6 L560.5,466.5 M558.5,472.4 L558.0,473.2 L557.5,474.0 L557.0,474.7 L556.4,475.5 L555.7,476.3 L555.0,477.1 L554.3,477.9 L553.5,478.7 L552.7,479.5 L551.9,480.3 L551.1,481.0 L550.3,481.7 L549.5,482.4 L548.5,483.2 L547.5,484.1 L546.5,484.9 L545.5,485.7 L545.2,486.2 L544.8,486.6 L544.4,487.1 M558.5,472.4 L559.3,472.4 L560.1,472.5 L560.9,472.5 L561.7,472.2 L562.5,471.9 L563.2,471.6 M560.9,472.5 L560.9,473.3 L560.9,474.0 L560.9,474.8 L560.8,475.5 L561.8,475.1 L562.8,474.7 M471.6,451.9 L472.2,451.2 L472.8,450.6 L473.4,449.9 L474.1,449.6 L474.8,449.3 L475.5,449.0 M472.5,451.2 L473.1,451.3 L473.6,451.4 L474.2,451.5 L474.4,452.3 L474.6,453.0 L473.8,453.7 L473.0,454.3 M476.0,448.8 L475.5,449.4 L475.0,450.1 L474.4,450.7 L474.7,451.3 L475.0,451.9 L475.2,452.5 L475.5,453.1 L475.2,453.7 L474.8,454.4 L474.4,455.1 M487.7,440.8 L488.4,440.6 L489.1,440.3 L489.8,440.0 L490.5,439.8 M485.1,467.8 L485.3,468.7 L485.5,469.6 L485.7,470.6 L486.0,471.5 L486.2,472.4 L486.5,473.4 L486.8,474.3 L487.2,475.2 L487.6,476.1 M489.4,468.6 L489.6,469.5 L489.8,470.5 L490.0,471.4 L490.2,472.4 L490.5,473.3 L491.1,473.3 L491.8,473.3 L492.1,474.2 L492.3,475.2 L492.6,476.1 L493.0,477.1 L493.3,478.0 L493.7,479.0 M486.5,473.4 L487.3,473.4 L488.1,473.4 L488.9,473.3 L489.7,473.3 L490.5,473.3 M492.2,474.7 L493.0,474.6 L493.7,474.6 L494.5,474.5 L495.2,474.4 L496.0,474.4 L496.8,474.3 L497.5,474.2 M493.0,477.1 L493.8,477.4 L494.7,477.7 L495.5,478.0 L496.4,478.3 L497.2,478.6 M549.5,451.2 L549.9,451.7 L550.2,452.2 L550.8,452.7 L551.4,453.2 L551.9,453.4 L552.4,453.7 L553.2,454.2 L554.0,454.7 L554.3,455.2 L554.7,455.7 M564.7,461.1 L565.4,461.5 L566.0,462.0 L566.6,462.5 L567.1,462.9 L567.7,463.4 L568.3,463.9 L568.8,464.4 L569.3,464.8 L569.7,465.3 L570.2,465.8 L570.7,466.3 L570.3,467.1 L569.9,468.0 L569.5,468.8 L569.0,469.7 M567.5,469.6 L567.8,470.2 L568.1,470.8 L568.4,471.4 L568.7,472.0 L567.7,472.7 L566.8,473.4 L565.8,474.1 M476.3,431.4 L477.2,431.2 L478.1,431.0 L479.0,430.8 L479.9,430.6 L480.8,430.4 L481.6,430.2 L482.2,430.2 L482.8,430.1 L483.4,430.1 L484.0,430.1 L484.6,430.1 L485.2,430.0 L485.7,430.0 L486.3,430.0 L486.4,430.2 L486.4,430.5 L486.5,430.8 L486.6,431.0 L486.8,431.3 L486.9,431.6 L487.1,431.9 L487.3,432.1 L488.0,432.0 L488.8,431.8 L489.5,431.7 L490.3,431.5 L491.0,431.4 L491.7,431.2 L492.5,431.0 L493.2,430.9 L493.5,431.0 L493.8,431.2 L494.2,431.3 L494.5,431.5 L494.9,431.6 L495.3,431.8 L495.7,431.9 L496.1,432.0 L496.7,431.9 L497.4,431.7 L498.0,431.6 L498.6,431.4 L499.3,431.3 L499.9,431.1 L500.5,430.9 L501.1,430.8 L501.6,430.6 L502.2,430.5 L502.8,430.3 M472.3,431.0 L473.3,430.7 L474.4,430.5 L475.5,430.2 L476.5,430.0 L477.6,429.7 L478.7,429.5 L479.6,429.3 L480.5,429.1 L481.4,428.9 L482.2,428.8 L483.1,428.6 L484.0,428.4 L484.6,428.4 L485.1,428.4 L485.7,428.3 L486.2,428.3 L486.7,428.3 L487.3,428.3 L487.8,428.3 L488.4,428.2 L488.6,428.3 L488.8,428.5 L489.1,428.6 L489.4,428.7 L489.6,428.8 L489.9,428.9 L490.2,429.0 L490.5,429.1 L491.0,429.1 L491.6,429.0 L492.1,429.0 L492.7,429.0 L493.2,428.9 L493.7,428.9 L494.3,428.8 L494.8,428.8 L495.1,428.9 L495.4,428.9 L495.7,429.0 L496.0,429.1 L496.4,429.2 L496.7,429.3 L497.1,429.4 L497.4,429.5 M523.1,431.4 L523.4,431.1 L523.6,430.9 L523.8,430.7 L524.0,430.4 L524.2,430.2 L524.4,430.0 L524.9,430.0 L525.3,430.0 L525.8,430.0 L526.3,430.0 L526.8,430.0 L527.3,430.0 L527.8,430.0 L528.3,430.0 L528.5,429.9 L528.8,429.7 L529.1,429.6 L529.3,429.4 L529.6,429.3 L529.8,429.1 L530.0,429.0 L530.2,428.8" fill="none" stroke="#5A3A3A" stroke-width="0.5"/>
<path d="M531.0,434.6 L530.7,435.2 M533.2,432.5 L534.3,432.7 M526.3,428.9 L527.0,429.2 M528.4,427.2 L528.1,428.2 M547.5,433.8 L546.7,434.2 M524.3,429.0 L525.3,429.6 M536.7,435.1 L537.5,435.3 M527.0,430.7 L527.1,431.6 M525.8,430.7 L525.7,432.1 M546.0,432.7 L546.3,434.0 M523.8,432.2 L525.1,432.3 M541.7,431.6 L541.0,432.5 M528.7,430.1 L530.0,430.4 M528.3,427.1 L527.5,427.5 M527.1,430.3 L528.2,430.4 M526.5,435.3 L527.9,435.5 M525.2,433.6 L525.7,435.0 M523.2,431.9 L523.0,433.4 M527.4,432.0 L528.0,433.3 M544.9,433.0 L545.6,433.4 M526.3,431.7 L526.1,432.6 M529.0,431.2 L527.7,431.3 M530.8,430.2 L530.4,430.8 M535.3,428.0 L534.0,428.5 M529.8,432.4 L530.9,432.8 M527.8,434.7 L528.1,435.3 M523.4,433.3 L524.8,433.4 M537.5,433.9 L538.1,434.6 M532.8,434.7 L531.4,435.4 M530.7,431.6 L531.4,431.8 M530.7,433.7 L530.1,434.0 M519.0,428.3 L518.9,429.0 M537.4,434.7 L537.2,436.3 M535.2,428.6 L535.8,429.3 M522.8,429.2 L522.6,430.6 M531.1,433.8 L529.8,434.7 M534.1,427.8 L533.0,428.5 M525.7,431.6 L526.0,432.2 M525.6,430.3 L524.5,430.5 M541.8,431.1 L542.4,431.6 M527.6,433.9 L527.1,435.3 M538.7,430.2 L538.0,431.4 M522.6,430.7 L521.2,431.1 M522.4,429.1 L523.1,430.3 M533.7,427.7 L535.0,428.3 M527.8,431.3 L528.4,431.6 M526.7,428.5 L526.0,428.9 M527.6,433.4 L528.5,434.2 M526.6,432.4 L528.0,433.0 M529.2,431.5 L528.8,432.9 M531.3,431.0 L531.3,431.6 M532.7,434.4 L534.1,434.4 M525.4,431.9 L524.6,432.8 M528.0,431.0 L527.8,432.4 M522.7,431.4 L523.3,432.0 M530.2,429.1 L529.2,429.4 M529.6,429.4 L529.8,430.5 M530.7,428.0 L529.9,428.1 M527.7,427.7 L527.0,428.0 M523.7,432.6 L524.5,432.8 M522.2,430.4 L521.0,431.3 M523.0,430.0 L522.7,430.7 M521.9,427.9 L522.3,428.9 M525.0,432.3 L525.0,433.2 M526.8,433.4 L526.4,433.9 M532.9,431.9 L533.8,431.9 M520.0,429.7 L520.5,430.3 M540.3,432.4 L541.6,433.1 M530.3,429.6 L530.9,429.8 M520.1,428.0 L519.5,429.3 M519.9,429.2 L521.3,429.5 M532.4,432.2 L532.1,433.7 M529.7,434.7 L529.6,435.6 M529.7,433.3 L529.0,433.9 M534.7,434.0 L535.0,434.5 M530.3,435.8 L529.6,436.6 M525.7,432.2 L525.0,432.4 M538.6,430.5 L538.6,432.0 M529.8,431.0 L528.9,432.4 M525.6,428.6 L524.9,429.6 M530.7,433.0 L531.5,433.1 M520.8,430.0 L521.4,430.5 M521.3,429.2 L520.1,429.7 M528.8,433.7 L529.5,434.6 M524.3,432.0 L525.4,433.2 M522.1,427.9 L522.6,428.6 M530.6,431.2 L531.5,431.9 M523.3,433.0 L523.9,433.1 M529.9,433.6 L529.6,434.7 M530.3,427.6 L530.7,428.4 M546.2,432.6 L545.4,433.6 M520.6,429.3 L519.4,429.7 M523.9,431.3 L523.9,432.7 M528.7,427.7 L528.0,428.7 M528.9,435.9 L529.8,436.3 M521.2,428.9 L521.0,430.1 M531.8,429.5 L531.8,430.1 M533.7,428.2 L533.7,429.3 M540.0,434.6 L539.4,435.2 M532.7,431.9 L532.7,433.2 M538.8,434.6 L539.6,435.0 M537.6,435.5 L538.5,435.7 M532.3,431.4 L532.3,432.1 M544.0,432.9 L542.5,433.0 M532.2,433.1 L533.4,434.1 M524.5,431.1 L525.5,431.6 M545.9,433.1 L544.9,433.7 M535.2,428.4 L536.3,429.4 M535.4,435.7 L536.5,435.7 M532.1,433.1 L533.0,433.5 M524.0,429.1 L525.4,429.1 M543.8,433.7 L542.5,434.0 M542.0,431.7 L542.4,432.6 M529.2,432.2 L529.6,432.7 M520.6,428.9 L521.5,430.1 M528.2,433.6 L528.2,434.4 M525.1,427.9 L523.8,428.4 M529.3,427.8 L528.2,428.0 M541.6,434.5 L540.9,435.2 M531.0,435.8 L530.3,435.9 M532.2,432.4 L533.0,433.4 M544.3,431.8 L543.8,432.6 M533.6,432.1 L534.2,432.5 M522.3,428.4 L522.3,429.2 M533.7,434.5 L534.3,434.9 M531.4,435.1 L532.1,435.7 M528.6,427.9 L527.9,428.6 M529.4,431.1 L529.8,431.9 M545.8,432.7 L545.8,434.0 M542.1,432.6 L542.7,433.3 M530.8,432.1 L529.4,432.3 M544.5,434.6 L545.8,434.7 M538.4,434.9 L538.9,436.4 M532.8,427.8 L532.0,427.9 M530.6,429.9 L529.3,430.1 M531.0,428.5 L531.1,429.6 M519.7,429.5 L520.8,430.5 M536.4,432.7 L537.2,433.0 M531.4,429.5 L532.1,429.7 M531.0,430.4 L531.3,431.2 M538.6,435.1 L539.2,435.9 M528.6,434.1 L527.3,434.3 M531.4,435.4 L531.4,436.7 M532.6,433.1 L531.9,434.4 M529.0,435.6 L529.5,436.5 M539.3,433.2 L538.2,434.0 M535.2,434.0 L534.2,434.1 M540.8,432.5 L541.9,433.4 M523.3,427.9 L523.3,428.7 M526.9,432.1 L526.1,433.4 M524.3,432.6 L525.6,433.6 M533.5,426.9 L532.4,428.1 M541.5,431.3 L542.8,432.2 M542.4,434.5 L541.9,435.3 M530.3,433.1 L530.8,433.4 M528.6,433.2 L527.9,433.3 M544.3,432.0 L544.9,433.3 M538.1,431.1 L539.2,431.3 M526.5,433.1 L525.9,433.3 M526.8,429.0 L526.4,429.4 M543.5,431.9 L542.5,432.9 M530.9,433.7 L529.7,433.9 M524.7,429.8 L525.1,430.6 M520.3,430.1 L519.2,430.4 M546.2,434.0 L547.0,434.7 M531.4,433.3 L531.7,434.4 M544.7,432.6 L543.6,433.4 M533.8,428.1 L533.5,429.0 M529.3,432.8 L528.8,433.3 M523.1,429.8 L523.6,430.2 M521.1,431.2 L521.9,432.5 M529.3,435.4 L530.4,435.7 M527.0,432.1 L526.5,433.3 M539.6,434.1 L538.8,434.6 M534.6,432.1 L534.1,432.7 M527.6,433.8 L529.0,434.5 M534.8,432.1 L535.3,433.6 M535.0,433.4 L534.0,434.1 M546.5,432.8 L546.7,434.2 M542.0,431.2 L541.1,431.6 M524.7,429.7 L524.0,429.8 M531.7,430.0 L532.4,430.6 M525.6,434.3 L526.4,435.1 M537.6,433.7 L538.5,433.7 M538.6,433.4 L539.1,434.1 M536.2,430.3 L536.9,430.4 M529.1,431.0 L528.8,431.6 M487.7,428.0 L488.0,428.9 M493.5,427.0 L494.2,428.0 M490.6,430.5 L489.1,431.2 M488.5,432.0 L487.9,432.6 M487.3,425.9 L487.7,427.3 M495.2,427.9 L495.3,428.6 M483.1,427.8 L482.5,429.2 M485.1,428.0 L485.5,429.0 M482.7,430.0 L482.6,431.6 M484.8,428.9 L483.5,429.8 M483.3,431.9 L481.7,432.2 M491.5,433.5 L490.6,433.7 M507.5,430.5 L506.8,430.9 M495.2,428.3 L494.6,428.7 M485.9,429.9 L485.8,430.9 M482.2,430.3 L481.2,431.5 M483.7,428.4 L483.3,428.8 M504.1,433.3 L503.7,434.4 M497.2,431.7 L497.5,432.9 M493.7,429.1 L493.9,430.1 M483.9,427.8 L483.9,428.6 M503.5,429.2 L503.6,430.0 M490.6,433.0 L491.5,433.4 M483.2,429.2 L483.1,429.9 M497.0,433.3 L496.1,434.3 M492.0,433.2 L492.0,434.1 M507.2,427.9 L506.2,428.9 M491.9,426.2 L491.9,427.7 M504.3,428.6 L505.3,428.8 M503.2,432.9 L503.2,434.4 M484.2,430.8 L484.2,431.7 M478.0,430.5 L479.3,431.2 M501.3,428.4 L502.5,429.1 M485.0,428.7 L484.6,429.6 M506.2,430.4 L505.9,431.8 M490.7,426.1 L490.3,427.0 M509.4,430.4 L510.0,431.7 M490.8,432.4 L490.3,432.9 M503.9,432.2 L503.3,433.7 M498.0,429.8 L498.3,430.3 M478.4,430.6 L478.0,431.5 M497.5,428.3 L498.2,428.6 M479.5,429.4 L480.4,429.8 M488.1,429.0 L487.9,429.7 M497.4,430.9 L498.8,431.6 M483.5,431.9 L484.7,432.3 M506.4,429.3 L506.7,430.1 M484.1,427.5 L483.9,428.4 M499.3,431.4 L498.0,431.6 M491.5,427.5 L492.6,427.7 M489.2,432.0 L490.5,432.3 M483.1,428.4 L482.4,428.6 M487.7,428.5 L487.6,429.7 M502.9,433.1 L503.4,433.8 M488.6,426.4 L487.6,427.3 M487.1,426.5 L486.3,427.3 M501.4,431.4 L501.9,431.8 M482.4,432.2 L483.0,433.3 M502.3,428.8 L501.8,429.5 M496.2,431.0 L495.3,431.7 M490.0,429.1 L489.2,429.2 M485.9,431.1 L484.9,432.2 M501.8,432.2 L500.9,432.6 M492.2,427.0 L491.7,428.1 M502.0,427.6 L502.1,429.0 M502.1,428.4 L502.3,429.7 M495.0,431.8 L496.0,432.6 M488.6,426.7 L489.2,427.0 M489.5,426.6 L489.8,427.2 M477.1,431.2 L476.4,432.2 M501.0,429.7 L502.2,429.9 M494.3,428.1 L493.1,428.9 M488.8,426.8 L487.3,427.2 M480.5,431.0 L481.1,431.2 M506.3,428.9 L505.7,430.2 M497.1,432.3 L497.7,432.6 M488.4,430.7 L489.3,430.7 M490.6,428.4 L491.0,429.2 M509.4,431.2 L508.3,431.8 M481.2,428.7 L481.5,430.1 M492.3,428.7 L492.2,429.5 M503.0,433.5 L503.8,433.5 M503.8,428.4 L504.9,428.4 M496.1,428.7 L497.0,429.3 M492.9,427.8 L494.0,428.9 M486.2,431.4 L485.6,432.3 M485.3,428.3 L486.6,428.7 M502.0,429.0 L501.6,429.9 M491.3,431.0 L490.6,431.3 M484.6,431.0 L483.6,431.4 M494.3,427.8 L495.1,428.5 M497.7,428.9 L496.8,429.8 M488.2,431.1 L489.5,431.7 M500.2,429.4 L501.1,430.0 M502.6,430.7 L503.6,431.1 M484.5,430.3 L483.7,431.5 M481.2,431.3 L481.9,432.0 M492.9,432.6 L493.3,433.3 M508.6,429.9 L510.1,430.3 M483.4,429.9 L482.0,430.0 M500.8,431.3 L501.8,432.1 M480.7,430.8 L480.9,431.4 M494.6,428.3 L494.0,429.2 M497.8,431.1 L498.9,431.6 M494.5,428.9 L493.5,429.2 M498.3,429.1 L498.5,429.9 M503.4,428.5 L502.4,429.4 M506.0,429.9 L505.5,430.8 M490.1,429.3 L491.1,429.6 M504.0,429.7 L503.7,430.4 M492.3,430.4 L491.9,431.3 M501.5,428.2 L502.5,428.9 M502.6,431.3 L502.6,432.8 M482.6,428.4 L483.8,429.0 M507.5,431.2 L508.7,431.6 M497.3,429.0 L497.3,430.2 M504.4,430.5 L504.8,432.0 M488.5,428.1 L489.0,429.3 M490.5,426.4 L490.8,427.0 M486.9,430.6 L487.9,430.7 M493.8,429.0 L494.2,429.8 M490.3,428.3 L489.2,428.5 M490.1,427.7 L490.4,428.4 M488.6,427.5 L487.6,428.2 M493.6,429.8 L494.8,430.8 M492.3,429.1 L491.2,429.9 M492.2,431.6 L492.1,432.3 M504.7,432.1 L504.0,432.5 M488.9,431.6 L489.1,432.3 M484.6,427.2 L485.2,427.8 M488.8,429.7 L489.0,430.9 M499.4,431.9 L498.0,432.2 M488.0,427.0 L486.7,427.4 M489.1,427.3 L488.9,427.9 M488.5,426.0 L488.1,426.7 M479.4,431.0 L480.4,431.9 M487.9,432.3 L486.6,432.7 M490.5,426.7 L490.1,428.0 M502.2,428.3 L501.1,429.2 M488.6,427.9 L488.5,429.3 M496.1,427.9 L495.9,428.8 M483.7,431.8 L483.7,432.4 M491.1,432.4 L491.1,433.5 M497.5,428.7 L499.0,428.7 M494.5,429.7 L493.8,431.0 M490.7,430.9 L490.0,431.0 M498.8,430.2 L500.0,430.3 M501.8,427.9 L502.6,429.3 M495.1,430.8 L494.5,431.0 M501.3,429.9 L502.0,431.1 M490.7,429.9 L490.6,431.2 M485.9,429.6 L486.2,430.7 M504.4,432.5 L503.5,433.0 M493.2,431.4 L493.1,433.0 M500.5,429.0 L501.0,429.8 M490.2,429.0 L489.6,430.3 M486.2,427.5 L485.1,427.9 M480.0,430.2 L480.8,430.2 M508.0,430.2 L507.3,431.4 M507.5,430.2 L507.1,431.4 M501.1,430.3 L500.7,431.0 M499.6,431.2 L499.1,431.7 M481.7,432.0 L480.5,433.0 M499.2,431.6 L498.0,432.3 M494.7,432.1 L495.3,432.9 M489.2,429.9 L488.6,431.3 M483.5,428.6 L484.2,428.7 M504.7,430.8 L503.7,431.1 M480.9,428.7 L480.4,430.2 M489.2,432.7 L488.8,433.4 M479.4,432.5 L480.7,432.5 M489.7,426.6 L491.1,427.0 M479.6,432.1 L479.1,432.7 M487.0,426.9 L486.1,428.0 M499.5,429.1 L499.7,430.6 M493.1,427.0 L492.7,427.5 M484.4,427.8 L483.9,428.2 M491.0,428.5 L492.2,429.2 M491.0,433.0 L491.4,434.1 M493.7,429.2 L494.9,429.9 M492.3,429.0 L491.9,430.0 M494.6,428.6 L493.2,428.9 M494.5,432.1 L496.1,432.4 M501.9,428.7 L502.5,429.8 M509.6,429.0 L509.4,429.9 M484.2,425.0 L484.6,426.2 M485.7,425.6 L484.9,426.1 M480.1,426.7 L478.8,427.5 M482.6,424.6 L481.4,425.4 M476.3,428.9 L475.0,429.5 M471.5,429.1 L471.2,430.5 M481.5,425.7 L480.7,425.9 M481.8,426.6 L481.9,427.4 M481.8,425.6 L480.9,426.2 M482.0,425.0 L481.3,425.5 M481.3,427.8 L481.3,429.0 M471.4,428.4 L472.5,429.1 M478.6,426.5 L479.0,427.6 M469.9,429.5 L469.0,429.5 M479.0,425.9 L478.4,426.4 M476.9,428.5 L476.8,429.1 M485.3,424.1 L484.3,424.6 M475.8,428.9 L475.1,429.6 M485.8,426.7 L484.5,427.6 M469.7,429.6 L470.3,430.1 M469.3,428.6 L469.0,430.0 M475.6,430.7 L475.3,431.7 M484.1,424.2 L484.9,425.1 M478.0,428.3 L478.1,429.1 M469.5,429.4 L470.2,430.1 M475.1,430.7 L474.1,431.6 M471.0,428.1 L469.9,429.2 M476.9,428.6 L476.5,429.9 M471.3,428.9 L471.4,429.7 M471.7,428.9 L471.3,429.4 M474.9,429.9 L476.4,430.1 M485.0,424.7 L483.7,425.3 M475.0,426.9 L476.5,427.4 M482.5,427.3 L482.6,428.2 M480.4,428.2 L480.1,428.9 M470.5,429.2 L469.7,430.1 M482.6,424.7 L483.3,425.5 M473.4,428.0 L472.6,428.4 M476.2,426.4 L477.0,427.6 M484.1,424.4 L485.5,424.7 M475.4,429.3 L475.5,430.2 M472.2,428.1 L472.8,429.6 M487.3,426.3 L488.2,426.6 M475.6,430.9 L475.0,431.5 M475.9,431.4 L475.1,431.9 M469.2,429.5 L468.2,430.0 M476.2,427.2 L475.4,427.5 M473.2,429.6 L474.3,430.4 M475.3,429.9 L475.9,430.0 M478.9,427.7 L479.4,428.3 M482.9,426.5 L481.9,427.2 M482.0,465.2 L481.0,465.5 M474.4,451.6 L474.7,452.3 M473.1,453.4 L471.9,454.2 M472.3,451.1 L471.3,451.2 M481.9,456.7 L481.9,457.3 M488.5,462.5 L487.2,463.3 M479.1,458.5 L478.1,459.0 M486.1,460.4 L485.9,461.9 M475.4,461.5 L476.5,461.8 M474.4,453.4 L474.5,454.5 M476.1,461.3 L477.0,462.0 M477.4,448.9 L478.2,450.0 M470.1,458.6 L470.4,459.9 M492.6,463.3 L492.0,463.5 M479.0,459.9 L477.8,460.8 M471.0,458.9 L471.4,460.0 M473.7,462.1 L473.2,463.2 M481.1,456.1 L481.9,457.1 M473.0,450.2 L472.8,451.2 M471.9,450.1 L471.5,451.6 M486.7,461.3 L487.5,462.6 M481.5,452.5 L482.1,453.0 M472.9,451.6 L473.2,452.4 M472.9,453.9 L473.7,454.1 M490.1,462.7 L490.3,464.1 M489.1,462.3 L489.7,463.5 M475.8,449.6 L475.7,450.4 M487.3,461.1 L486.2,461.5 M478.1,461.2 L477.9,462.0 M491.2,462.9 L491.2,464.1 M474.1,451.1 L474.8,452.2 M476.2,464.2 L476.7,464.9 M472.3,453.4 L472.9,454.2 M471.4,461.0 L472.6,461.2 M487.0,461.3 L486.2,461.7 M473.8,450.1 L472.9,451.0 M472.5,462.0 L473.1,462.8 M486.9,460.8 L487.2,462.1 M472.0,452.1 L473.2,453.0 M476.5,464.1 L475.5,464.2 M492.9,463.2 L492.4,463.6 M473.7,454.1 L473.4,455.1 M471.4,460.5 L471.7,461.3 M474.3,453.7 L474.4,454.4 M472.2,453.7 L471.0,453.8 M471.5,457.2 L471.6,457.9 M474.5,454.8 L473.2,455.5 M474.5,452.4 L473.4,453.0 M491.7,462.4 L492.3,463.3 M490.0,464.0 L489.3,465.0 M472.7,451.1 L473.2,451.6 M472.4,451.5 L472.7,452.3 M488.9,463.1 L488.4,463.5 M473.4,452.7 L474.1,453.9 M473.6,450.0 L473.1,450.7 M472.1,452.1 L473.1,452.7 M493.1,464.9 L493.5,465.5 M474.7,451.7 L474.2,452.6 M481.3,462.8 L480.4,463.2 M475.7,450.6 L475.6,451.3 M477.9,459.8 L479.1,459.8 M485.5,460.7 L486.2,461.6 M478.4,460.6 L477.3,461.4 M470.4,450.6 L470.6,451.7 M476.7,460.1 L475.9,461.0 M486.6,461.6 L486.8,462.4 M469.6,458.7 L470.8,458.9 M481.3,465.2 L480.2,465.5 M482.7,455.4 L482.5,456.7 M480.9,443.4 L480.4,444.1 M486.8,438.5 L486.1,439.1 M489.5,436.0 L489.7,436.9 M484.1,436.3 L484.7,436.6 M480.8,439.4 L480.1,440.0 M482.7,446.8 L483.4,446.9 M470.1,440.3 L470.0,441.1 M488.7,443.5 L489.4,443.9 M488.1,436.9 L488.7,437.2 M482.0,443.3 L481.1,443.9 M479.5,436.3 L480.8,436.7 M471.7,438.3 L472.1,439.7 M470.6,439.2 L471.0,440.7 M470.8,443.8 L471.5,444.5 M471.4,444.3 L470.5,445.2 M480.4,435.1 L481.3,435.8 M476.9,436.5 L476.1,436.8 M487.5,437.8 L488.1,438.5 M482.5,436.7 L483.7,437.3 M481.6,441.5 L481.3,443.0 M477.4,435.9 L478.0,437.1 M491.3,436.1 L491.7,436.6 M476.5,435.2 L478.0,435.3 M474.3,438.0 L475.1,438.2 M480.8,446.1 L481.6,447.4 M487.9,437.4 L487.3,437.5 M477.2,437.4 L476.9,437.9 M477.6,444.5 L477.7,445.2 M475.5,434.2 L476.3,435.5 M470.7,440.8 L471.6,441.2 M474.1,438.5 L475.2,439.1 M476.5,445.8 L477.0,446.8 M479.6,435.3 L478.3,435.8 M471.5,444.9 L471.9,445.4 M469.6,440.0 L469.9,441.1 M473.0,446.9 L472.3,447.9 M481.4,440.4 L480.6,441.7 M489.5,439.1 L489.8,440.0 M482.6,435.5 L482.9,436.4 M475.0,445.8 L474.4,445.8 M485.4,436.3 L486.3,437.2 M474.4,444.3 L474.9,444.7 M489.8,438.6 L489.1,438.8 M483.1,443.4 L482.6,444.5 M480.2,435.7 L481.5,435.7 M488.0,441.1 L487.6,442.7 M475.5,439.2 L474.8,439.9 M483.8,442.5 L483.7,443.7 M482.6,443.4 L482.2,444.5 M474.2,439.2 L475.2,440.3 M481.1,438.4 L481.0,439.4 M470.7,445.4 L469.6,445.7 M480.7,441.0 L480.0,441.5 M476.2,436.5 L476.3,437.8 M490.3,437.3 L489.7,437.6 M480.7,437.3 L480.1,437.6 M469.1,443.9 L470.0,444.2 M475.2,445.8 L475.7,447.3 M483.6,441.7 L483.7,443.1 M483.7,445.7 L483.2,446.5 M477.9,444.3 L478.3,445.2 M472.7,447.0 L473.7,447.7 M467.0,444.4 L466.4,445.1 M473.7,444.3 L473.1,444.6 M485.4,437.3 L486.2,437.9 M487.0,440.3 L487.2,440.9 M477.5,442.7 L476.9,443.4 M479.4,439.4 L478.6,439.9 M478.2,440.3 L477.4,440.5 M478.2,439.1 L478.6,439.7 M480.8,441.4 L479.5,441.8 M470.4,439.0 L470.5,440.1 M482.8,436.4 L483.0,437.5 M483.3,437.2 L482.6,438.3 M474.2,446.6 L473.5,447.6 M487.4,438.6 L488.1,438.9 M474.1,436.9 L474.7,437.1 M472.5,438.1 L471.8,439.0 M472.1,437.8 L472.4,439.0 M493.3,438.4 L492.7,438.7 M475.3,441.1 L476.9,441.1 M472.2,443.7 L472.7,444.5 M488.2,440.9 L488.2,441.9 M468.4,442.9 L467.1,443.4 M469.1,446.2 L469.0,447.1 M478.8,441.2 L478.6,442.1 M467.9,442.5 L467.8,443.5 M479.3,443.3 L480.2,444.3 M477.7,438.3 L476.7,439.0 M482.9,435.7 L483.1,437.1 M469.4,441.3 L469.1,441.8 M480.1,445.4 L479.0,445.7 M484.7,439.4 L485.2,440.1 M459.1,436.6 L459.8,436.8 M468.7,429.9 L469.1,431.1 M464.9,429.0 L464.5,429.6 M561.0,430.4 L562.4,430.6 M457.7,434.5 L457.5,435.2 M458.6,436.5 L457.3,437.5 M460.5,431.3 L461.3,432.0 M566.3,431.8 L565.6,432.5 M456.1,436.7 L455.5,437.1 M471.2,430.4 L470.1,430.6 M455.9,433.4 L455.1,434.1 M458.1,437.0 L458.2,438.4 M460.6,433.0 L461.3,433.2 M464.9,429.2 L464.2,429.6 M457.7,437.5 L457.2,439.0 M457.0,432.6 L457.9,433.5 M461.9,429.6 L462.3,430.2 M454.4,436.0 L454.2,437.4 M459.2,433.7 L460.3,433.8 M562.3,430.5 L563.4,430.9 M464.5,429.8 L463.5,430.2 M457.9,436.8 L457.9,438.0 M455.7,431.9 L456.7,432.4 M457.2,434.0 L458.0,434.5 M464.0,428.7 L464.0,430.2 M464.3,430.2 L464.0,431.5 M461.4,430.1 L462.1,430.5 M566.7,432.5 L566.6,433.4 M457.7,437.3 L457.5,438.1 M465.0,430.9 L464.6,431.5 M459.6,431.5 L458.9,431.6 M463.9,431.7 L463.1,432.2 M462.0,434.2 L461.4,434.4 M462.2,434.7 L462.4,435.4 M461.8,430.2 L461.4,430.8 M468.1,431.7 L468.1,432.8 M451.1,443.0 L450.2,443.9 M586.2,454.4 L585.0,455.1 M581.2,450.5 L581.5,451.2 M449.1,475.5 L447.8,476.3 M449.8,450.0 L448.6,450.7 M439.0,463.0 L437.8,463.8 M451.3,448.3 L452.3,449.3 M444.9,441.8 L444.2,442.9 M438.3,446.9 L437.3,447.6 M451.9,446.9 L452.1,447.6 M445.0,445.4 L445.6,446.5 M444.6,463.5 L444.2,464.5 M439.3,444.0 L439.0,444.8 M441.6,462.4 L440.9,463.6 M582.0,452.2 L583.4,452.4 M579.1,442.2 L578.6,443.6 M575.4,440.2 L575.6,441.6 M445.2,459.2 L445.8,460.6 M446.9,453.4 L448.1,453.7 M445.6,439.5 L446.1,440.6 M440.1,465.4 L440.0,466.6 M444.6,438.8 L446.1,439.0 M440.7,457.3 L440.9,458.6 M448.7,450.8 L448.3,451.2 M453.7,444.4 L454.7,445.0 M448.0,479.5 L448.4,480.8 M442.2,469.8 L441.6,470.4 M438.0,464.1 L436.7,464.1 M445.0,452.3 L445.6,453.7 M442.8,451.9 L443.3,452.5 M443.6,445.8 L442.8,446.4 M446.9,474.2 L447.3,474.8 M456.6,441.8 L457.3,442.3 M451.2,472.4 L451.8,473.3 M561.8,471.8 L560.9,471.9 M560.2,456.8 L560.4,458.3 M568.6,460.8 L569.0,461.4 M569.1,469.3 L568.8,470.6 M563.4,456.8 L563.3,457.7 M563.6,475.4 L563.1,475.8 M570.9,466.6 L571.6,468.0 M556.3,475.3 L557.4,475.6 M570.5,463.3 L570.9,464.7 M568.9,463.2 L568.2,463.9 M560.9,471.3 L560.1,471.9 M560.1,458.0 L560.0,459.1 M566.5,458.5 L565.9,459.6 M563.1,466.2 L564.0,467.3 M559.6,463.6 L558.8,464.4 M559.3,462.6 L558.6,463.6 M553.6,479.3 L553.2,480.6 M556.1,476.0 L556.7,476.5 M568.2,472.8 L567.9,473.4 M566.6,460.2 L568.0,460.4 M564.5,472.9 L565.1,473.9 M560.2,460.2 L561.3,461.1 M569.9,468.0 L571.3,468.2 M480.7,472.7 L480.8,473.4 M490.2,469.5 L490.0,470.5 M487.9,471.3 L489.0,472.2 M497.1,474.8 L496.5,474.8 M487.5,470.1 L486.9,471.0 M487.4,475.3 L488.5,476.0 M488.6,473.3 L489.6,474.0 M484.9,475.3 L484.6,476.6 M491.3,469.9 L492.1,470.1 M545.1,439.3 L545.7,440.0 M534.7,440.4 L533.8,440.5 M536.2,436.8 L535.3,437.4 M532.9,438.0 L533.0,439.6 M546.9,436.7 L547.0,438.1 M543.1,441.1 L543.8,441.6 M529.9,436.8 L529.0,438.0 M548.6,442.2 L547.4,443.0 M535.5,440.6 L535.7,441.2 M545.6,437.3 L545.6,437.9 M549.2,440.4 L550.1,440.6 M540.7,436.2 L540.8,437.5 M532.9,440.8 L533.6,441.1 M540.9,440.0 L540.3,441.2 M544.2,446.7 L543.7,447.2 M542.7,442.3 L542.1,443.4 M536.0,439.7 L535.4,440.6 M531.8,437.0 L531.6,437.6 M532.4,436.0 L533.2,436.6 M544.6,436.7 L544.1,437.9 M547.6,437.1 L548.2,437.2 M532.9,436.5 L533.8,437.3 M549.6,439.1 L548.8,439.3 M548.5,437.8 L549.7,438.6 M534.4,441.6 L535.7,442.1 M544.2,436.0 L545.6,436.0 M540.2,437.1 L540.2,438.3 M540.9,437.8 L541.5,438.0 M544.7,443.8 L544.9,444.3 M545.2,437.0 L545.3,437.7 M547.7,444.6 L547.8,445.3 M542.3,446.1 L541.3,447.2 M541.1,443.9 L540.6,444.4 M539.5,435.6 L539.1,436.0 M545.2,439.6 L545.1,440.6 M539.7,439.7 L539.0,441.1 M466.3,439.6 L464.9,440.0 M465.7,438.1 L466.1,439.5 M461.9,435.6 L462.2,436.9 M451.2,447.3 L451.6,448.1 M451.8,444.7 L450.5,444.8 M468.4,440.3 L467.0,441.1 M452.4,445.6 L453.2,445.6 M469.5,437.4 L470.2,438.6 M468.3,438.0 L467.4,438.7 M458.2,437.5 L458.8,438.5 M461.2,450.4 L461.1,451.7 M465.7,436.4 L466.2,437.8 M467.9,436.8 L468.7,437.1 M461.9,437.1 L462.8,437.1 M468.7,436.4 L469.5,436.9 M463.6,441.0 L462.7,441.9 M450.2,448.4 L451.5,448.6 M450.9,448.3 L449.7,448.5 M461.5,441.3 L461.1,442.5 M449.5,452.2 L450.1,452.3 M450.9,450.6 L451.9,451.0 M466.6,441.4 L467.5,442.5 M453.8,445.3 L453.2,446.2 M462.5,447.7 L461.9,448.0 M467.5,439.5 L467.1,440.3 M446.9,449.3 L446.2,449.6 M461.4,442.8 L461.0,443.5 M448.1,451.4 L447.2,451.5 M460.6,443.3 L461.1,443.7 M457.4,437.0 L458.8,437.6 M458.9,440.0 L460.1,440.6 M452.2,446.1 L452.2,446.8 M459.2,438.4 L459.8,439.2" fill="none" stroke="#3A2020" stroke-width="0.8" stroke-opacity="0.75"/>
<path d="M494.0,457.1 L495.2,457.1 M495.4,457.5 L496.6,457.5 M497.8,457.1 L499.0,457.1 M500.2,457.8 L501.4,457.8 M502.7,457.1 L503.9,457.1 M504.1,456.1 L505.3,456.1 M503.7,454.7 L504.9,454.7 M505.0,460.0 L506.2,460.0 M506.0,461.0 L507.2,461.0 M519.6,459.5 L520.8,459.5 M518.2,460.7 L519.4,460.7 M502.3,467.8 L503.5,467.8 M502.9,468.8 L504.1,468.8 M512.3,467.3 L513.5,467.3 M510.9,470.2 L512.1,470.2 M511.3,469.5 L512.5,469.5 M517.8,470.7 L519.0,470.7 M522.6,468.8 L523.8,468.8 M525.0,468.3 L526.2,468.3 M527.7,465.4 L528.9,465.4 M527.8,471.3 L529.0,471.3 M508.0,464.4 L509.2,464.4 M507.0,463.4 L508.2,463.4 M492.0,453.1 L493.2,453.1 M492.4,451.6 L493.6,451.6 M486.4,457.0 L487.6,457.0 M550.9,460.8 L552.1,460.8 M539.4,474.1 L540.6,474.1 M531.1,472.8 L532.3,472.8 M498.9,465.4 L500.1,465.4 M497.0,470.3 L498.2,470.3 M510.4,481.4 L511.6,481.4 M504.2,484.2 L505.4,484.2 M488.4,455.5 L489.6,455.5 M517.2,457.6 L518.4,457.6 M504.6,459.0 L505.8,459.0 M521.9,465.4 L523.1,465.4" fill="none" stroke="#5A3030" stroke-width="1.0" stroke-opacity="0.8"/>
<path d="M515.1,434.8 L514.6,435.0 L514.1,435.2 L513.6,435.4 L513.1,435.6 L512.5,435.8 L512.0,435.9 L511.4,436.0 L510.9,436.0 L510.3,436.1 L509.7,436.1 L509.2,436.1 L508.8,436.0 L508.3,436.0 L507.8,435.8 L507.2,435.6" fill="none" stroke="#4A2A2A" stroke-width="0.8" stroke-dasharray="1.2,0.8"/>
<path d="M484.0,424.4 L484.1,424.4 L484.3,424.4 L484.4,424.4 L484.6,424.4 L484.8,424.4 L485.0,424.4 L485.2,424.5 L485.5,424.6 L485.7,424.8 L486.0,424.9 L486.3,425.1 L486.6,425.2 L486.9,425.3 L487.2,425.5 L487.5,425.6 L487.9,425.7 L488.2,425.8 L488.6,426.0 L489.0,426.1 L489.4,426.2 L489.8,426.3 L490.2,426.4 L490.6,426.5 L491.1,426.6 L491.5,426.7 L492.0,426.8 L492.4,426.9 L492.9,427.0 L493.4,427.1 L493.9,427.2 L494.4,427.3 L494.9,427.4 L495.4,427.4 L495.9,427.5 L496.4,427.6 L496.9,427.7 L497.5,427.7 L498.0,427.8 L498.6,427.8 L499.1,427.9 L499.7,428.0 L500.3,428.0 L500.8,428.1 L501.4,428.1 L502.0,428.1 L502.6,428.2 L503.2,428.2 L503.7,428.3 L504.3,428.3 L504.9,428.3 L505.5,428.3 L506.1,428.4 L506.7,428.4 L507.3,428.4 L508.0,428.4 L508.6,428.4 L509.2,428.4 L509.8,428.5 L510.4,428.5 L511.0,428.5 L511.6,428.5 L512.2,428.5 L512.8,428.4 L513.4,428.4 L514.0,428.4 L514.7,428.4 L515.3,428.4 L515.9,428.4 L516.5,428.3 L517.1,428.3 L517.7,428.3 L518.3,428.3 L518.8,428.2 L519.4,428.2 L520.0,428.1 L520.6,428.1 L521.2,428.1 L521.7,428.0 L522.3,428.0 L522.9,427.9 L523.4,427.8 L524.0,427.8 L524.5,427.7 L525.1,427.7 L525.6,427.6 L526.1,427.5 L526.6,427.4 L527.1,427.4 L527.6,427.3 L528.1,427.2 L528.6,427.1 L529.1,427.0 L529.6,426.9 L530.0,426.8 L530.5,426.7 L530.9,426.6 L531.4,426.5 L531.8,426.4 L532.2,426.3 L532.6,426.2 L533.0,426.1 L533.4,426.0 L533.8,425.8 L534.1,425.7 L534.5,425.6 L534.8,425.5 L535.1,425.3 L535.4,425.2 L535.7,425.1 L536.0,424.9 L536.3,424.8 L536.5,424.6 L536.8,424.5 L537.0,424.4 L537.2,424.4 L537.4,424.4 L537.6,424.4 L537.7,424.4 L537.9,424.4 L538.0,424.4 L538.0,424.4 L541.1,424.4 L544.1,424.6 L547.0,425.3 L549.9,426.1 L552.7,427.0 L555.4,427.8 L558.1,428.8 L560.7,429.8 L563.2,430.9 L565.6,432.0 L567.9,433.1 L570.1,434.3 L572.3,435.6 L574.3,436.9 L576.2,438.2 L578.0,439.5 L579.6,441.0 L581.2,442.4 L582.6,443.9 L584.0,445.4 L585.2,446.9 L586.2,448.4 L587.2,450.0 L588.0,451.6 L588.6,453.2 L589.2,454.8 L589.6,456.4 L589.8,458.0 L590.0,459.7 L590.0,461.3 L589.8,463.0 L589.6,464.6 L589.2,466.2 L588.6,467.8 L588.0,469.4 L587.2,471.0 L586.2,472.6 L585.2,474.1 L584.0,475.6 L582.6,477.1 L581.2,478.6 L579.6,480.0 L578.0,481.5 L576.2,482.8 L574.3,484.1 L572.3,485.4 L570.1,486.7 L567.9,487.9 L565.6,489.0 L563.2,490.1 L560.7,491.2 L558.1,492.2 L555.4,493.2 L552.7,494.0 L549.9,494.9 L547.0,495.7 L544.1,496.4 L541.1,496.6 L538.0,496.6 L538.0,496.6 L537.9,496.6 L537.7,496.6 L537.6,496.6 L537.4,496.6 L537.2,496.6 L537.0,496.6 L536.8,496.5 L536.5,496.4 L536.3,496.2 L536.0,496.1 L535.7,495.9 L535.4,495.8 L535.1,495.7 L534.8,495.5 L534.5,495.4 L534.1,495.3 L533.8,495.2 L533.4,495.0 L533.0,494.9 L532.6,494.8 L532.2,494.7 L531.8,494.6 L531.4,494.5 L530.9,494.4 L530.5,494.3 L530.0,494.2 L529.6,494.1 L529.1,494.0 L528.6,493.9 L528.1,493.8 L527.6,493.7 L527.1,493.6 L526.6,493.6 L526.1,493.5 L525.6,493.4 L525.1,493.3 L524.5,493.3 L524.0,493.2 L523.4,493.2 L522.9,493.1 L522.3,493.0 L521.7,493.0 L521.2,492.9 L520.6,492.9 L520.0,492.9 L519.4,492.8 L518.8,492.8 L518.3,492.7 L517.7,492.7 L517.1,492.7 L516.5,492.7 L515.9,492.6 L515.3,492.6 L514.7,492.6 L514.0,492.6 L513.4,492.6 L512.8,492.6 L512.2,492.5 L511.6,492.5 L511.0,492.5 L510.4,492.5 L509.8,492.5 L509.2,492.6 L508.6,492.6 L508.0,492.6 L507.3,492.6 L506.7,492.6 L506.1,492.6 L505.5,492.7 L504.9,492.7 L504.3,492.7 L503.7,492.7 L503.2,492.8 L502.6,492.8 L502.0,492.9 L501.4,492.9 L500.8,492.9 L500.3,493.0 L499.7,493.0 L499.1,493.1 L498.6,493.2 L498.0,493.2 L497.5,493.3 L496.9,493.3 L496.4,493.4 L495.9,493.5 L495.4,493.6 L494.9,493.6 L494.4,493.7 L493.9,493.8 L493.4,493.9 L492.9,494.0 L492.4,494.1 L492.0,494.2 L491.5,494.3 L491.1,494.4 L490.6,494.5 L490.2,494.6 L489.8,494.7 L489.4,494.8 L489.0,494.9 L488.6,495.0 L488.2,495.2 L487.9,495.3 L487.5,495.4 L487.2,495.5 L486.9,495.7 L486.6,495.8 L486.3,495.9 L486.0,496.1 L485.7,496.2 L485.5,496.4 L485.2,496.5 L485.0,496.6 L484.8,496.6 L484.6,496.6 L484.4,496.6 L484.3,496.6 L484.1,496.6 L484.0,496.6 L484.0,496.6 L480.9,496.6 L477.9,496.4 L475.0,495.7 L472.1,494.9 L469.3,494.0 L466.6,493.2 L463.9,492.2 L461.3,491.2 L458.8,490.1 L456.4,489.0 L454.1,487.9 L451.9,486.7 L449.7,485.4 L447.7,484.1 L445.8,482.8 L444.0,481.5 L442.4,480.0 L440.8,478.6 L439.4,477.1 L438.0,475.6 L436.8,474.1 L435.8,472.6 L434.8,471.0 L434.0,469.4 L433.4,467.8 L432.8,466.2 L432.4,464.6 L432.2,463.0 L432.0,461.3 L432.0,459.7 L432.2,458.0 L432.4,456.4 L432.8,454.8 L433.4,453.2 L434.0,451.6 L434.8,450.0 L435.8,448.4 L436.8,446.9 L438.0,445.4 L439.4,443.9 L440.8,442.4 L442.4,441.0 L444.0,439.5 L445.8,438.2 L447.7,436.9 L449.7,435.6 L451.9,434.3 L454.1,433.1 L456.4,432.0 L458.8,430.9 L461.3,429.8 L463.9,428.8 L466.6,427.8 L469.3,427.0 L472.1,426.1 L475.0,425.3 L477.9,424.6 L480.9,424.4 L484.0,424.4Z" fill="none" stroke="#000000" stroke-width="2.3" stroke-linejoin="round"/>
<path d="M561.81,482.25 L562.64,484.32 L564.86,484.47 L563.14,485.89 L563.69,488.04 L561.81,486.85 L559.93,488.04 L560.48,485.89 L558.77,484.47 L560.99,484.32Z" fill="#0000FF"/>
</svg></body></html>
